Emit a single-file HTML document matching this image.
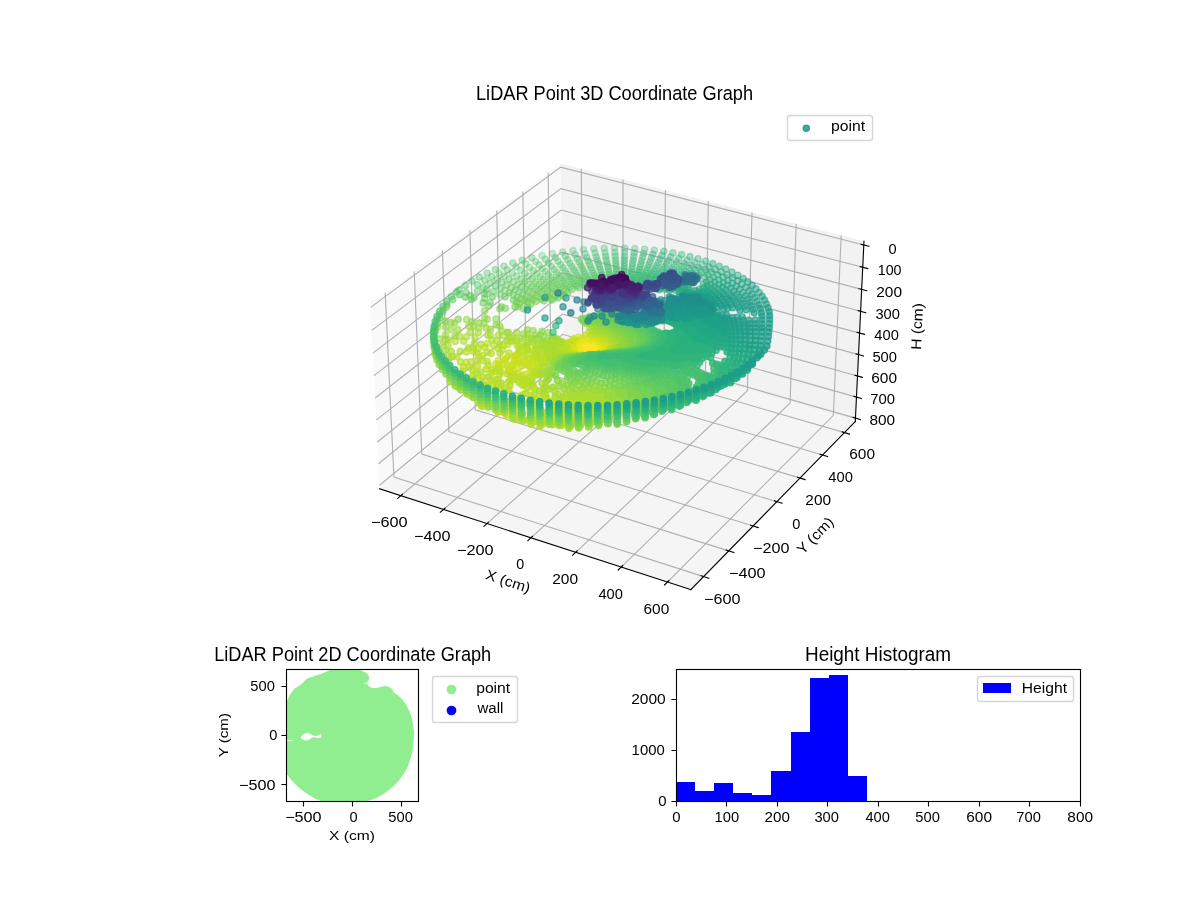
<!DOCTYPE html>
<html lang="en"><head><meta charset="utf-8"><title>LiDAR Point Coordinate Graphs</title>
<style>html,body{margin:0;padding:0;background:#fff}
svg{display:block}
text{font-family:"Liberation Sans", sans-serif;fill:#000;text-anchor:middle}
.g{fill:none;stroke:#b0b0b0;stroke-width:1.11}
.k{fill:none;stroke:#000;stroke-width:1.11;stroke-linecap:square}
.lg{fill:#fff;fill-opacity:.8;stroke:#ccc;stroke-opacity:.8;stroke-width:1.39}
#pc circle{stroke-width:1.39px}
.c0{fill:#440154;stroke:#440154}
.c1{fill:#46085c;stroke:#46085c}
.c2{fill:#471063;stroke:#471063}
.c3{fill:#48186a;stroke:#48186a}
.c4{fill:#481f70;stroke:#481f70}
.c5{fill:#482677;stroke:#482677}
.c6{fill:#472d7b;stroke:#472d7b}
.c7{fill:#463480;stroke:#463480}
.c8{fill:#443a83;stroke:#443a83}
.c9{fill:#424186;stroke:#424186}
.c10{fill:#3f4788;stroke:#3f4788}
.c11{fill:#3d4d8a;stroke:#3d4d8a}
.c12{fill:#3a538b;stroke:#3a538b}
.c13{fill:#38598c;stroke:#38598c}
.c14{fill:#355f8d;stroke:#355f8d}
.c15{fill:#32648e;stroke:#32648e}
.c16{fill:#306a8e;stroke:#306a8e}
.c17{fill:#2e6f8e;stroke:#2e6f8e}
.c18{fill:#2b748e;stroke:#2b748e}
.c19{fill:#29798e;stroke:#29798e}
.c20{fill:#277e8e;stroke:#277e8e}
.c21{fill:#25838e;stroke:#25838e}
.c22{fill:#23888e;stroke:#23888e}
.c23{fill:#218e8d;stroke:#218e8d}
.c24{fill:#20928c;stroke:#20928c}
.c25{fill:#1f988b;stroke:#1f988b}
.c26{fill:#1e9d89;stroke:#1e9d89}
.c27{fill:#1fa287;stroke:#1fa287}
.c28{fill:#22a785;stroke:#22a785}
.c29{fill:#25ac82;stroke:#25ac82}
.c30{fill:#2cb17e;stroke:#2cb17e}
.c31{fill:#32b67a;stroke:#32b67a}
.c32{fill:#3bbb75;stroke:#3bbb75}
.c33{fill:#44bf70;stroke:#44bf70}
.c34{fill:#50c46a;stroke:#50c46a}
.c35{fill:#5ac864;stroke:#5ac864}
.c36{fill:#67cc5c;stroke:#67cc5c}
.c37{fill:#73d056;stroke:#73d056}
.c38{fill:#7fd34e;stroke:#7fd34e}
.c39{fill:#8ed645;stroke:#8ed645}
.c40{fill:#9bd93c;stroke:#9bd93c}
.c41{fill:#aadc32;stroke:#aadc32}
.c42{fill:#b8de29;stroke:#b8de29}
.c43{fill:#c8e020;stroke:#c8e020}
.c44{fill:#d5e21a;stroke:#d5e21a}
.c45{fill:#e5e419;stroke:#e5e419}
.c46{fill:#f1e51d;stroke:#f1e51d}
.c47{fill:#fde725;stroke:#fde725}</style></head><body>
<svg width="1200" height="900" viewBox="0 0 1200 900">
<rect width="1200" height="900" fill="#fff"/>
<polygon points="370.4,303.6 560.6,163.5 562.7,337.7 379.7,488.8" fill="#f9f9f9"/>
<polygon points="560.6,163.5 864,241.2 855.3,421.6 562.7,337.7" fill="#f2f2f2"/>
<polygon points="379.7,488.8 690.8,589.6 855.3,421.6 562.7,337.7" fill="#f5f5f5"/>
<polyline class="g" points="400.8,495.7 582.7,343.4 581.3,168.8"/>
<polyline class="g" points="443.5,509.5 623,355 623,179.5"/>
<polyline class="g" points="486.9,523.6 663.9,366.7 665.4,190.3"/>
<polyline class="g" points="531,537.8 705.3,378.6 708.3,201.3"/>
<polyline class="g" points="575.7,552.3 747.4,390.7 752,212.5"/>
<polyline class="g" points="621.2,567.1 790.1,402.9 796.2,223.9"/>
<polyline class="g" points="667.4,582.1 833.4,415.3 841.2,235.4"/>
<polyline class="g" points="703.6,576.6 393.9,477.1 385.2,292.7"/>
<polyline class="g" points="728.7,550.9 421.8,454.1 414.2,271.3"/>
<polyline class="g" points="753.2,526 448.9,431.7 442.4,250.6"/>
<polyline class="g" points="776.9,501.7 475.3,409.9 469.9,230.3"/>
<polyline class="g" points="800.1,478.1 501.1,388.6 496.7,210.6"/>
<polyline class="g" points="822.6,455 526.2,367.9 522.8,191.4"/>
<polyline class="g" points="844.6,432.6 550.7,347.6 548.2,172.7"/>
<polyline class="g" points="370.6,307.4 560.7,167.1 863.8,245"/>
<polyline class="g" points="371.8,330.4 560.9,188.6 862.7,267.3"/>
<polyline class="g" points="372.9,353.1 561.2,210 861.7,289.4"/>
<polyline class="g" points="374,375.6 561.5,231.1 860.6,311.3"/>
<polyline class="g" points="375.2,398 561.7,252.1 859.6,333.1"/>
<polyline class="g" points="376.3,420.1 562,272.9 858.5,354.6"/>
<polyline class="g" points="377.4,442 562.2,293.5 857.5,376"/>
<polyline class="g" points="378.5,463.7 562.4,314 856.5,397.1"/>
<polyline class="g" points="379.6,485.2 562.7,334.3 855.5,418.1"/>
<polyline class="k" points="379.7,488.8 690.8,589.6"/>
<polyline class="k" points="690.8,589.6 855.3,421.6"/>
<polyline class="k" points="855.3,421.6 864,241.2"/>
<path class="k" d="M402.4 494.3L397.7 498.3M445.1 508.1L440.4 512.2M488.5 522.2L483.8 526.3M532.5 536.4L527.9 540.6M577.2 550.9L572.7 555.2M622.7 565.6L618.2 570M668.9 580.6L664.5 585M701 575.7L708.8 578.2M726.1 550.1L733.9 552.5M750.6 525.2L758.3 527.6M774.4 500.9L782 503.2M797.6 477.3L805.1 479.6M820.1 454.3L827.6 456.5M842.1 431.9L849.5 434.1M861.2 244.3L868.9 246.3M860.2 266.6L867.8 268.6M859.1 288.7L866.7 290.7M858.1 310.6L865.7 312.7M857.1 332.4L864.6 334.4M856 353.9L863.5 356M855 375.3L862.5 377.4M854 396.4L861.5 398.5M853 417.4L860.4 419.6"/>
<g id="pc">
<g fill-opacity="0.29" stroke-opacity="0.29">
<circle class="c32" cx="604.2" cy="248.3" r="3.1"/>
<circle class="c33" cx="593.8" cy="248.8" r="3.1"/>
<circle class="c32" cx="614.5" cy="248.1" r="3.1"/>
<circle class="c33" cx="583.4" cy="249.5" r="3.1"/>
<circle class="c32" cx="624.7" cy="248.2" r="3.1"/>
<circle class="c33" cx="573" cy="250.6" r="3.1"/>
<circle class="c32" cx="634.8" cy="248.6" r="3.1"/>
<circle class="c33" cx="562.7" cy="252" r="3.1"/>
<circle class="c32" cx="644.7" cy="249.2" r="3.1"/>
<circle class="c33" cx="552.4" cy="253.6" r="3.1"/>
<circle class="c33" cx="605" cy="252.5" r="3.1"/>
<circle class="c33" cx="595" cy="252.9" r="3.1"/>
<circle class="c32" cx="614.8" cy="252.3" r="3.1"/>
<circle class="c33" cx="585.1" cy="253.7" r="3.1"/>
<circle class="c31" cx="654.4" cy="250.2" r="3.1"/>
<circle class="c32" cx="624.6" cy="252.3" r="3.1"/>
<circle class="c34" cx="542" cy="255.5" r="3.1"/>
<circle class="c33" cx="575.1" cy="254.7" r="3.1"/>
</g>
<g fill-opacity="0.36" stroke-opacity="0.36">
<circle class="c32" cx="634.2" cy="252.7" r="3.1"/>
<circle class="c33" cx="565.2" cy="256" r="3.1"/>
<circle class="c34" cx="531.8" cy="257.7" r="3.1"/>
<circle class="c31" cx="663.8" cy="251.4" r="3.1"/>
<circle class="c34" cx="555.3" cy="257.6" r="3.1"/>
<circle class="c32" cx="643.7" cy="253.3" r="3.1"/>
<circle class="c33" cx="596.2" cy="256.8" r="3.1"/>
<circle class="c33" cx="605.7" cy="256.3" r="3.1"/>
<circle class="c33" cx="586.7" cy="257.5" r="3.1"/>
<circle class="c33" cx="615.2" cy="256.1" r="3.1"/>
<circle class="c34" cx="545.4" cy="259.4" r="3.1"/>
<circle class="c33" cx="577.1" cy="258.5" r="3.1"/>
<circle class="c31" cx="652.9" cy="254.2" r="3.1"/>
<circle class="c32" cx="624.5" cy="256.2" r="3.1"/>
<circle class="c31" cx="672.9" cy="252.9" r="3.1"/>
<circle class="c34" cx="567.6" cy="259.7" r="3.1"/>
<circle class="c34" cx="522.2" cy="260.3" r="3.1"/>
<circle class="c32" cx="633.7" cy="256.5" r="3.1"/>
<circle class="c34" cx="535.5" cy="261.5" r="3.1"/>
<circle class="c34" cx="558" cy="261.3" r="3.1"/>
<circle class="c31" cx="661.9" cy="255.4" r="3.1"/>
<circle class="c32" cx="642.7" cy="257.1" r="3.1"/>
<circle class="c33" cx="597.3" cy="260.4" r="3.1"/>
<circle class="c33" cx="588.2" cy="261.1" r="3.1"/>
<circle class="c33" cx="606.4" cy="259.9" r="3.1"/>
<circle class="c34" cx="548.5" cy="263.1" r="3.1"/>
<circle class="c30" cx="681.6" cy="254.6" r="3.1"/>
<circle class="c33" cx="615.5" cy="259.7" r="3.1"/>
<circle class="c34" cx="579" cy="262" r="3.1"/>
<circle class="c34" cx="525.7" cy="263.9" r="3.1"/>
<circle class="c34" cx="512.9" cy="263.1" r="3.1"/>
<circle class="c32" cx="624.4" cy="259.8" r="3.1"/>
<circle class="c32" cx="651.5" cy="257.9" r="3.1"/>
<circle class="c34" cx="569.8" cy="263.2" r="3.1"/>
<circle class="c31" cx="670.6" cy="256.7" r="3.1"/>
<circle class="c34" cx="539" cy="265.1" r="3.1"/>
<circle class="c32" cx="633.2" cy="260.1" r="3.1"/>
<circle class="c34" cx="560.6" cy="264.7" r="3.1"/>
<circle class="c35" cx="516.2" cy="266.7" r="3.1"/>
<circle class="c31" cx="660.1" cy="259" r="3.1"/>
<circle class="c32" cx="641.8" cy="260.6" r="3.1"/>
<circle class="c30" cx="690" cy="256.6" r="3.1"/>
<circle class="c33" cx="598.4" cy="263.7" r="3.1"/>
<circle class="c34" cx="551.4" cy="266.5" r="3.1"/>
<circle class="c34" cx="589.6" cy="264.4" r="3.1"/>
<circle class="c33" cx="607.1" cy="263.3" r="3.1"/>
<circle class="c34" cx="580.7" cy="265.3" r="3.1"/>
<circle class="c35" cx="529.7" cy="267.5" r="3.1"/>
<circle class="c33" cx="615.8" cy="263.1" r="3.1"/>
<circle class="c31" cx="678.9" cy="258.3" r="3.1"/>
<circle class="c34" cx="503.9" cy="266.2" r="3.1"/>
<circle class="c34" cx="571.8" cy="266.5" r="3.1"/>
<circle class="c32" cx="624.3" cy="263.1" r="3.1"/>
<circle class="c32" cx="650.2" cy="261.4" r="3.1"/>
<circle class="c35" cx="542.3" cy="268.5" r="3.1"/>
<circle class="c34" cx="563" cy="267.9" r="3.1"/>
<circle class="c31" cx="668.4" cy="260.3" r="3.1"/>
<circle class="c32" cx="632.7" cy="263.4" r="3.1"/>
<circle class="c35" cx="507.2" cy="269.7" r="3.1"/>
<circle class="c35" cx="520.7" cy="270.1" r="3.1"/>
<circle class="c35" cx="554.2" cy="269.6" r="3.1"/>
<circle class="c31" cx="658.5" cy="262.4" r="3.1"/>
<circle class="c30" cx="698" cy="258.7" r="3.1"/>
<circle class="c34" cx="590.9" cy="267.5" r="3.1"/>
<circle class="c33" cx="599.4" cy="266.8" r="3.1"/>
<circle class="c34" cx="582.3" cy="268.4" r="3.1"/>
<circle class="c32" cx="640.9" cy="263.9" r="3.1"/>
<circle class="c35" cx="533.4" cy="270.7" r="3.1"/>
<circle class="c30" cx="687" cy="260.2" r="3.1"/>
<circle class="c33" cx="607.7" cy="266.4" r="3.1"/>
<circle class="c34" cx="573.8" cy="269.6" r="3.1"/>
<circle class="c33" cx="616" cy="266.2" r="3.1"/>
<circle class="c31" cx="676.4" cy="261.8" r="3.1"/>
<circle class="c35" cx="545.4" cy="271.6" r="3.1"/>
<circle class="c34" cx="495.3" cy="269.6" r="3.1"/>
<circle class="c35" cx="565.2" cy="271" r="3.1"/>
<circle class="c32" cx="624.2" cy="266.2" r="3.1"/>
<circle class="c32" cx="649" cy="264.6" r="3.1"/>
<circle class="c31" cx="666.4" cy="263.6" r="3.1"/>
<circle class="c32" cx="632.2" cy="266.5" r="3.1"/>
<circle class="c35" cx="556.7" cy="272.6" r="3.1"/>
<circle class="c35" cx="512.1" cy="273" r="3.1"/>
<circle class="c35" cx="524.8" cy="273.3" r="3.1"/>
<circle class="c34" cx="592.1" cy="270.4" r="3.1"/>
<circle class="c35" cx="536.9" cy="273.8" r="3.1"/>
<circle class="c34" cx="583.9" cy="271.3" r="3.1"/>
<circle class="c35" cx="499.1" cy="273" r="3.1"/>
<circle class="c33" cx="600.3" cy="269.8" r="3.1"/>
<circle class="c31" cx="656.9" cy="265.5" r="3.1"/>
<circle class="c30" cx="694.6" cy="262.2" r="3.1"/>
<circle class="c29" cx="705.6" cy="261" r="3.1"/>
<circle class="c34" cx="575.6" cy="272.4" r="3.1"/>
<circle class="c33" cx="608.4" cy="269.3" r="3.1"/>
<circle class="c32" cx="640.1" cy="266.9" r="3.1"/>
<circle class="c30" cx="684.2" cy="263.5" r="3.1"/>
<circle class="c35" cx="548.4" cy="274.5" r="3.1"/>
<circle class="c33" cx="616.3" cy="269.1" r="3.1"/>
<circle class="c35" cx="567.4" cy="273.8" r="3.1"/>
<circle class="c31" cx="674.1" cy="265" r="3.1"/>
<circle class="c32" cx="624.1" cy="269.1" r="3.1"/>
<circle class="c32" cx="647.9" cy="267.6" r="3.1"/>
<circle class="c35" cx="559.2" cy="275.4" r="3.1"/>
<circle class="c31" cx="664.5" cy="266.6" r="3.1"/>
<circle class="c34" cx="487.1" cy="273.2" r="3.1"/>
<circle class="c35" cx="528.7" cy="276.3" r="3.1"/>
<circle class="c35" cx="516.7" cy="276.1" r="3.1"/>
<circle class="c32" cx="631.8" cy="269.3" r="3.1"/>
<circle class="c35" cx="540.2" cy="276.7" r="3.1"/>
<circle class="c34" cx="585.4" cy="274" r="3.1"/>
<circle class="c34" cx="593.4" cy="273.2" r="3.1"/>
<circle class="c35" cx="504.3" cy="276.1" r="3.1"/>
<circle class="c35" cx="577.4" cy="275.2" r="3.1"/>
<circle class="c33" cx="601.2" cy="272.5" r="3.1"/>
<circle class="c35" cx="551.1" cy="277.3" r="3.1"/>
<circle class="c30" cx="691.5" cy="265.4" r="3.1"/>
<circle class="c31" cx="655.4" cy="268.4" r="3.1"/>
<circle class="c33" cx="608.9" cy="272.1" r="3.1"/>
<circle class="c30" cx="701.9" cy="264.4" r="3.1"/>
</g>
<g fill-opacity="0.43" stroke-opacity="0.43">
<circle class="c35" cx="569.4" cy="276.5" r="3.1"/>
<circle class="c31" cx="681.5" cy="266.6" r="3.1"/>
<circle class="c32" cx="639.4" cy="269.7" r="3.1"/>
<circle class="c29" cx="712.7" cy="263.6" r="3.1"/>
<circle class="c33" cx="616.5" cy="271.8" r="3.1"/>
<circle class="c35" cx="491.7" cy="276.5" r="3.1"/>
<circle class="c31" cx="671.9" cy="268" r="3.1"/>
<circle class="c35" cx="561.5" cy="278.1" r="3.1"/>
<circle class="c32" cx="624" cy="271.8" r="3.1"/>
<circle class="c36" cx="532.3" cy="279.1" r="3.1"/>
<circle class="c35" cx="520.9" cy="279" r="3.1"/>
<circle class="c32" cx="646.7" cy="270.4" r="3.1"/>
<circle class="c36" cx="543.3" cy="279.4" r="3.1"/>
<circle class="c31" cx="662.7" cy="269.5" r="3.1"/>
<circle class="c34" cx="586.8" cy="276.6" r="3.1"/>
<circle class="c35" cx="509.1" cy="279.1" r="3.1"/>
<circle class="c34" cx="594.5" cy="275.7" r="3.1"/>
<circle class="c35" cx="579.1" cy="277.7" r="3.1"/>
<circle class="c32" cx="631.4" cy="272" r="3.1"/>
<circle class="c36" cx="553.8" cy="279.9" r="3.1"/>
<circle class="c33" cx="602" cy="275.1" r="3.1"/>
<circle class="c35" cx="571.4" cy="279" r="3.1"/>
<circle class="c30" cx="688.6" cy="268.4" r="3.1"/>
<circle class="c33" cx="609.5" cy="274.6" r="3.1"/>
<circle class="c34" cx="479.3" cy="277.1" r="3.1"/>
<circle class="c30" cx="698.5" cy="267.5" r="3.1"/>
<circle class="c31" cx="653.9" cy="271.2" r="3.1"/>
<circle class="c31" cx="679" cy="269.5" r="3.1"/>
<circle class="c32" cx="638.6" cy="272.4" r="3.1"/>
<circle class="c35" cx="497.1" cy="279.5" r="3.1"/>
<circle class="c35" cx="563.8" cy="280.6" r="3.1"/>
<circle class="c33" cx="616.8" cy="274.4" r="3.1"/>
<circle class="c29" cx="708.8" cy="266.8" r="3.1"/>
<circle class="c36" cx="535.7" cy="281.7" r="3.1"/>
<circle class="c31" cx="669.8" cy="270.8" r="3.1"/>
<circle class="c36" cx="524.8" cy="281.7" r="3.1"/>
<circle class="c36" cx="546.2" cy="281.9" r="3.1"/>
<circle class="c32" cx="623.9" cy="274.4" r="3.1"/>
<circle class="c29" cx="719.4" cy="266.3" r="3.1"/>
<circle class="c32" cx="645.7" cy="273" r="3.1"/>
<circle class="c36" cx="513.6" cy="281.9" r="3.1"/>
<circle class="c34" cx="588.2" cy="279" r="3.1"/>
<circle class="c36" cx="556.3" cy="282.4" r="3.1"/>
<circle class="c35" cx="580.8" cy="280.1" r="3.1"/>
<circle class="c31" cx="660.9" cy="272.2" r="3.1"/>
<circle class="c34" cx="595.6" cy="278.1" r="3.1"/>
<circle class="c35" cx="573.3" cy="281.4" r="3.1"/>
<circle class="c35" cx="484.7" cy="280.2" r="3.1"/>
<circle class="c32" cx="631" cy="274.5" r="3.1"/>
<circle class="c33" cx="602.9" cy="277.5" r="3.1"/>
<circle class="c30" cx="685.8" cy="271.2" r="3.1"/>
<circle class="c33" cx="610" cy="277" r="3.1"/>
<circle class="c30" cx="695.4" cy="270.4" r="3.1"/>
<circle class="c36" cx="565.9" cy="283" r="3.1"/>
<circle class="c35" cx="502.1" cy="282.3" r="3.1"/>
<circle class="c31" cx="676.6" cy="272.2" r="3.1"/>
<circle class="c31" cx="652.6" cy="273.7" r="3.1"/>
<circle class="c36" cx="538.9" cy="284.2" r="3.1"/>
<circle class="c32" cx="637.9" cy="274.9" r="3.1"/>
<circle class="c30" cx="705.2" cy="269.7" r="3.1"/>
<circle class="c36" cx="528.5" cy="284.2" r="3.1"/>
<circle class="c36" cx="549" cy="284.3" r="3.1"/>
<circle class="c33" cx="617" cy="276.8" r="3.1"/>
<circle class="c31" cx="667.7" cy="273.4" r="3.1"/>
<circle class="c36" cx="517.8" cy="284.5" r="3.1"/>
<circle class="c36" cx="558.7" cy="284.7" r="3.1"/>
<circle class="c32" cx="623.9" cy="276.7" r="3.1"/>
<circle class="c35" cx="582.4" cy="282.4" r="3.1"/>
<circle class="c29" cx="715.2" cy="269.3" r="3.1"/>
<circle class="c34" cx="589.5" cy="281.3" r="3.1"/>
<circle class="c32" cx="644.7" cy="275.4" r="3.1"/>
<circle class="c34" cx="596.6" cy="280.4" r="3.1"/>
<circle class="c35" cx="575.2" cy="283.7" r="3.1"/>
<circle class="c34" cx="472.1" cy="281.1" r="3.1"/>
<circle class="c35" cx="490.3" cy="283.1" r="3.1"/>
<circle class="c31" cx="659.3" cy="274.7" r="3.1"/>
<circle class="c33" cx="603.6" cy="279.7" r="3.1"/>
<circle class="c32" cx="630.6" cy="276.9" r="3.1"/>
<circle class="c36" cx="568" cy="285.2" r="3.1"/>
<circle class="c35" cx="506.8" cy="285" r="3.1"/>
<circle class="c36" cx="541.9" cy="286.5" r="3.1"/>
<circle class="c29" cx="725.8" cy="269.1" r="3.1"/>
<circle class="c30" cx="692.4" cy="273.1" r="3.1"/>
<circle class="c31" cx="683.2" cy="273.8" r="3.1"/>
<circle class="c33" cx="610.5" cy="279.3" r="3.1"/>
<circle class="c36" cx="531.9" cy="286.6" r="3.1"/>
<circle class="c36" cx="551.7" cy="286.6" r="3.1"/>
<circle class="c31" cx="674.3" cy="274.7" r="3.1"/>
<circle class="c30" cx="701.8" cy="272.5" r="3.1"/>
<circle class="c31" cx="651.3" cy="276.1" r="3.1"/>
<circle class="c33" cx="617.2" cy="279" r="3.1"/>
<circle class="c32" cx="637.2" cy="277.2" r="3.1"/>
<circle class="c36" cx="521.7" cy="286.9" r="3.1"/>
<circle class="c36" cx="561" cy="286.9" r="3.1"/>
<circle class="c31" cx="665.8" cy="275.8" r="3.1"/>
<circle class="c35" cx="583.9" cy="284.5" r="3.1"/>
<circle class="c29" cx="711.4" cy="272.2" r="3.1"/>
<circle class="c34" cx="590.8" cy="283.4" r="3.1"/>
<circle class="c32" cx="623.8" cy="278.9" r="3.1"/>
<circle class="c35" cx="576.9" cy="285.8" r="3.1"/>
<circle class="c35" cx="495.5" cy="285.8" r="3.1"/>
<circle class="c34" cx="597.7" cy="282.5" r="3.1"/>
<circle class="c31" cx="643.7" cy="277.7" r="3.1"/>
<circle class="c36" cx="544.8" cy="288.7" r="3.1"/>
<circle class="c34" cx="477.5" cy="284.7" r="3.1"/>
<circle class="c36" cx="511.2" cy="287.5" r="3.1"/>
<circle class="c33" cx="604.4" cy="281.9" r="3.1"/>
<circle class="c36" cx="570.1" cy="287.3" r="3.1"/>
<circle class="c31" cx="657.7" cy="277" r="3.1"/>
<circle class="c36" cx="535.2" cy="288.9" r="3.1"/>
<circle class="c36" cx="554.2" cy="288.8" r="3.1"/>
<circle class="c32" cx="630.3" cy="279" r="3.1"/>
<circle class="c30" cx="689.6" cy="275.6" r="3.1"/>
<circle class="c29" cx="721.4" cy="272" r="3.1"/>
<circle class="c33" cx="610.9" cy="281.4" r="3.1"/>
<circle class="c31" cx="680.7" cy="276.3" r="3.1"/>
<circle class="c30" cx="698.7" cy="275.1" r="3.1"/>
<circle class="c36" cx="525.3" cy="289.3" r="3.1"/>
<circle class="c36" cx="563.3" cy="288.9" r="3.1"/>
<circle class="c31" cx="672.1" cy="277.1" r="3.1"/>
<circle class="c32" cx="617.4" cy="281.1" r="3.1"/>
<circle class="c31" cx="650" cy="278.3" r="3.1"/>
<circle class="c32" cx="636.6" cy="279.3" r="3.1"/>
<circle class="c35" cx="500.4" cy="288.3" r="3.1"/>
<circle class="c35" cx="585.4" cy="286.5" r="3.1"/>
<circle class="c30" cx="707.9" cy="274.8" r="3.1"/>
<circle class="c34" cx="592.1" cy="285.4" r="3.1"/>
<circle class="c28" cx="732" cy="272.1" r="3.1"/>
<circle class="c35" cx="578.7" cy="287.8" r="3.1"/>
<circle class="c31" cx="663.9" cy="278.1" r="3.1"/>
<circle class="c32" cx="623.7" cy="281" r="3.1"/>
<circle class="c34" cx="465.4" cy="285.4" r="3.1"/>
<circle class="c36" cx="547.6" cy="290.8" r="3.1"/>
<circle class="c35" cx="483.4" cy="287.3" r="3.1"/>
<circle class="c36" cx="515.3" cy="289.8" r="3.1"/>
<circle class="c34" cx="598.6" cy="284.5" r="3.1"/>
<circle class="c36" cx="538.3" cy="291" r="3.1"/>
<circle class="c36" cx="572.1" cy="289.2" r="3.1"/>
<circle class="c36" cx="556.7" cy="290.8" r="3.1"/>
<circle class="c33" cx="605.1" cy="283.9" r="3.1"/>
<circle class="c31" cx="642.8" cy="279.8" r="3.1"/>
<circle class="c36" cx="528.8" cy="291.4" r="3.1"/>
<circle class="c31" cx="656.2" cy="279.2" r="3.1"/>
<circle class="c32" cx="629.9" cy="281.1" r="3.1"/>
<circle class="c29" cx="717.4" cy="274.7" r="3.1"/>
<circle class="c33" cx="611.4" cy="283.4" r="3.1"/>
<circle class="c30" cx="686.8" cy="278" r="3.1"/>
<circle class="c30" cx="695.6" cy="277.5" r="3.1"/>
<circle class="c36" cx="565.5" cy="290.9" r="3.1"/>
<circle class="c31" cx="678.2" cy="278.5" r="3.1"/>
<circle class="c35" cx="486.5" cy="289.4" r="3.1"/>
<circle class="c36" cx="504.9" cy="290.7" r="3.1"/>
<circle class="c32" cx="617.6" cy="283.1" r="3.1"/>
<circle class="c31" cx="669.9" cy="279.3" r="3.1"/>
<circle class="c32" cx="636" cy="281.3" r="3.1"/>
<circle class="c31" cx="648.8" cy="280.4" r="3.1"/>
<circle class="c30" cx="704.6" cy="277.3" r="3.1"/>
<circle class="c36" cx="519.1" cy="292.1" r="3.1"/>
<circle class="c36" cx="550.3" cy="292.8" r="3.1"/>
<circle class="c37" cx="541.3" cy="293.1" r="3.1"/>
<circle class="c29" cx="727.3" cy="274.9" r="3.1"/>
<circle class="c32" cx="623.7" cy="283" r="3.1"/>
<circle class="c34" cx="599.5" cy="286.4" r="3.1"/>
<circle class="c36" cx="559.1" cy="292.7" r="3.1"/>
<circle class="c31" cx="662.1" cy="280.2" r="3.1"/>
<circle class="c37" cx="532.1" cy="293.5" r="3.1"/>
<circle class="c33" cx="605.7" cy="285.7" r="3.1"/>
<circle class="c31" cx="641.9" cy="281.8" r="3.1"/>
<circle class="c29" cx="713.6" cy="277.3" r="3.1"/>
<circle class="c32" cx="629.6" cy="283" r="3.1"/>
<circle class="c35" cx="493.4" cy="291.6" r="3.1"/>
<circle class="c33" cx="611.8" cy="285.3" r="3.1"/>
<circle class="c36" cx="567.7" cy="292.7" r="3.1"/>
<circle class="c31" cx="654.7" cy="281.2" r="3.1"/>
<circle class="c36" cx="509.3" cy="292.9" r="3.1"/>
<circle class="c30" cx="684" cy="280.1" r="3.1"/>
<circle class="c30" cx="692.6" cy="279.8" r="3.1"/>
<circle class="c36" cx="522.8" cy="294.2" r="3.1"/>
<circle class="c28" cx="737.8" cy="275.2" r="3.1"/>
<circle class="c30" cx="675.7" cy="280.7" r="3.1"/>
<circle class="c37" cx="544.1" cy="295" r="3.1"/>
<circle class="c37" cx="552.9" cy="294.6" r="3.1"/>
<circle class="c32" cx="617.8" cy="284.9" r="3.1"/>
<circle class="c35" cx="477.5" cy="291.2" r="3.1"/>
<circle class="c31" cx="635.5" cy="283.2" r="3.1"/>
<circle class="c31" cx="647.7" cy="282.3" r="3.1"/>
<circle class="c31" cx="667.9" cy="281.3" r="3.1"/>
<circle class="c37" cx="535.2" cy="295.5" r="3.1"/>
<circle class="c36" cx="561.5" cy="294.4" r="3.1"/>
<circle class="c29" cx="722.9" cy="277.4" r="3.1"/>
<circle class="c32" cx="623.6" cy="284.8" r="3.1"/>
<circle class="c33" cx="606.4" cy="287.5" r="3.1"/>
<circle class="c34" cx="459.3" cy="289.8" r="3.1"/>
<circle class="c31" cx="660.4" cy="282.1" r="3.1"/>
<circle class="c29" cx="710.1" cy="279.6" r="3.1"/>
<circle class="c36" cx="513.3" cy="295" r="3.1"/>
<circle class="c31" cx="641.1" cy="283.6" r="3.1"/>
<circle class="c37" cx="526.3" cy="296.1" r="3.1"/>
<circle class="c36" cx="486.7" cy="293.9" r="3.1"/>
<circle class="c33" cx="612.2" cy="287" r="3.1"/>
<circle class="c37" cx="546.9" cy="296.8" r="3.1"/>
<circle class="c37" cx="555.5" cy="296.4" r="3.1"/>
<circle class="c35" cx="484.2" cy="293.5" r="3.1"/>
<circle class="c31" cx="653.3" cy="283.1" r="3.1"/>
<circle class="c36" cx="499.9" cy="294.6" r="3.1"/>
<circle class="c30" cx="689.7" cy="281.9" r="3.1"/>
<circle class="c30" cx="681.3" cy="282.2" r="3.1"/>
<circle class="c37" cx="538.3" cy="297.3" r="3.1"/>
<circle class="c35" cx="466.1" cy="292.6" r="3.1"/>
<circle class="c28" cx="732.7" cy="277.8" r="3.1"/>
<circle class="c30" cx="673.4" cy="282.6" r="3.1"/>
<circle class="c36" cx="563.8" cy="296.1" r="3.1"/>
<circle class="c31" cx="646.7" cy="284.2" r="3.1"/>
<circle class="c29" cx="718.8" cy="279.8" r="3.1"/>
<circle class="c30" cx="665.9" cy="283.2" r="3.1"/>
<circle class="c36" cx="517.2" cy="297" r="3.1"/>
</g>
<g fill-opacity="0.50" stroke-opacity="0.50">
<circle class="c37" cx="529.6" cy="298" r="3.1"/>
<circle class="c30" cx="706.6" cy="281.9" r="3.1"/>
<circle class="c37" cx="549.6" cy="298.5" r="3.1"/>
<circle class="c30" cx="658.8" cy="284" r="3.1"/>
<circle class="c34" cx="456.7" cy="291.9" r="3.1"/>
<circle class="c36" cx="505.1" cy="296.7" r="3.1"/>
<circle class="c36" cx="557.9" cy="298" r="3.1"/>
<circle class="c37" cx="541.2" cy="299.1" r="3.1"/>
<circle class="c36" cx="492.5" cy="296.8" r="3.1"/>
<circle class="c35" cx="459.4" cy="294.7" r="3.1"/>
<circle class="c28" cx="743.1" cy="278.5" r="3.1"/>
<circle class="c31" cx="652.1" cy="284.8" r="3.1"/>
<circle class="c35" cx="470.2" cy="295.6" r="3.1"/>
<circle class="c30" cx="686.7" cy="283.9" r="3.1"/>
<circle class="c37" cx="520.8" cy="298.9" r="3.1"/>
<circle class="c28" cx="727.9" cy="280.3" r="3.1"/>
<circle class="c30" cx="678.7" cy="284.1" r="3.1"/>
<circle class="c37" cx="532.8" cy="299.8" r="3.1"/>
<circle class="c29" cx="714.9" cy="282.1" r="3.1"/>
<circle class="c30" cx="671.1" cy="284.4" r="3.1"/>
<circle class="c31" cx="645.7" cy="285.9" r="3.1"/>
<circle class="c37" cx="552.2" cy="300.1" r="3.1"/>
<circle class="c30" cx="664" cy="285" r="3.1"/>
<circle class="c37" cx="544" cy="300.7" r="3.1"/>
<circle class="c30" cx="703.2" cy="283.9" r="3.1"/>
<circle class="c35" cx="465.3" cy="297.1" r="3.1"/>
<circle class="c36" cx="473.9" cy="297.6" r="3.1"/>
<circle class="c30" cx="657.3" cy="285.7" r="3.1"/>
<circle class="c36" cx="484.6" cy="298.6" r="3.1"/>
<circle class="c37" cx="524.3" cy="300.7" r="3.1"/>
<circle class="c37" cx="535.8" cy="301.5" r="3.1"/>
<circle class="c30" cx="650.9" cy="286.5" r="3.1"/>
<circle class="c28" cx="737.6" cy="280.9" r="3.1"/>
<circle class="c36" cx="513.6" cy="300.3" r="3.1"/>
<circle class="c29" cx="723.4" cy="282.5" r="3.1"/>
<circle class="c29" cx="711.1" cy="284.2" r="3.1"/>
<circle class="c30" cx="683.7" cy="285.6" r="3.1"/>
<circle class="c30" cx="676.1" cy="285.8" r="3.1"/>
<circle class="c36" cx="471.5" cy="299.5" r="3.1"/>
<circle class="c30" cx="669" cy="286.1" r="3.1"/>
<circle class="c37" cx="527.7" cy="302.4" r="3.1"/>
<circle class="c30" cx="662.2" cy="286.6" r="3.1"/>
<circle class="c36" cx="452.7" cy="299.6" r="3.1"/>
<circle class="c30" cx="655.8" cy="287.3" r="3.1"/>
<circle class="c37" cx="516.8" cy="302" r="3.1"/>
<circle class="c28" cx="747.8" cy="281.9" r="3.1"/>
<circle class="c28" cx="732.4" cy="283.2" r="3.1"/>
<circle class="c37" cx="519.3" cy="303.2" r="3.1"/>
<circle class="c29" cx="719.1" cy="284.6" r="3.1"/>
<circle class="c34" cx="451.4" cy="296.6" r="3.1"/>
<circle class="c36" cx="490.2" cy="302.5" r="3.1"/>
<circle class="c37" cx="530.9" cy="304" r="3.1"/>
<circle class="c29" cx="707.2" cy="286.1" r="3.1"/>
<circle class="c36" cx="483.1" cy="302.9" r="3.1"/>
<circle class="c30" cx="673.7" cy="287.4" r="3.1"/>
<circle class="c30" cx="667" cy="287.7" r="3.1"/>
<circle class="c30" cx="680.8" cy="287.3" r="3.1"/>
<circle class="c30" cx="660.6" cy="288.2" r="3.1"/>
<circle class="c30" cx="688.2" cy="287.3" r="3.1"/>
<circle class="c30" cx="654.5" cy="288.8" r="3.1"/>
<circle class="c28" cx="741.9" cy="284.1" r="3.1"/>
<circle class="c28" cx="727.4" cy="285.3" r="3.1"/>
<circle class="c29" cx="714.8" cy="286.5" r="3.1"/>
<circle class="c29" cx="703.3" cy="287.8" r="3.1"/>
<circle class="c30" cx="665.1" cy="289.2" r="3.1"/>
<circle class="c30" cx="659.1" cy="289.7" r="3.1"/>
<circle class="c30" cx="671.5" cy="288.9" r="3.1"/>
<circle class="c29" cx="678.1" cy="288.8" r="3.1"/>
<circle class="c37" cx="488.7" cy="305.9" r="3.1"/>
<circle class="c29" cx="685" cy="288.8" r="3.1"/>
<circle class="c37" cx="517.7" cy="307" r="3.1"/>
<circle class="c37" cx="527.9" cy="307.3" r="3.1"/>
<circle class="c37" cx="515" cy="306.8" r="3.1"/>
<circle class="c37" cx="501.4" cy="306.8" r="3.1"/>
<circle class="c28" cx="722.7" cy="287.2" r="3.1"/>
<circle class="c28" cx="736.3" cy="286.2" r="3.1"/>
<circle class="c27" cx="752.1" cy="285.4" r="3.1"/>
<circle class="c29" cx="710.6" cy="288.3" r="3.1"/>
<circle class="c36" cx="446.9" cy="304.7" r="3.1"/>
<circle class="c37" cx="446.5" cy="307.1" r="3.1"/>
<circle class="c29" cx="669.4" cy="290.3" r="3.1"/>
<circle class="c29" cx="699.3" cy="289.4" r="3.1"/>
<circle class="c29" cx="675.6" cy="290.2" r="3.1"/>
<circle class="c37" cx="523.8" cy="309" r="3.1"/>
<circle class="c37" cx="505.3" cy="308.3" r="3.1"/>
<circle class="c29" cx="682.1" cy="290.2" r="3.1"/>
<circle class="c34" cx="446.8" cy="301.4" r="3.1"/>
<circle class="c37" cx="499.9" cy="308.7" r="3.1"/>
<circle class="c28" cx="718" cy="288.9" r="3.1"/>
<circle class="c28" cx="730.9" cy="288.1" r="3.1"/>
<circle class="c29" cx="688.7" cy="290.4" r="3.1"/>
<circle class="c38" cx="484.6" cy="310.8" r="3.1"/>
<circle class="c27" cx="745.8" cy="287.4" r="3.1"/>
<circle class="c28" cx="706.4" cy="289.8" r="3.1"/>
<circle class="c29" cx="695.5" cy="290.7" r="3.1"/>
<circle class="c29" cx="679.4" cy="291.5" r="3.1"/>
<circle class="c37" cx="442.7" cy="312" r="3.1"/>
<circle class="c28" cx="725.7" cy="289.8" r="3.1"/>
<circle class="c28" cx="713.4" cy="290.5" r="3.1"/>
<circle class="c27" cx="739.7" cy="289.3" r="3.1"/>
<circle class="c29" cx="685.6" cy="291.7" r="3.1"/>
<circle class="c28" cx="702.2" cy="291.2" r="3.1"/>
<circle class="c27" cx="755.9" cy="288.9" r="3.1"/>
<circle class="c28" cx="691.9" cy="292" r="3.1"/>
<circle class="c36" cx="443" cy="309.6" r="3.1"/>
<circle class="c28" cx="720.7" cy="291.4" r="3.1"/>
<circle class="c28" cx="682.7" cy="292.9" r="3.1"/>
<circle class="c28" cx="709" cy="291.9" r="3.1"/>
<circle class="c27" cx="734" cy="291" r="3.1"/>
<circle class="c28" cx="698.2" cy="292.5" r="3.1"/>
<circle class="c27" cx="749.2" cy="290.8" r="3.1"/>
<circle class="c34" cx="442.9" cy="306.3" r="3.1"/>
<circle class="c28" cx="688.6" cy="293.2" r="3.1"/>
<circle class="c39" cx="484.7" cy="317.8" r="3.1"/>
<circle class="c28" cx="715.9" cy="292.8" r="3.1"/>
<circle class="c27" cx="728.4" cy="292.5" r="3.1"/>
<circle class="c28" cx="704.7" cy="293.2" r="3.1"/>
<circle class="c39" cx="466.7" cy="319.5" r="3.1"/>
<circle class="c27" cx="742.8" cy="292.5" r="3.1"/>
<circle class="c28" cx="694.6" cy="293.7" r="3.1"/>
<circle class="c38" cx="496" cy="319.1" r="3.1"/>
<circle class="c39" cx="487.3" cy="319.2" r="3.1"/>
<circle class="c28" cx="685.7" cy="294.3" r="3.1"/>
<circle class="c27" cx="759.2" cy="292.6" r="3.1"/>
</g>
<g fill-opacity="0.57" stroke-opacity="0.57">
<circle class="c39" cx="472.1" cy="321.6" r="3.1"/>
<circle class="c38" cx="458.2" cy="319.2" r="3.1"/>
<circle class="c27" cx="711.3" cy="294" r="3.1"/>
<circle class="c27" cx="723.1" cy="293.9" r="3.1"/>
<circle class="c27" cx="700.7" cy="294.3" r="3.1"/>
<circle class="c27" cx="691.3" cy="294.8" r="3.1"/>
<circle class="c27" cx="736.7" cy="294" r="3.1"/>
<circle class="c28" cx="683.1" cy="295.4" r="3.1"/>
<circle class="c37" cx="439.8" cy="317.9" r="3.1"/>
<circle class="c39" cx="479.1" cy="322.8" r="3.1"/>
<circle class="c37" cx="589.5" cy="316.6" r="3.1"/>
<circle class="c27" cx="752.2" cy="294.2" r="3.1"/>
<circle class="c38" cx="581.4" cy="318.9" r="3.1"/>
<circle class="c38" cx="445.1" cy="321" r="3.1"/>
<circle class="c39" cx="483.9" cy="323.4" r="3.1"/>
<circle class="c37" cx="586" cy="318.2" r="3.1"/>
<circle class="c36" cx="593.8" cy="316.3" r="3.1"/>
<circle class="c39" cx="454.4" cy="323.1" r="3.1"/>
<circle class="c38" cx="582.5" cy="320" r="3.1"/>
<circle class="c37" cx="590.5" cy="317.7" r="3.1"/>
<circle class="c35" cx="439.7" cy="314.6" r="3.1"/>
<circle class="c27" cx="706.9" cy="295.2" r="3.1"/>
<circle class="c39" cx="451" cy="322.5" r="3.1"/>
<circle class="c27" cx="697" cy="295.4" r="3.1"/>
<circle class="c27" cx="688.3" cy="295.8" r="3.1"/>
<circle class="c27" cx="718.1" cy="295.1" r="3.1"/>
<circle class="c37" cx="587.1" cy="319.4" r="3.1"/>
<circle class="c35" cx="601.1" cy="314.9" r="3.1"/>
<circle class="c36" cx="597.9" cy="316.1" r="3.1"/>
<circle class="c36" cx="594.7" cy="317.4" r="3.1"/>
<circle class="c38" cx="583.6" cy="321.2" r="3.1"/>
<circle class="c27" cx="730.8" cy="295.3" r="3.1"/>
<circle class="c37" cx="591.4" cy="318.8" r="3.1"/>
<circle class="c38" cx="588.1" cy="320.5" r="3.1"/>
<circle class="c36" cx="601.8" cy="316.1" r="3.1"/>
<circle class="c35" cx="604.9" cy="315" r="3.1"/>
<circle class="c36" cx="598.6" cy="317.2" r="3.1"/>
<circle class="c35" cx="608" cy="314.2" r="3.1"/>
<circle class="c38" cx="584.7" cy="322.3" r="3.1"/>
<circle class="c37" cx="595.5" cy="318.5" r="3.1"/>
<circle class="c27" cx="745.5" cy="295.7" r="3.1"/>
<circle class="c39" cx="496.2" cy="324.7" r="3.1"/>
<circle class="c34" cx="439.6" cy="311.3" r="3.1"/>
<circle class="c37" cx="592.3" cy="319.9" r="3.1"/>
<circle class="c38" cx="589.1" cy="321.6" r="3.1"/>
<circle class="c27" cx="685.7" cy="296.9" r="3.1"/>
<circle class="c39" cx="585.8" cy="323.4" r="3.1"/>
<circle class="c36" cx="602.4" cy="317.2" r="3.1"/>
<circle class="c35" cx="605.4" cy="316.2" r="3.1"/>
<circle class="c40" cx="468.6" cy="326.1" r="3.1"/>
<circle class="c36" cx="599.3" cy="318.3" r="3.1"/>
<circle class="c27" cx="693.7" cy="296.4" r="3.1"/>
<circle class="c35" cx="608.4" cy="315.3" r="3.1"/>
<circle class="c37" cx="596.3" cy="319.6" r="3.1"/>
<circle class="c40" cx="473.4" cy="326.6" r="3.1"/>
<circle class="c27" cx="702.9" cy="296.2" r="3.1"/>
<circle class="c35" cx="611.3" cy="314.5" r="3.1"/>
<circle class="c37" cx="593.2" cy="321" r="3.1"/>
<circle class="c27" cx="713.4" cy="296.2" r="3.1"/>
<circle class="c38" cx="590" cy="322.7" r="3.1"/>
<circle class="c36" cx="603" cy="318.3" r="3.1"/>
<circle class="c37" cx="600" cy="319.5" r="3.1"/>
<circle class="c36" cx="605.9" cy="317.3" r="3.1"/>
<circle class="c27" cx="762.1" cy="296.3" r="3.1"/>
<circle class="c37" cx="597" cy="320.7" r="3.1"/>
<circle class="c27" cx="725.3" cy="296.5" r="3.1"/>
<circle class="c35" cx="608.8" cy="316.4" r="3.1"/>
<circle class="c38" cx="594" cy="322.2" r="3.1"/>
<circle class="c38" cx="591" cy="323.8" r="3.1"/>
<circle class="c35" cx="611.7" cy="315.6" r="3.1"/>
<circle class="c35" cx="614.5" cy="314.9" r="3.1"/>
<circle class="c27" cx="683.3" cy="297.9" r="3.1"/>
<circle class="c37" cx="600.7" cy="320.6" r="3.1"/>
<circle class="c36" cx="603.5" cy="319.4" r="3.1"/>
<circle class="c37" cx="597.8" cy="321.9" r="3.1"/>
<circle class="c36" cx="606.4" cy="318.4" r="3.1"/>
<circle class="c38" cx="594.8" cy="323.3" r="3.1"/>
<circle class="c27" cx="739" cy="297" r="3.1"/>
<circle class="c40" cx="478.5" cy="328" r="3.1"/>
<circle class="c40" cx="486.1" cy="328.1" r="3.1"/>
<circle class="c36" cx="609.2" cy="317.5" r="3.1"/>
<circle class="c39" cx="499.9" cy="326.2" r="3.1"/>
<circle class="c34" cx="617.3" cy="314.4" r="3.1"/>
<circle class="c39" cx="591.9" cy="325" r="3.1"/>
<circle class="c27" cx="690.7" cy="297.4" r="3.1"/>
<circle class="c35" cx="612" cy="316.7" r="3.1"/>
<circle class="c27" cx="699.3" cy="297.2" r="3.1"/>
<circle class="c37" cx="601.3" cy="321.8" r="3.1"/>
<circle class="c38" cx="598.5" cy="323.1" r="3.1"/>
<circle class="c37" cx="604.1" cy="320.6" r="3.1"/>
<circle class="c35" cx="614.7" cy="316" r="3.1"/>
<circle class="c38" cx="595.6" cy="324.5" r="3.1"/>
<circle class="c36" cx="606.9" cy="319.5" r="3.1"/>
<circle class="c39" cx="592.8" cy="326.1" r="3.1"/>
<circle class="c40" cx="589.8" cy="328" r="3.1"/>
<circle class="c27" cx="709.1" cy="297.2" r="3.1"/>
<circle class="c36" cx="609.6" cy="318.6" r="3.1"/>
<circle class="c34" cx="617.5" cy="315.5" r="3.1"/>
<circle class="c39" cx="445.5" cy="326.9" r="3.1"/>
<circle class="c35" cx="612.3" cy="317.8" r="3.1"/>
<circle class="c27" cx="754.8" cy="297.8" r="3.1"/>
<circle class="c44" cx="582.7" cy="338" r="3.1"/>
<circle class="c34" cx="620.2" cy="315" r="3.1"/>
<circle class="c27" cx="720.2" cy="297.5" r="3.1"/>
<circle class="c43" cx="585.7" cy="335.3" r="3.1"/>
<circle class="c35" cx="615" cy="317.1" r="3.1"/>
<circle class="c45" cx="579.6" cy="340.2" r="3.1"/>
<circle class="c42" cx="588.8" cy="332.6" r="3.1"/>
<circle class="c40" cx="490.5" cy="329.2" r="3.1"/>
<circle class="c39" cx="597.2" cy="326.9" r="3.1"/>
<circle class="c38" cx="599.9" cy="325.5" r="3.1"/>
<circle class="c27" cx="688.1" cy="298.4" r="3.1"/>
<circle class="c35" cx="617.6" cy="316.5" r="3.1"/>
<circle class="c40" cx="594.5" cy="328.6" r="3.1"/>
<circle class="c38" cx="602.5" cy="324.1" r="3.1"/>
<circle class="c34" cx="622.8" cy="314.7" r="3.1"/>
<circle class="c41" cx="591.7" cy="330.4" r="3.1"/>
<circle class="c46" cx="582.7" cy="343" r="3.1"/>
<circle class="c37" cx="605.2" cy="322.9" r="3.1"/>
<circle class="c45" cx="585" cy="340.7" r="3.1"/>
<circle class="c37" cx="607.8" cy="321.8" r="3.1"/>
<circle class="c43" cx="578.2" cy="337.3" r="3.1"/>
<circle class="c44" cx="587.9" cy="337.9" r="3.1"/>
<circle class="c27" cx="733" cy="298.1" r="3.1"/>
<circle class="c34" cx="620.2" cy="316.1" r="3.1"/>
<circle class="c39" cx="437.6" cy="327" r="3.1"/>
<circle class="c27" cx="696" cy="298.1" r="3.1"/>
<circle class="c36" cx="610.4" cy="320.8" r="3.1"/>
<circle class="c37" cx="437.3" cy="323" r="3.1"/>
<circle class="c42" cx="590.8" cy="335.2" r="3.1"/>
<circle class="c41" cx="593.5" cy="333" r="3.1"/>
<circle class="c36" cx="612.9" cy="320" r="3.1"/>
<circle class="c34" cx="622.8" cy="315.7" r="3.1"/>
<circle class="c41" cx="596.1" cy="331.1" r="3.1"/>
<circle class="c46" cx="587.4" cy="343.2" r="3.1"/>
<circle class="c26" cx="705.1" cy="298.2" r="3.1"/>
<circle class="c46" cx="578.9" cy="344.8" r="3.1"/>
<circle class="c40" cx="598.7" cy="329.4" r="3.1"/>
<circle class="c39" cx="601.2" cy="327.9" r="3.1"/>
<circle class="c45" cx="590" cy="340.5" r="3.1"/>
<circle class="c40" cx="457.8" cy="329.7" r="3.1"/>
<circle class="c35" cx="615.4" cy="319.3" r="3.1"/>
<circle class="c38" cx="603.8" cy="326.5" r="3.1"/>
<circle class="c27" cx="685.7" cy="299.3" r="3.1"/>
<circle class="c43" cx="592.7" cy="337.9" r="3.1"/>
<circle class="c34" cx="625.3" cy="315.5" r="3.1"/>
<circle class="c38" cx="606.3" cy="325.2" r="3.1"/>
<circle class="c44" cx="574.2" cy="338.6" r="3.1"/>
<circle class="c35" cx="617.9" cy="318.7" r="3.1"/>
<circle class="c26" cx="715.5" cy="298.5" r="3.1"/>
<circle class="c42" cx="595.2" cy="335.7" r="3.1"/>
<circle class="c27" cx="747.8" cy="299" r="3.1"/>
<circle class="c37" cx="608.7" cy="324.1" r="3.1"/>
<circle class="c41" cx="597.7" cy="333.8" r="3.1"/>
<circle class="c45" cx="579.1" cy="342.2" r="3.1"/>
<circle class="c46" cx="589.9" cy="345.5" r="3.1"/>
<circle class="c47" cx="583.4" cy="346.8" r="3.1"/>
<circle class="c47" cx="587.6" cy="346.7" r="3.1"/>
<circle class="c45" cx="592.3" cy="343" r="3.1"/>
<circle class="c41" cx="600.2" cy="332" r="3.1"/>
<circle class="c35" cx="620.3" cy="318.2" r="3.1"/>
<circle class="c40" cx="451" cy="329.6" r="3.1"/>
<circle class="c27" cx="693" cy="299.1" r="3.1"/>
<circle class="c37" cx="611.1" cy="323.1" r="3.1"/>
<circle class="c44" cx="594.7" cy="340.5" r="3.1"/>
<circle class="c46" cx="576.1" cy="345.5" r="3.1"/>
<circle class="c35" cx="437.1" cy="319.6" r="3.1"/>
<circle class="c40" cx="602.6" cy="330.3" r="3.1"/>
<circle class="c36" cx="613.5" cy="322.2" r="3.1"/>
<circle class="c26" cx="727.4" cy="299.1" r="3.1"/>
<circle class="c43" cx="597.1" cy="338.3" r="3.1"/>
<circle class="c34" cx="622.7" cy="317.9" r="3.1"/>
<circle class="c39" cx="605" cy="328.9" r="3.1"/>
<circle class="c40" cx="501.4" cy="330.9" r="3.1"/>
<circle class="c27" cx="683.5" cy="300.3" r="3.1"/>
<circle class="c17" cx="686.4" cy="276" r="3.1"/>
<circle class="c26" cx="701.5" cy="299.1" r="3.1"/>
<circle class="c36" cx="615.9" cy="321.5" r="3.1"/>
<circle class="c47" cx="586.9" cy="346.6" r="3.1"/>
<circle class="c42" cx="599.4" cy="336.3" r="3.1"/>
<circle class="c47" cx="588.9" cy="347.5" r="3.1"/>
<circle class="c38" cx="607.3" cy="327.5" r="3.1"/>
<circle class="c41" cx="478.3" cy="332.5" r="3.1"/>
<circle class="c34" cx="625.1" cy="317.6" r="3.1"/>
<circle class="c17" cx="696.2" cy="276.8" r="3.1"/>
<circle class="c41" cx="601.7" cy="334.4" r="3.1"/>
<circle class="c36" cx="618.2" cy="320.9" r="3.1"/>
<circle class="c46" cx="594.7" cy="345.1" r="3.1"/>
<circle class="c38" cx="609.6" cy="326.3" r="3.1"/>
<circle class="c17" cx="692.3" cy="277" r="3.1"/>
<circle class="c47" cx="592.6" cy="347.2" r="3.1"/>
<circle class="c45" cx="575.3" cy="343" r="3.1"/>
<circle class="c45" cx="596.8" cy="342.8" r="3.1"/>
<circle class="c16" cx="692.7" cy="275.2" r="3.1"/>
<circle class="c40" cx="470.4" cy="332.3" r="3.1"/>
<circle class="c26" cx="711.2" cy="299.4" r="3.1"/>
<circle class="c46" cx="577.3" cy="346.1" r="3.1"/>
<circle class="c27" cx="690.3" cy="300" r="3.1"/>
<circle class="c41" cx="604" cy="332.7" r="3.1"/>
<circle class="c37" cx="611.9" cy="325.3" r="3.1"/>
<circle class="c35" cx="620.5" cy="320.4" r="3.1"/>
<circle class="c34" cx="627.4" cy="317.4" r="3.1"/>
<circle class="c44" cx="599" cy="340.7" r="3.1"/>
<circle class="c27" cx="764.5" cy="300.1" r="3.1"/>
<circle class="c27" cx="681.5" cy="301.2" r="3.1"/>
<circle class="c27" cx="741.2" cy="300.1" r="3.1"/>
<circle class="c17" cx="685.5" cy="278.1" r="3.1"/>
<circle class="c33" cx="437" cy="316.4" r="3.1"/>
<circle class="c16" cx="684.8" cy="274.9" r="3.1"/>
<circle class="c17" cx="692.4" cy="278.3" r="3.1"/>
<circle class="c40" cx="606.2" cy="331.1" r="3.1"/>
<circle class="c37" cx="614.1" cy="324.4" r="3.1"/>
<circle class="c43" cx="601.2" cy="338.6" r="3.1"/>
<circle class="c35" cx="622.7" cy="320" r="3.1"/>
<circle class="c26" cx="698.2" cy="300" r="3.1"/>
<circle class="c36" cx="616.3" cy="323.7" r="3.1"/>
<circle class="c39" cx="608.4" cy="329.8" r="3.1"/>
<circle class="c34" cx="629.7" cy="317.3" r="3.1"/>
<circle class="c16" cx="689.7" cy="276.1" r="3.1"/>
<circle class="c26" cx="722.2" cy="300" r="3.1"/>
<circle class="c42" cx="603.3" cy="336.7" r="3.1"/>
<circle class="c39" cx="527.4" cy="329.8" r="3.1"/>
<circle class="c47" cx="583" cy="348.6" r="3.1"/>
<circle class="c35" cx="624.9" cy="319.7" r="3.1"/>
<circle class="c40" cx="507.2" cy="332.2" r="3.1"/>
<circle class="c47" cx="588" cy="348.7" r="3.1"/>
<circle class="c43" cx="575.8" cy="340.4" r="3.1"/>
<circle class="c36" cx="618.5" cy="323.1" r="3.1"/>
<circle class="c27" cx="687.9" cy="300.9" r="3.1"/>
<circle class="c38" cx="610.5" cy="328.5" r="3.1"/>
<circle class="c46" cx="597.2" cy="346.7" r="3.1"/>
<circle class="c45" cx="599.1" cy="344.7" r="3.1"/>
<circle class="c45" cx="576.1" cy="343.9" r="3.1"/>
<circle class="c41" cx="605.4" cy="334.9" r="3.1"/>
<circle class="c47" cx="584.3" cy="349" r="3.1"/>
<circle class="c33" cx="631.9" cy="317.3" r="3.1"/>
<circle class="c38" cx="612.6" cy="327.5" r="3.1"/>
<circle class="c47" cx="580.3" cy="349" r="3.1"/>
<circle class="c36" cx="620.6" cy="322.5" r="3.1"/>
<circle class="c47" cx="595.5" cy="348.4" r="3.1"/>
<circle class="c26" cx="707.2" cy="300.3" r="3.1"/>
<circle class="c47" cx="588.3" cy="349" r="3.1"/>
<circle class="c44" cx="601.1" cy="342.6" r="3.1"/>
<circle class="c34" cx="627.1" cy="319.5" r="3.1"/>
<circle class="c33" cx="637.1" cy="315.5" r="3.1"/>
<circle class="c17" cx="697.4" cy="278.5" r="3.1"/>
<circle class="c40" cx="516.8" cy="332.4" r="3.1"/>
<circle class="c40" cx="508.5" cy="332.6" r="3.1"/>
<circle class="c40" cx="607.5" cy="333.3" r="3.1"/>
<circle class="c17" cx="694" cy="279.8" r="3.1"/>
<circle class="c37" cx="614.7" cy="326.6" r="3.1"/>
<circle class="c43" cx="603" cy="340.6" r="3.1"/>
<circle class="c35" cx="622.7" cy="322.1" r="3.1"/>
<circle class="c27" cx="757" cy="301.3" r="3.1"/>
<circle class="c43" cx="574.8" cy="340.9" r="3.1"/>
<circle class="c26" cx="695.3" cy="300.9" r="3.1"/>
<circle class="c17" cx="685.1" cy="279.6" r="3.1"/>
<circle class="c39" cx="533.2" cy="330.5" r="3.1"/>
<circle class="c47" cx="593.3" cy="349.4" r="3.1"/>
<circle class="c26" cx="735" cy="301" r="3.1"/>
<circle class="c18" cx="682.6" cy="280.8" r="3.1"/>
<circle class="c27" cx="685.7" cy="301.8" r="3.1"/>
<circle class="c37" cx="616.7" cy="325.9" r="3.1"/>
<circle class="c34" cx="629.2" cy="319.4" r="3.1"/>
<circle class="c39" cx="609.5" cy="331.9" r="3.1"/>
<circle class="c33" cx="634.1" cy="317.3" r="3.1"/>
<circle class="c17" cx="683.9" cy="280.2" r="3.1"/>
<circle class="c42" cx="605" cy="338.7" r="3.1"/>
<circle class="c35" cx="624.7" cy="321.8" r="3.1"/>
<circle class="c17" cx="685" cy="278.5" r="3.1"/>
<circle class="c37" cx="618.7" cy="325.2" r="3.1"/>
<circle class="c26" cx="717.5" cy="300.9" r="3.1"/>
<circle class="c39" cx="611.5" cy="330.7" r="3.1"/>
<circle class="c47" cx="585" cy="349.8" r="3.1"/>
<circle class="c47" cx="578.5" cy="349.6" r="3.1"/>
<circle class="c34" cx="631.3" cy="319.3" r="3.1"/>
<circle class="c41" cx="606.9" cy="336.9" r="3.1"/>
<circle class="c38" cx="613.4" cy="329.7" r="3.1"/>
<circle class="c36" cx="620.7" cy="324.7" r="3.1"/>
<circle class="c35" cx="626.7" cy="321.6" r="3.1"/>
<circle class="c26" cx="703.7" cy="301.1" r="3.1"/>
<circle class="c17" cx="696.1" cy="279.7" r="3.1"/>
<circle class="c41" cx="490.4" cy="335.2" r="3.1"/>
<circle class="c46" cx="599.9" cy="347.9" r="3.1"/>
<circle class="c33" cx="636.2" cy="317.5" r="3.1"/>
<circle class="c41" cx="487.8" cy="335.2" r="3.1"/>
<circle class="c27" cx="683.7" cy="302.7" r="3.1"/>
<circle class="c45" cx="601.5" cy="346" r="3.1"/>
<circle class="c26" cx="692.6" cy="301.7" r="3.1"/>
<circle class="c17" cx="689.9" cy="280.1" r="3.1"/>
<circle class="c18" cx="693.8" cy="282.6" r="3.1"/>
<circle class="c41" cx="498.5" cy="335.3" r="3.1"/>
<circle class="c38" cx="615.3" cy="328.8" r="3.1"/>
<circle class="c18" cx="682.9" cy="281.9" r="3.1"/>
<circle class="c41" cx="608.8" cy="335.3" r="3.1"/>
<circle class="c47" cx="598.3" cy="349.5" r="3.1"/>
<circle class="c44" cx="603.2" cy="344.1" r="3.1"/>
<circle class="c36" cx="622.6" cy="324.3" r="3.1"/>
<circle class="c39" cx="435.5" cy="331.4" r="3.1"/>
<circle class="c18" cx="681.7" cy="281.4" r="3.1"/>
<circle class="c35" cx="628.7" cy="321.5" r="3.1"/>
<circle class="c34" cx="633.3" cy="319.4" r="3.1"/>
<circle class="c37" cx="617.1" cy="328.1" r="3.1"/>
<circle class="c47" cx="586.8" cy="350.6" r="3.1"/>
<circle class="c43" cx="605" cy="342.2" r="3.1"/>
<circle class="c45" cx="575.9" cy="345.1" r="3.1"/>
<circle class="c40" cx="610.6" cy="334" r="3.1"/>
<circle class="c47" cx="589.9" cy="350.6" r="3.1"/>
<circle class="c26" cx="749.8" cy="302.3" r="3.1"/>
<circle class="c36" cx="624.5" cy="324" r="3.1"/>
<circle class="c41" cx="503.2" cy="335.7" r="3.1"/>
<circle class="c18" cx="690.5" cy="281.5" r="3.1"/>
<circle class="c26" cx="729.3" cy="301.9" r="3.1"/>
<circle class="c46" cx="579.7" cy="348.3" r="3.1"/>
<circle class="c43" cx="572.5" cy="340.4" r="3.1"/>
<circle class="c39" cx="541.9" cy="331.3" r="3.1"/>
<circle class="c18" cx="687.1" cy="281.6" r="3.1"/>
<circle class="c33" cx="638.2" cy="317.7" r="3.1"/>
<circle class="c37" cx="619" cy="327.4" r="3.1"/>
<circle class="c27" cx="681.8" cy="303.6" r="3.1"/>
<circle class="c18" cx="693.1" cy="282.2" r="3.1"/>
<circle class="c47" cx="596.8" cy="350.6" r="3.1"/>
<circle class="c47" cx="593.9" cy="350.8" r="3.1"/>
<circle class="c39" cx="612.4" cy="332.8" r="3.1"/>
<circle class="c43" cx="606.7" cy="340.4" r="3.1"/>
<circle class="c40" cx="445.5" cy="334.5" r="3.1"/>
<circle class="c26" cx="713.2" cy="301.7" r="3.1"/>
<circle class="c47" cx="590.1" cy="350.9" r="3.1"/>
<circle class="c43" cx="572.2" cy="342.2" r="3.1"/>
<circle class="c34" cx="630.6" cy="321.4" r="3.1"/>
<circle class="c26" cx="690.2" cy="302.6" r="3.1"/>
<circle class="c26" cx="700.4" cy="302" r="3.1"/>
<circle class="c17" cx="686.2" cy="281.4" r="3.1"/>
<circle class="c35" cx="626.4" cy="323.7" r="3.1"/>
<circle class="c34" cx="635.3" cy="319.5" r="3.1"/>
<circle class="c37" cx="620.8" cy="326.9" r="3.1"/>
<circle class="c39" cx="614.1" cy="331.8" r="3.1"/>
<circle class="c42" cx="608.4" cy="338.8" r="3.1"/>
<circle class="c40" cx="523.4" cy="334" r="3.1"/>
<circle class="c47" cx="584.1" cy="351.2" r="3.1"/>
<circle class="c38" cx="615.9" cy="331" r="3.1"/>
<circle class="c36" cx="622.6" cy="326.5" r="3.1"/>
<circle class="c18" cx="692.1" cy="282.7" r="3.1"/>
<circle class="c47" cx="590.1" cy="351.3" r="3.1"/>
<circle class="c47" cx="595.2" cy="351.3" r="3.1"/>
<circle class="c41" cx="474.9" cy="337.2" r="3.1"/>
<circle class="c34" cx="632.5" cy="321.4" r="3.1"/>
<circle class="c35" cx="628.2" cy="323.6" r="3.1"/>
<circle class="c41" cx="610.1" cy="337.3" r="3.1"/>
<circle class="c40" cx="527.4" cy="334.1" r="3.1"/>
<circle class="c47" cx="579.8" cy="350.7" r="3.1"/>
<circle class="c38" cx="617.6" cy="330.3" r="3.1"/>
<circle class="c37" cx="435.4" cy="328.1" r="3.1"/>
<circle class="c41" cx="466.5" cy="336.8" r="3.1"/>
<circle class="c26" cx="688" cy="303.5" r="3.1"/>
<circle class="c41" cx="459.7" cy="336.4" r="3.1"/>
<circle class="c33" cx="637.2" cy="319.7" r="3.1"/>
<circle class="c36" cx="624.3" cy="326.2" r="3.1"/>
<circle class="c40" cx="611.7" cy="336.1" r="3.1"/>
<circle class="c47" cx="585.8" cy="351.7" r="3.1"/>
<circle class="c40" cx="455.2" cy="335.9" r="3.1"/>
<circle class="c38" cx="619.3" cy="329.6" r="3.1"/>
<circle class="c26" cx="697.5" cy="302.8" r="3.1"/>
<circle class="c45" cx="604.1" cy="346.6" r="3.1"/>
<circle class="c45" cx="573.4" cy="346" r="3.1"/>
<circle class="c26" cx="709.3" cy="302.5" r="3.1"/>
<circle class="c35" cx="630" cy="323.5" r="3.1"/>
<circle class="c26" cx="724.1" cy="302.7" r="3.1"/>
<circle class="c45" cx="602.7" cy="348.2" r="3.1"/>
<circle class="c47" cx="581.4" cy="351.9" r="3.1"/>
<circle class="c26" cx="743" cy="303.2" r="3.1"/>
<circle class="c44" cx="605.5" cy="345" r="3.1"/>
<circle class="c40" cx="613.3" cy="334.9" r="3.1"/>
<circle class="c34" cx="634.4" cy="321.5" r="3.1"/>
<circle class="c46" cx="601.4" cy="349.7" r="3.1"/>
<circle class="c36" cx="626.1" cy="325.9" r="3.1"/>
<circle class="c37" cx="620.9" cy="329.1" r="3.1"/>
<circle class="c47" cx="587.5" cy="352" r="3.1"/>
<circle class="c43" cx="607" cy="343.4" r="3.1"/>
<circle class="c39" cx="547.9" cy="332.7" r="3.1"/>
<circle class="c39" cx="614.9" cy="334" r="3.1"/>
<circle class="c41" cx="509.3" cy="337.2" r="3.1"/>
<circle class="c27" cx="685.9" cy="304.3" r="3.1"/>
<circle class="c43" cx="608.5" cy="341.8" r="3.1"/>
<circle class="c33" cx="639" cy="319.9" r="3.1"/>
<circle class="c35" cx="631.8" cy="323.5" r="3.1"/>
<circle class="c43" cx="572.2" cy="343.5" r="3.1"/>
<circle class="c37" cx="622.5" cy="328.7" r="3.1"/>
<circle class="c39" cx="616.5" cy="333.2" r="3.1"/>
<circle class="c36" cx="627.8" cy="325.7" r="3.1"/>
<circle class="c46" cx="577.8" cy="349.3" r="3.1"/>
<circle class="c42" cx="609.9" cy="340.5" r="3.1"/>
<circle class="c41" cx="512.4" cy="337.3" r="3.1"/>
<circle class="c34" cx="636.2" cy="321.7" r="3.1"/>
<circle class="c26" cx="766.4" cy="304" r="3.1"/>
<circle class="c47" cx="595.2" cy="352.5" r="3.1"/>
<circle class="c26" cx="694.8" cy="303.6" r="3.1"/>
<circle class="c38" cx="618" cy="332.5" r="3.1"/>
<circle class="c23" cx="683.3" cy="295.7" r="3.1"/>
<circle class="c37" cx="624.2" cy="328.3" r="3.1"/>
<circle class="c41" cx="611.4" cy="339.2" r="3.1"/>
<circle class="c35" cx="435.3" cy="324.7" r="3.1"/>
<circle class="c26" cx="705.8" cy="303.3" r="3.1"/>
<circle class="c47" cx="599.9" cy="352.1" r="3.1"/>
<circle class="c47" cx="585.4" cy="352.7" r="3.1"/>
<circle class="c35" cx="629.4" cy="325.6" r="3.1"/>
<circle class="c27" cx="683.9" cy="305.2" r="3.1"/>
<circle class="c35" cx="633.5" cy="323.6" r="3.1"/>
<circle class="c38" cx="619.5" cy="331.9" r="3.1"/>
<circle class="c45" cx="575.3" cy="349.1" r="3.1"/>
<circle class="c41" cx="612.8" cy="338" r="3.1"/>
<circle class="c26" cx="719.4" cy="303.4" r="3.1"/>
<circle class="c47" cx="597.3" cy="352.7" r="3.1"/>
<circle class="c46" cx="601.8" cy="351.6" r="3.1"/>
<circle class="c36" cx="625.7" cy="328.1" r="3.1"/>
<circle class="c39" cx="535.7" cy="335.1" r="3.1"/>
<circle class="c46" cx="576.7" cy="351.5" r="3.1"/>
<circle class="c40" cx="614.2" cy="337" r="3.1"/>
<circle class="c38" cx="621" cy="331.3" r="3.1"/>
<circle class="c26" cx="736.8" cy="304" r="3.1"/>
<circle class="c34" cx="637.9" cy="321.9" r="3.1"/>
<circle class="c47" cx="580.1" cy="352.9" r="3.1"/>
<circle class="c24" cx="566" cy="298" r="3.1"/>
<circle class="c26" cx="692.4" cy="304.4" r="3.1"/>
<circle class="c35" cx="631" cy="325.6" r="3.1"/>
<circle class="c39" cx="540.2" cy="335" r="3.1"/>
<circle class="c47" cx="596.4" cy="353.1" r="3.1"/>
<circle class="c40" cx="615.7" cy="336.1" r="3.1"/>
<circle class="c27" cx="682.1" cy="306" r="3.1"/>
<circle class="c36" cx="627.3" cy="327.9" r="3.1"/>
<circle class="c28" cx="673.6" cy="307.9" r="3.1"/>
<circle class="c37" cx="622.5" cy="330.9" r="3.1"/>
<circle class="c34" cx="635.2" cy="323.7" r="3.1"/>
<circle class="c43" cx="569.5" cy="344.4" r="3.1"/>
<circle class="c41" cx="491.9" cy="339.7" r="3.1"/>
<circle class="c39" cx="617" cy="335.3" r="3.1"/>
<circle class="c26" cx="702.6" cy="304.1" r="3.1"/>
<circle class="c40" cx="528.7" cy="337.8" r="3.1"/>
<circle class="c37" cx="624" cy="330.6" r="3.1"/>
<circle class="c47" cx="584" cy="353.5" r="3.1"/>
<circle class="c26" cx="758.8" cy="304.9" r="3.1"/>
<circle class="c23" cx="693.2" cy="296.3" r="3.1"/>
<circle class="c39" cx="618.4" cy="334.7" r="3.1"/>
<circle class="c35" cx="632.6" cy="325.6" r="3.1"/>
<circle class="c36" cx="628.8" cy="327.8" r="3.1"/>
<circle class="c44" cx="572.9" cy="347.4" r="3.1"/>
<circle class="c41" cx="515.2" cy="338.3" r="3.1"/>
<circle class="c33" cx="642.5" cy="320.6" r="3.1"/>
<circle class="c47" cx="594.4" cy="353.6" r="3.1"/>
<circle class="c47" cx="589.5" cy="353.6" r="3.1"/>
<circle class="c28" cx="672.2" cy="308.7" r="3.1"/>
<circle class="c43" cx="567.8" cy="343.5" r="3.1"/>
<circle class="c34" cx="639.6" cy="322.2" r="3.1"/>
<circle class="c26" cx="690.1" cy="305.2" r="3.1"/>
<circle class="c32" cx="645.7" cy="319.2" r="3.1"/>
<circle class="c27" cx="680.3" cy="306.8" r="3.1"/>
<circle class="c33" cx="435.1" cy="321.5" r="3.1"/>
<circle class="c26" cx="715.2" cy="304.2" r="3.1"/>
<circle class="c39" cx="619.8" cy="334.1" r="3.1"/>
<circle class="c47" cx="598.2" cy="353.6" r="3.1"/>
<circle class="c34" cx="636.8" cy="323.9" r="3.1"/>
<circle class="c37" cx="625.4" cy="330.3" r="3.1"/>
<circle class="c42" cx="568.7" cy="342.4" r="3.1"/>
<circle class="c40" cx="521.4" cy="338.4" r="3.1"/>
<circle class="c32" cx="648.9" cy="317.9" r="3.1"/>
<circle class="c36" cx="630.3" cy="327.7" r="3.1"/>
<circle class="c38" cx="621.1" cy="333.6" r="3.1"/>
<circle class="c28" cx="670.8" cy="309.5" r="3.1"/>
<circle class="c35" cx="634.1" cy="325.7" r="3.1"/>
<circle class="c23" cx="545" cy="297.5" r="3.1"/>
<circle class="c26" cx="731.1" cy="304.7" r="3.1"/>
<circle class="c26" cx="699.7" cy="304.9" r="3.1"/>
<circle class="c41" cx="496.7" cy="340.5" r="3.1"/>
<circle class="c27" cx="678.6" cy="307.6" r="3.1"/>
<circle class="c37" cx="626.8" cy="330.1" r="3.1"/>
<circle class="c23" cx="696.4" cy="298" r="3.1"/>
<circle class="c27" cx="688" cy="306" r="3.1"/>
<circle class="c38" cx="622.5" cy="333.1" r="3.1"/>
<circle class="c47" cx="597" cy="354.2" r="3.1"/>
<circle class="c29" cx="662.8" cy="312.5" r="3.1"/>
<circle class="c22" cx="678.9" cy="296.7" r="3.1"/>
<circle class="c33" cx="641.2" cy="322.5" r="3.1"/>
<circle class="c23" cx="688.4" cy="298.5" r="3.1"/>
<circle class="c47" cx="587.9" cy="354.3" r="3.1"/>
<circle class="c41" cx="507.3" cy="340.8" r="3.1"/>
<circle class="c33" cx="644.2" cy="321.1" r="3.1"/>
<circle class="c45" cx="571.8" cy="350.1" r="3.1"/>
<circle class="c39" cx="543.4" cy="336.2" r="3.1"/>
<circle class="c43" cx="608.9" cy="345.7" r="3.1"/>
<circle class="c43" cx="610" cy="344.6" r="3.1"/>
<circle class="c34" cx="638.3" cy="324.2" r="3.1"/>
<circle class="c28" cx="669.5" cy="310.3" r="3.1"/>
<circle class="c36" cx="631.7" cy="327.7" r="3.1"/>
<circle class="c42" cx="611.1" cy="343.5" r="3.1"/>
<circle class="c46" cx="575.1" cy="352.2" r="3.1"/>
<circle class="c44" cx="607.8" cy="346.8" r="3.1"/>
<circle class="c23" cx="671.8" cy="298.6" r="3.1"/>
<circle class="c42" cx="612.3" cy="342.5" r="3.1"/>
<circle class="c37" cx="628.2" cy="329.9" r="3.1"/>
<circle class="c38" cx="623.8" cy="332.8" r="3.1"/>
<circle class="c32" cx="647.3" cy="319.8" r="3.1"/>
<circle class="c27" cx="677" cy="308.4" r="3.1"/>
<circle class="c44" cx="606.8" cy="348" r="3.1"/>
<circle class="c26" cx="711.3" cy="304.9" r="3.1"/>
<circle class="c23" cx="669.1" cy="296.9" r="3.1"/>
<circle class="c35" cx="635.6" cy="325.9" r="3.1"/>
<circle class="c41" cx="613.4" cy="341.5" r="3.1"/>
<circle class="c47" cx="593.8" cy="354.6" r="3.1"/>
<circle class="c41" cx="516.6" cy="340.8" r="3.1"/>
<circle class="c26" cx="751.5" cy="305.8" r="3.1"/>
<circle class="c40" cx="551.9" cy="337.2" r="3.1"/>
<circle class="c29" cx="661.7" cy="313.4" r="3.1"/>
<circle class="c40" cx="553.7" cy="337.6" r="3.1"/>
<circle class="c40" cx="531.7" cy="338.3" r="3.1"/>
<circle class="c27" cx="685.9" cy="306.8" r="3.1"/>
<circle class="c45" cx="602.3" cy="350.2" r="3.1"/>
<circle class="c41" cx="614.5" cy="340.6" r="3.1"/>
<circle class="c23" cx="678.5" cy="299" r="3.1"/>
<circle class="c26" cx="697" cy="305.6" r="3.1"/>
<circle class="c28" cx="668.2" cy="311.1" r="3.1"/>
<circle class="c45" cx="605.8" cy="349" r="3.1"/>
<circle class="c41" cx="510.2" cy="341.2" r="3.1"/>
<circle class="c41" cx="448.3" cy="339.7" r="3.1"/>
<circle class="c38" cx="625.1" cy="332.5" r="3.1"/>
<circle class="c41" cx="615.7" cy="339.8" r="3.1"/>
<circle class="c47" cx="581.3" cy="354.1" r="3.1"/>
<circle class="c36" cx="629.5" cy="329.9" r="3.1"/>
<circle class="c36" cx="633.1" cy="327.8" r="3.1"/>
<circle class="c22" cx="698" cy="297.2" r="3.1"/>
<circle class="c28" cx="675.5" cy="309.2" r="3.1"/>
<circle class="c40" cx="445.3" cy="339.3" r="3.1"/>
<circle class="c30" cx="660.7" cy="314.2" r="3.1"/>
<circle class="c31" cx="655" cy="316.7" r="3.1"/>
<circle class="c40" cx="616.8" cy="339" r="3.1"/>
<circle class="c47" cx="584.3" cy="354.9" r="3.1"/>
<circle class="c41" cx="512.2" cy="341.3" r="3.1"/>
<circle class="c23" cx="671.5" cy="298" r="3.1"/>
<circle class="c34" cx="639.8" cy="324.5" r="3.1"/>
<circle class="c42" cx="562.8" cy="342.7" r="3.1"/>
<circle class="c33" cx="642.7" cy="323" r="3.1"/>
<circle class="c40" cx="556.5" cy="338.6" r="3.1"/>
<circle class="c26" cx="725.9" cy="305.4" r="3.1"/>
<circle class="c29" cx="666.9" cy="311.9" r="3.1"/>
<circle class="c40" cx="440" cy="338.8" r="3.1"/>
<circle class="c37" cx="626.3" cy="332.3" r="3.1"/>
<circle class="c42" cx="565.6" cy="343.8" r="3.1"/>
<circle class="c40" cx="618" cy="338.4" r="3.1"/>
<circle class="c35" cx="637.1" cy="326.1" r="3.1"/>
<circle class="c45" cx="605.2" cy="350.1" r="3.1"/>
<circle class="c47" cx="597" cy="354.8" r="3.1"/>
<circle class="c27" cx="684" cy="307.6" r="3.1"/>
<circle class="c47" cx="591.1" cy="355.1" r="3.1"/>
<circle class="c33" cx="645.7" cy="321.6" r="3.1"/>
<circle class="c23" cx="683.6" cy="298.2" r="3.1"/>
<circle class="c23" cx="688.5" cy="297.8" r="3.1"/>
<circle class="c44" cx="571.2" cy="348.5" r="3.1"/>
<circle class="c41" cx="557.9" cy="340.1" r="3.1"/>
<circle class="c31" cx="654" cy="317.6" r="3.1"/>
<circle class="c30" cx="659.6" cy="315" r="3.1"/>
<circle class="c36" cx="630.9" cy="329.9" r="3.1"/>
<circle class="c43" cx="568.2" cy="345.1" r="3.1"/>
<circle class="c40" cx="619.1" cy="337.8" r="3.1"/>
<circle class="c26" cx="707.8" cy="305.6" r="3.1"/>
<circle class="c26" cx="694.5" cy="306.4" r="3.1"/>
<circle class="c28" cx="674" cy="310" r="3.1"/>
<circle class="c23" cx="672.8" cy="298" r="3.1"/>
<circle class="c40" cx="537.6" cy="338.5" r="3.1"/>
<circle class="c35" cx="634.5" cy="328" r="3.1"/>
<circle class="c41" cx="463.8" cy="341.2" r="3.1"/>
<circle class="c29" cx="665.7" cy="312.8" r="3.1"/>
<circle class="c32" cx="648.9" cy="320.4" r="3.1"/>
<circle class="c37" cx="627.6" cy="332.1" r="3.1"/>
<circle class="c40" cx="555.6" cy="339.6" r="3.1"/>
<circle class="c41" cx="561.5" cy="341.2" r="3.1"/>
<circle class="c23" cx="660.7" cy="299.8" r="3.1"/>
<circle class="c39" cx="620.2" cy="337.2" r="3.1"/>
<circle class="c43" cx="568" cy="346.5" r="3.1"/>
<circle class="c45" cx="602.2" cy="351.4" r="3.1"/>
<circle class="c23" cx="683.5" cy="297.9" r="3.1"/>
<circle class="c23" cx="670.4" cy="298.2" r="3.1"/>
<circle class="c31" cx="653.1" cy="318.4" r="3.1"/>
<circle class="c30" cx="658.6" cy="315.9" r="3.1"/>
<circle class="c23" cx="693.4" cy="298.1" r="3.1"/>
<circle class="c41" cx="521.4" cy="341.4" r="3.1"/>
<circle class="c27" cx="682.2" cy="308.4" r="3.1"/>
<circle class="c23" cx="680.5" cy="298.9" r="3.1"/>
<circle class="c47" cx="588.3" cy="355.5" r="3.1"/>
<circle class="c39" cx="621.3" cy="336.8" r="3.1"/>
<circle class="c28" cx="672.6" cy="310.8" r="3.1"/>
<circle class="c34" cx="641.2" cy="324.9" r="3.1"/>
<circle class="c36" cx="632.1" cy="329.9" r="3.1"/>
<circle class="c26" cx="744.7" cy="306.5" r="3.1"/>
<circle class="c29" cx="664.6" cy="313.6" r="3.1"/>
<circle class="c35" cx="638.4" cy="326.4" r="3.1"/>
<circle class="c23" cx="682.8" cy="299" r="3.1"/>
<circle class="c41" cx="560.9" cy="342.4" r="3.1"/>
<circle class="c40" cx="534.8" cy="339.1" r="3.1"/>
<circle class="c37" cx="628.8" cy="332" r="3.1"/>
<circle class="c33" cx="644.2" cy="323.4" r="3.1"/>
<circle class="c26" cx="692.1" cy="307.1" r="3.1"/>
<circle class="c32" cx="652.2" cy="319.3" r="3.1"/>
<circle class="c30" cx="657.6" cy="316.7" r="3.1"/>
<circle class="c45" cx="602.9" cy="351.8" r="3.1"/>
<circle class="c35" cx="635.8" cy="328.2" r="3.1"/>
<circle class="c39" cx="622.4" cy="336.4" r="3.1"/>
<circle class="c24" cx="678.7" cy="301" r="3.1"/>
<circle class="c47" cx="591.1" cy="355.7" r="3.1"/>
<circle class="c23" cx="669.6" cy="299.9" r="3.1"/>
<circle class="c26" cx="721.2" cy="306" r="3.1"/>
<circle class="c26" cx="704.7" cy="306.3" r="3.1"/>
<circle class="c27" cx="680.5" cy="309.1" r="3.1"/>
<circle class="c28" cx="671.2" cy="311.6" r="3.1"/>
<circle class="c33" cx="647.2" cy="322.2" r="3.1"/>
<circle class="c29" cx="663.4" cy="314.4" r="3.1"/>
<circle class="c23" cx="699.4" cy="299.2" r="3.1"/>
<circle class="c31" cx="656.6" cy="317.5" r="3.1"/>
<circle class="c39" cx="623.5" cy="336" r="3.1"/>
<circle class="c41" cx="455.2" cy="341.4" r="3.1"/>
<circle class="c39" cx="434.4" cy="336.5" r="3.1"/>
<circle class="c37" cx="630" cy="332" r="3.1"/>
<circle class="c36" cx="633.4" cy="330" r="3.1"/>
<circle class="c46" cx="575.9" cy="352.9" r="3.1"/>
<circle class="c47" cx="596.9" cy="355.4" r="3.1"/>
<circle class="c45" cx="571.1" cy="351.1" r="3.1"/>
<circle class="c30" cx="662.3" cy="315.2" r="3.1"/>
<circle class="c26" cx="689.9" cy="307.9" r="3.1"/>
<circle class="c46" cx="583.6" cy="354.5" r="3.1"/>
<circle class="c28" cx="669.9" cy="312.3" r="3.1"/>
<circle class="c34" cx="639.8" cy="326.8" r="3.1"/>
<circle class="c38" cx="624.6" cy="335.8" r="3.1"/>
<circle class="c27" cx="678.8" cy="309.9" r="3.1"/>
<circle class="c31" cx="655.6" cy="318.4" r="3.1"/>
<circle class="c32" cx="650.4" cy="321" r="3.1"/>
<circle class="c34" cx="642.6" cy="325.3" r="3.1"/>
<circle class="c35" cx="637.1" cy="328.4" r="3.1"/>
<circle class="c23" cx="674.1" cy="299.2" r="3.1"/>
<circle class="c37" cx="631.1" cy="332" r="3.1"/>
<circle class="c43" cx="565.1" cy="347.3" r="3.1"/>
<circle class="c26" cx="701.7" cy="307" r="3.1"/>
<circle class="c30" cx="661.2" cy="316" r="3.1"/>
<circle class="c33" cx="645.5" cy="324" r="3.1"/>
<circle class="c31" cx="654.6" cy="319.2" r="3.1"/>
<circle class="c29" cx="668.6" cy="313.1" r="3.1"/>
<circle class="c38" cx="625.6" cy="335.6" r="3.1"/>
<circle class="c36" cx="634.6" cy="330.2" r="3.1"/>
<circle class="c45" cx="602.4" cy="352.7" r="3.1"/>
<circle class="c47" cx="585.9" cy="355.7" r="3.1"/>
<circle class="c42" cx="563.3" cy="345.4" r="3.1"/>
<circle class="c23" cx="698.2" cy="300" r="3.1"/>
<circle class="c26" cx="738.5" cy="307.1" r="3.1"/>
<circle class="c27" cx="677.3" cy="310.6" r="3.1"/>
<circle class="c42" cx="487.2" cy="343.6" r="3.1"/>
<circle class="c26" cx="717" cy="306.7" r="3.1"/>
<circle class="c27" cx="687.9" cy="308.6" r="3.1"/>
<circle class="c30" cx="660.1" cy="316.8" r="3.1"/>
<circle class="c42" cx="561.1" cy="343.7" r="3.1"/>
<circle class="c24" cx="688.5" cy="302.2" r="3.1"/>
<circle class="c43" cx="566.1" cy="346.5" r="3.1"/>
<circle class="c40" cx="553.6" cy="340.6" r="3.1"/>
<circle class="c40" cx="547.2" cy="340" r="3.1"/>
<circle class="c42" cx="614.6" cy="344.1" r="3.1"/>
<circle class="c31" cx="653.7" cy="320.1" r="3.1"/>
<circle class="c47" cx="587.1" cy="356.2" r="3.1"/>
<circle class="c46" cx="595.6" cy="355.3" r="3.1"/>
<circle class="c41" cx="615.4" cy="343.4" r="3.1"/>
<circle class="c42" cx="613.8" cy="344.7" r="3.1"/>
<circle class="c40" cx="551.2" cy="340.3" r="3.1"/>
<circle class="c33" cx="648.6" cy="322.8" r="3.1"/>
<circle class="c41" cx="529" cy="341.9" r="3.1"/>
<circle class="c29" cx="667.4" cy="313.9" r="3.1"/>
<circle class="c38" cx="626.6" cy="335.4" r="3.1"/>
<circle class="c41" cx="616.3" cy="342.7" r="3.1"/>
<circle class="c24" cx="657.5" cy="301.8" r="3.1"/>
<circle class="c42" cx="612.9" cy="345.5" r="3.1"/>
<circle class="c37" cx="632.2" cy="332.1" r="3.1"/>
<circle class="c41" cx="617.2" cy="342.1" r="3.1"/>
<circle class="c24" cx="692.6" cy="302.1" r="3.1"/>
<circle class="c23" cx="672.8" cy="300.2" r="3.1"/>
<circle class="c23" cx="664.7" cy="300.7" r="3.1"/>
<circle class="c34" cx="641" cy="327.2" r="3.1"/>
<circle class="c35" cx="638.3" cy="328.7" r="3.1"/>
<circle class="c42" cx="612.2" cy="346.2" r="3.1"/>
<circle class="c44" cx="573.6" cy="349.8" r="3.1"/>
<circle class="c41" cx="559.3" cy="343.1" r="3.1"/>
<circle class="c41" cx="618" cy="341.6" r="3.1"/>
<circle class="c28" cx="675.7" cy="311.4" r="3.1"/>
<circle class="c30" cx="659.1" cy="317.6" r="3.1"/>
<circle class="c26" cx="768" cy="307.9" r="3.1"/>
<circle class="c26" cx="699" cy="307.7" r="3.1"/>
<circle class="c42" cx="507.7" cy="344.6" r="3.1"/>
<circle class="c41" cx="555.8" cy="342.5" r="3.1"/>
<circle class="c23" cx="699.5" cy="301.5" r="3.1"/>
<circle class="c34" cx="643.9" cy="325.8" r="3.1"/>
<circle class="c43" cx="611.4" cy="346.9" r="3.1"/>
<circle class="c36" cx="635.7" cy="330.4" r="3.1"/>
<circle class="c40" cx="618.9" cy="341.1" r="3.1"/>
<circle class="c27" cx="685.9" cy="309.3" r="3.1"/>
<circle class="c29" cx="666.1" cy="314.7" r="3.1"/>
<circle class="c42" cx="561.6" cy="344.9" r="3.1"/>
<circle class="c23" cx="678.8" cy="301.1" r="3.1"/>
</g>
<g fill-opacity="0.64" stroke-opacity="0.64">
<circle class="c38" cx="627.6" cy="335.3" r="3.1"/>
<circle class="c24" cx="689.1" cy="302.3" r="3.1"/>
<circle class="c41" cx="532.6" cy="341.9" r="3.1"/>
<circle class="c40" cx="619.8" cy="340.6" r="3.1"/>
<circle class="c41" cx="474.3" cy="343.6" r="3.1"/>
<circle class="c24" cx="668.4" cy="302.7" r="3.1"/>
<circle class="c45" cx="601.8" cy="353.3" r="3.1"/>
<circle class="c31" cx="658.1" cy="318.4" r="3.1"/>
<circle class="c43" cx="610.7" cy="347.6" r="3.1"/>
<circle class="c42" cx="499.5" cy="344.6" r="3.1"/>
<circle class="c37" cx="434.2" cy="333.2" r="3.1"/>
<circle class="c44" cx="607.3" cy="349" r="3.1"/>
<circle class="c32" cx="651.8" cy="321.7" r="3.1"/>
<circle class="c28" cx="674.3" cy="312.1" r="3.1"/>
<circle class="c40" cx="620.6" cy="340.2" r="3.1"/>
<circle class="c36" cx="633.3" cy="332.2" r="3.1"/>
<circle class="c33" cx="646.9" cy="324.5" r="3.1"/>
<circle class="c26" cx="713.3" cy="307.4" r="3.1"/>
<circle class="c29" cx="665" cy="315.4" r="3.1"/>
<circle class="c40" cx="542.2" cy="341.7" r="3.1"/>
<circle class="c43" cx="610" cy="348.4" r="3.1"/>
<circle class="c31" cx="657.1" cy="319.2" r="3.1"/>
<circle class="c38" cx="628.6" cy="335.2" r="3.1"/>
<circle class="c27" cx="684.1" cy="310.1" r="3.1"/>
<circle class="c40" cx="621.5" cy="339.8" r="3.1"/>
<circle class="c47" cx="591.9" cy="356.4" r="3.1"/>
<circle class="c41" cx="481" cy="344.2" r="3.1"/>
<circle class="c41" cx="558" cy="342.2" r="3.1"/>
<circle class="c26" cx="696.5" cy="308.4" r="3.1"/>
<circle class="c35" cx="639.5" cy="329.1" r="3.1"/>
<circle class="c26" cx="732.8" cy="307.7" r="3.1"/>
<circle class="c28" cx="672.9" cy="312.9" r="3.1"/>
<circle class="c36" cx="636.8" cy="330.7" r="3.1"/>
<circle class="c30" cx="663.8" cy="316.2" r="3.1"/>
<circle class="c24" cx="658.7" cy="303.1" r="3.1"/>
<circle class="c34" cx="642.2" cy="327.6" r="3.1"/>
<circle class="c39" cx="622.4" cy="339.5" r="3.1"/>
<circle class="c31" cx="656" cy="320.1" r="3.1"/>
<circle class="c23" cx="678.3" cy="301.8" r="3.1"/>
<circle class="c33" cx="649.9" cy="323.5" r="3.1"/>
<circle class="c12" cx="672.4" cy="274" r="3.1"/>
<circle class="c23" cx="691.9" cy="301.2" r="3.1"/>
<circle class="c43" cx="609.7" cy="349.1" r="3.1"/>
<circle class="c24" cx="698" cy="303" r="3.1"/>
<circle class="c36" cx="634.4" cy="332.4" r="3.1"/>
<circle class="c37" cx="629.6" cy="335.2" r="3.1"/>
<circle class="c39" cx="623.2" cy="339.2" r="3.1"/>
<circle class="c27" cx="682.3" cy="310.8" r="3.1"/>
<circle class="c30" cx="662.7" cy="317" r="3.1"/>
<circle class="c34" cx="645.1" cy="326.3" r="3.1"/>
<circle class="c28" cx="671.5" cy="313.6" r="3.1"/>
<circle class="c31" cx="655.1" cy="320.9" r="3.1"/>
<circle class="c26" cx="760.3" cy="308.6" r="3.1"/>
<circle class="c42" cx="503.5" cy="345.3" r="3.1"/>
<circle class="c41" cx="551.3" cy="342.8" r="3.1"/>
<circle class="c26" cx="709.8" cy="308" r="3.1"/>
<circle class="c26" cx="694.1" cy="309.1" r="3.1"/>
<circle class="c42" cx="517.3" cy="345.3" r="3.1"/>
<circle class="c24" cx="692.4" cy="303" r="3.1"/>
<circle class="c39" cx="624" cy="338.9" r="3.1"/>
<circle class="c45" cx="601.3" cy="353.8" r="3.1"/>
<circle class="c46" cx="595.7" cy="355.7" r="3.1"/>
<circle class="c30" cx="661.6" cy="317.8" r="3.1"/>
<circle class="c46" cx="590.2" cy="355.9" r="3.1"/>
<circle class="c40" cx="546.5" cy="342.3" r="3.1"/>
<circle class="c42" cx="493.7" cy="345.3" r="3.1"/>
<circle class="c29" cx="670.2" cy="314.4" r="3.1"/>
<circle class="c27" cx="680.6" cy="311.5" r="3.1"/>
<circle class="c36" cx="637.9" cy="331" r="3.1"/>
<circle class="c37" cx="630.5" cy="335.3" r="3.1"/>
<circle class="c23" cx="659.8" cy="302" r="3.1"/>
<circle class="c35" cx="640.6" cy="329.5" r="3.1"/>
<circle class="c46" cx="583.5" cy="356" r="3.1"/>
<circle class="c45" cx="578.4" cy="353.9" r="3.1"/>
<circle class="c33" cx="648.1" cy="325.2" r="3.1"/>
<circle class="c46" cx="588.8" cy="356.4" r="3.1"/>
<circle class="c39" cx="624.9" cy="338.7" r="3.1"/>
<circle class="c41" cx="555.3" cy="343.5" r="3.1"/>
<circle class="c30" cx="660.5" cy="318.6" r="3.1"/>
<circle class="c36" cx="635.4" cy="332.7" r="3.1"/>
<circle class="c11" cx="673.1" cy="273" r="3.1"/>
<circle class="c32" cx="653.1" cy="322.5" r="3.1"/>
<circle class="c46" cx="582" cy="355.3" r="3.1"/>
<circle class="c41" cx="551.4" cy="342.8" r="3.1"/>
<circle class="c43" cx="566.4" cy="347.8" r="3.1"/>
<circle class="c34" cx="643.4" cy="328.1" r="3.1"/>
<circle class="c45" cx="575" cy="352.4" r="3.1"/>
<circle class="c29" cx="668.9" cy="315.1" r="3.1"/>
<circle class="c26" cx="691.8" cy="309.8" r="3.1"/>
<circle class="c11" cx="669.8" cy="273.8" r="3.1"/>
<circle class="c26" cx="727.7" cy="308.2" r="3.1"/>
<circle class="c11" cx="673.7" cy="274.5" r="3.1"/>
<circle class="c24" cx="660.7" cy="304.1" r="3.1"/>
<circle class="c23" cx="669.1" cy="302.8" r="3.1"/>
<circle class="c35" cx="434.1" cy="329.9" r="3.1"/>
<circle class="c39" cx="625.7" cy="338.6" r="3.1"/>
<circle class="c31" cx="659.5" cy="319.4" r="3.1"/>
<circle class="c27" cx="678.9" cy="312.2" r="3.1"/>
<circle class="c26" cx="706.6" cy="308.7" r="3.1"/>
<circle class="c24" cx="705.1" cy="303.9" r="3.1"/>
<circle class="c37" cx="631.4" cy="335.4" r="3.1"/>
<circle class="c43" cx="566.1" cy="348.9" r="3.1"/>
<circle class="c11" cx="671.2" cy="272.9" r="3.1"/>
<circle class="c24" cx="701" cy="303" r="3.1"/>
<circle class="c24" cx="695.9" cy="304.5" r="3.1"/>
<circle class="c29" cx="667.6" cy="315.8" r="3.1"/>
<circle class="c44" cx="571.2" cy="350.8" r="3.1"/>
<circle class="c40" cx="543.4" cy="342.7" r="3.1"/>
<circle class="c34" cx="646.3" cy="326.9" r="3.1"/>
<circle class="c23" cx="702.5" cy="302.3" r="3.1"/>
<circle class="c31" cx="658.4" cy="320.2" r="3.1"/>
<circle class="c24" cx="688.7" cy="303.5" r="3.1"/>
<circle class="c41" cx="556.5" cy="344.4" r="3.1"/>
<circle class="c42" cx="560.5" cy="346.5" r="3.1"/>
<circle class="c23" cx="700.6" cy="302.4" r="3.1"/>
<circle class="c45" cx="600.7" cy="354.1" r="3.1"/>
<circle class="c24" cx="682.7" cy="304.7" r="3.1"/>
<circle class="c42" cx="557.8" cy="345.7" r="3.1"/>
<circle class="c23" cx="678.5" cy="302.6" r="3.1"/>
<circle class="c39" cx="626.5" cy="338.5" r="3.1"/>
<circle class="c32" cx="651.2" cy="324.2" r="3.1"/>
<circle class="c36" cx="638.9" cy="331.4" r="3.1"/>
<circle class="c28" cx="677.4" cy="312.9" r="3.1"/>
<circle class="c27" cx="689.7" cy="310.5" r="3.1"/>
<circle class="c36" cx="636.3" cy="333" r="3.1"/>
<circle class="c11" cx="673.6" cy="274.5" r="3.1"/>
<circle class="c29" cx="666.4" cy="316.6" r="3.1"/>
<circle class="c35" cx="641.6" cy="330" r="3.1"/>
<circle class="c26" cx="753" cy="309.3" r="3.1"/>
<circle class="c31" cx="657.4" cy="321" r="3.1"/>
<circle class="c12" cx="672.8" cy="275.1" r="3.1"/>
<circle class="c37" cx="632.3" cy="335.5" r="3.1"/>
<circle class="c38" cx="627.2" cy="338.4" r="3.1"/>
<circle class="c41" cx="526.1" cy="345.7" r="3.1"/>
<circle class="c26" cx="703.7" cy="309.4" r="3.1"/>
<circle class="c28" cx="675.8" cy="313.6" r="3.1"/>
<circle class="c29" cx="665.2" cy="317.3" r="3.1"/>
<circle class="c11" cx="670" cy="274.6" r="3.1"/>
<circle class="c44" cx="609.5" cy="351" r="3.1"/>
<circle class="c34" cx="644.5" cy="328.7" r="3.1"/>
<circle class="c33" cx="649.3" cy="325.9" r="3.1"/>
<circle class="c27" cx="687.7" cy="311.2" r="3.1"/>
<circle class="c26" cx="723" cy="308.8" r="3.1"/>
<circle class="c44" cx="610.9" cy="351" r="3.1"/>
<circle class="c42" cx="567.2" cy="347.7" r="3.1"/>
<circle class="c41" cx="561.8" cy="345.5" r="3.1"/>
<circle class="c30" cx="664.1" cy="318.1" r="3.1"/>
<circle class="c46" cx="587.9" cy="356.1" r="3.1"/>
<circle class="c38" cx="628" cy="338.4" r="3.1"/>
<circle class="c24" cx="673.4" cy="305.5" r="3.1"/>
<circle class="c45" cx="599.7" cy="354.1" r="3.1"/>
<circle class="c23" cx="694.1" cy="303.1" r="3.1"/>
<circle class="c41" cx="618" cy="344.4" r="3.1"/>
<circle class="c41" cx="618.6" cy="344.1" r="3.1"/>
<circle class="c42" cx="519.3" cy="346.3" r="3.1"/>
<circle class="c24" cx="710.2" cy="304.8" r="3.1"/>
<circle class="c41" cx="617.4" cy="344.8" r="3.1"/>
<circle class="c28" cx="674.4" cy="314.3" r="3.1"/>
<circle class="c41" cx="619.2" cy="343.7" r="3.1"/>
<circle class="c36" cx="637.2" cy="333.3" r="3.1"/>
<circle class="c41" cx="616.9" cy="345.3" r="3.1"/>
<circle class="c37" cx="633.1" cy="335.7" r="3.1"/>
<circle class="c35" cx="639.9" cy="331.8" r="3.1"/>
<circle class="c40" cx="619.8" cy="343.4" r="3.1"/>
<circle class="c41" cx="616.3" cy="345.7" r="3.1"/>
<circle class="c24" cx="687.7" cy="305.2" r="3.1"/>
<circle class="c40" cx="620.5" cy="343.1" r="3.1"/>
<circle class="c30" cx="662.9" cy="318.9" r="3.1"/>
<circle class="c44" cx="607.5" cy="351.5" r="3.1"/>
<circle class="c46" cx="584.3" cy="356" r="3.1"/>
<circle class="c24" cx="670.3" cy="305.2" r="3.1"/>
<circle class="c27" cx="685.8" cy="311.9" r="3.1"/>
<circle class="c41" cx="615.8" cy="346.1" r="3.1"/>
<circle class="c46" cx="596.7" cy="356.2" r="3.1"/>
<circle class="c26" cx="700.9" cy="310" r="3.1"/>
<circle class="c34" cx="647.4" cy="327.6" r="3.1"/>
<circle class="c40" cx="621.1" cy="342.8" r="3.1"/>
<circle class="c35" cx="642.6" cy="330.5" r="3.1"/>
<circle class="c45" cx="578.2" cy="354.1" r="3.1"/>
<circle class="c38" cx="628.7" cy="338.4" r="3.1"/>
<circle class="c28" cx="673" cy="315" r="3.1"/>
<circle class="c24" cx="657.7" cy="305.3" r="3.1"/>
<circle class="c42" cx="615.2" cy="346.6" r="3.1"/>
<circle class="c40" cx="621.7" cy="342.5" r="3.1"/>
<circle class="c30" cx="661.8" cy="319.6" r="3.1"/>
<circle class="c44" cx="609.7" cy="351.6" r="3.1"/>
<circle class="c44" cx="605.8" cy="351.6" r="3.1"/>
<circle class="c33" cx="434" cy="326.6" r="3.1"/>
<circle class="c40" cx="622.3" cy="342.3" r="3.1"/>
<circle class="c42" cx="614.7" cy="347" r="3.1"/>
<circle class="c26" cx="746.2" cy="309.8" r="3.1"/>
<circle class="c12" cx="663.9" cy="275.9" r="3.1"/>
<circle class="c30" cx="660.7" cy="320.4" r="3.1"/>
<circle class="c28" cx="671.6" cy="315.7" r="3.1"/>
<circle class="c37" cx="633.9" cy="335.9" r="3.1"/>
<circle class="c27" cx="684" cy="312.5" r="3.1"/>
<circle class="c24" cx="676" cy="305.7" r="3.1"/>
<circle class="c12" cx="675.2" cy="276.6" r="3.1"/>
<circle class="c40" cx="622.9" cy="342.1" r="3.1"/>
<circle class="c24" cx="708.6" cy="305.9" r="3.1"/>
<circle class="c23" cx="695.8" cy="303.7" r="3.1"/>
<circle class="c38" cx="629.4" cy="338.4" r="3.1"/>
<circle class="c42" cx="614.2" cy="347.5" r="3.1"/>
<circle class="c34" cx="645.5" cy="329.3" r="3.1"/>
<circle class="c36" cx="638.1" cy="333.7" r="3.1"/>
<circle class="c41" cx="527.1" cy="346.1" r="3.1"/>
<circle class="c26" cx="698.4" cy="310.6" r="3.1"/>
<circle class="c12" cx="669.1" cy="276.9" r="3.1"/>
<circle class="c40" cx="623.5" cy="341.9" r="3.1"/>
<circle class="c45" cx="583.2" cy="355.7" r="3.1"/>
<circle class="c35" cx="640.8" cy="332.3" r="3.1"/>
<circle class="c29" cx="670.3" cy="316.4" r="3.1"/>
<circle class="c43" cx="564.7" cy="349.8" r="3.1"/>
<circle class="c33" cx="650.4" cy="326.7" r="3.1"/>
<circle class="c42" cx="613.8" cy="347.9" r="3.1"/>
<circle class="c41" cx="535.4" cy="345.5" r="3.1"/>
<circle class="c27" cx="682.2" cy="313.2" r="3.1"/>
<circle class="c24" cx="697.5" cy="305.4" r="3.1"/>
<circle class="c39" cx="624.1" cy="341.8" r="3.1"/>
<circle class="c23" cx="695" cy="303.9" r="3.1"/>
<circle class="c42" cx="484.9" cy="347.4" r="3.1"/>
<circle class="c38" cx="630.1" cy="338.5" r="3.1"/>
<circle class="c29" cx="669" cy="317.1" r="3.1"/>
<circle class="c24" cx="656.4" cy="304.9" r="3.1"/>
<circle class="c46" cx="594.1" cy="356.7" r="3.1"/>
<circle class="c37" cx="634.6" cy="336.1" r="3.1"/>
<circle class="c41" cx="544.2" cy="345.1" r="3.1"/>
<circle class="c35" cx="643.5" cy="331" r="3.1"/>
<circle class="c44" cx="570.8" cy="351.7" r="3.1"/>
<circle class="c39" cx="624.7" cy="341.6" r="3.1"/>
<circle class="c41" cx="537.9" cy="345.4" r="3.1"/>
<circle class="c42" cx="612.5" cy="348.5" r="3.1"/>
<circle class="c26" cx="695.9" cy="311.3" r="3.1"/>
<circle class="c44" cx="571.6" cy="353.3" r="3.1"/>
<circle class="c27" cx="680.5" cy="313.8" r="3.1"/>
<circle class="c34" cx="648.4" cy="328.3" r="3.1"/>
<circle class="c29" cx="667.7" cy="317.8" r="3.1"/>
<circle class="c45" cx="594.6" cy="356" r="3.1"/>
<circle class="c42" cx="565.1" cy="348.6" r="3.1"/>
<circle class="c45" cx="600.1" cy="354.6" r="3.1"/>
<circle class="c36" cx="638.9" cy="334.1" r="3.1"/>
<circle class="c39" cx="625.2" cy="341.5" r="3.1"/>
<circle class="c25" cx="664" cy="307.1" r="3.1"/>
<circle class="c19" cx="558" cy="293" r="3.1"/>
<circle class="c44" cx="606.3" cy="352.2" r="3.1"/>
<circle class="c38" cx="630.8" cy="338.6" r="3.1"/>
<circle class="c43" cx="563.8" cy="349.5" r="3.1"/>
<circle class="c29" cx="666.5" cy="318.5" r="3.1"/>
<circle class="c41" cx="541.8" cy="345.5" r="3.1"/>
<circle class="c41" cx="447.9" cy="345.5" r="3.1"/>
<circle class="c42" cx="611.6" cy="349" r="3.1"/>
<circle class="c26" cx="740" cy="310.3" r="3.1"/>
<circle class="c24" cx="658.3" cy="306.5" r="3.1"/>
<circle class="c42" cx="560.7" cy="348.1" r="3.1"/>
<circle class="c28" cx="678.9" cy="314.5" r="3.1"/>
<circle class="c24" cx="669.4" cy="305.3" r="3.1"/>
<circle class="c42" cx="498" cy="348.5" r="3.1"/>
<circle class="c12" cx="666" cy="277.6" r="3.1"/>
<circle class="c27" cx="693.7" cy="311.9" r="3.1"/>
<circle class="c35" cx="641.6" cy="332.8" r="3.1"/>
<circle class="c42" cx="612.2" cy="349" r="3.1"/>
<circle class="c39" cx="625.8" cy="341.5" r="3.1"/>
<circle class="c42" cx="614.2" cy="348.6" r="3.1"/>
<circle class="c34" cx="646.4" cy="330" r="3.1"/>
<circle class="c30" cx="665.3" cy="319.3" r="3.1"/>
<circle class="c42" cx="557.7" cy="347.6" r="3.1"/>
<circle class="c42" cx="518.7" cy="348.6" r="3.1"/>
<circle class="c37" cx="635.3" cy="336.4" r="3.1"/>
<circle class="c12" cx="673" cy="276.8" r="3.1"/>
<circle class="c45" cx="586.3" cy="356.2" r="3.1"/>
<circle class="c30" cx="664.2" cy="320" r="3.1"/>
<circle class="c24" cx="706.1" cy="306.4" r="3.1"/>
<circle class="c26" cx="711.7" cy="310.6" r="3.1"/>
<circle class="c28" cx="677.3" cy="315.2" r="3.1"/>
<circle class="c39" cx="626.3" cy="341.4" r="3.1"/>
<circle class="c12" cx="667.3" cy="278" r="3.1"/>
<circle class="c38" cx="631.4" cy="338.8" r="3.1"/>
<circle class="c24" cx="711" cy="305.4" r="3.1"/>
<circle class="c41" cx="442.7" cy="345.4" r="3.1"/>
<circle class="c30" cx="663" cy="320.7" r="3.1"/>
<circle class="c27" cx="691.5" cy="312.5" r="3.1"/>
<circle class="c24" cx="676.4" cy="305.6" r="3.1"/>
<circle class="c41" cx="545.2" cy="345.8" r="3.1"/>
<circle class="c35" cx="644.4" cy="331.7" r="3.1"/>
<circle class="c33" cx="651.3" cy="327.5" r="3.1"/>
<circle class="c41" cx="556.5" cy="346.4" r="3.1"/>
<circle class="c12" cx="674.7" cy="277.6" r="3.1"/>
<circle class="c36" cx="639.6" cy="334.5" r="3.1"/>
<circle class="c25" cx="669.8" cy="307.7" r="3.1"/>
<circle class="c41" cx="553.8" cy="346.2" r="3.1"/>
<circle class="c28" cx="675.8" cy="315.8" r="3.1"/>
<circle class="c39" cx="626.9" cy="341.4" r="3.1"/>
<circle class="c41" cx="561.2" cy="347.3" r="3.1"/>
<circle class="c45" cx="591.8" cy="356.3" r="3.1"/>
<circle class="c41" cx="559.3" cy="346.9" r="3.1"/>
<circle class="c11" cx="669.6" cy="276.3" r="3.1"/>
<circle class="c41" cx="547.7" cy="346" r="3.1"/>
<circle class="c37" cx="636" cy="336.8" r="3.1"/>
<circle class="c42" cx="611.1" cy="349.7" r="3.1"/>
<circle class="c38" cx="632" cy="339" r="3.1"/>
<circle class="c12" cx="668" cy="278.7" r="3.1"/>
<circle class="c34" cx="649.3" cy="329.1" r="3.1"/>
<circle class="c28" cx="674.4" cy="316.5" r="3.1"/>
<circle class="c27" cx="689.4" cy="313.2" r="3.1"/>
<circle class="c26" cx="708.5" cy="311.2" r="3.1"/>
<circle class="c44" cx="576.2" cy="354.5" r="3.1"/>
<circle class="c39" cx="627.4" cy="341.4" r="3.1"/>
<circle class="c11" cx="663.3" cy="276.8" r="3.1"/>
<circle class="c35" cx="642.4" cy="333.3" r="3.1"/>
<circle class="c44" cx="573.9" cy="353.3" r="3.1"/>
<circle class="c42" cx="473.4" cy="347.8" r="3.1"/>
<circle class="c42" cx="613" cy="349.7" r="3.1"/>
<circle class="c45" cx="585.6" cy="356.4" r="3.1"/>
<circle class="c24" cx="659.8" cy="305.8" r="3.1"/>
<circle class="c44" cx="602.3" cy="354.9" r="3.1"/>
<circle class="c28" cx="672.9" cy="317.1" r="3.1"/>
<circle class="c45" cx="582.5" cy="355.8" r="3.1"/>
<circle class="c34" cx="647.3" cy="330.7" r="3.1"/>
<circle class="c12" cx="678" cy="278.8" r="3.1"/>
<circle class="c44" cx="610.4" cy="352.9" r="3.1"/>
<circle class="c39" cx="627.9" cy="341.5" r="3.1"/>
<circle class="c27" cx="687.4" cy="313.8" r="3.1"/>
<circle class="c24" cx="692.9" cy="306.3" r="3.1"/>
<circle class="c12" cx="660.5" cy="278.9" r="3.1"/>
<circle class="c12" cx="671" cy="278.1" r="3.1"/>
<circle class="c38" cx="632.5" cy="339.2" r="3.1"/>
<circle class="c29" cx="671.6" cy="317.8" r="3.1"/>
<circle class="c36" cx="640.3" cy="335" r="3.1"/>
<circle class="c26" cx="705.6" cy="311.8" r="3.1"/>
<circle class="c12" cx="660.6" cy="278.9" r="3.1"/>
<circle class="c37" cx="636.6" cy="337.1" r="3.1"/>
<circle class="c45" cx="595.4" cy="356.2" r="3.1"/>
<circle class="c12" cx="663.1" cy="277.9" r="3.1"/>
<circle class="c24" cx="707.8" cy="307.2" r="3.1"/>
<circle class="c35" cx="645.2" cy="332.3" r="3.1"/>
<circle class="c42" cx="611" cy="350.2" r="3.1"/>
<circle class="c12" cx="675.4" cy="277.8" r="3.1"/>
<circle class="c29" cx="670.3" cy="318.5" r="3.1"/>
<circle class="c12" cx="672.7" cy="277.9" r="3.1"/>
<circle class="c39" cx="628.3" cy="341.6" r="3.1"/>
<circle class="c27" cx="685.6" cy="314.4" r="3.1"/>
<circle class="c43" cx="606.6" cy="352.9" r="3.1"/>
<circle class="c41" cx="468.2" cy="347.9" r="3.1"/>
<circle class="c40" cx="620.4" cy="345.5" r="3.1"/>
<circle class="c40" cx="620.8" cy="345.4" r="3.1"/>
<circle class="c40" cx="620.1" cy="345.7" r="3.1"/>
<circle class="c40" cx="621.1" cy="345.2" r="3.1"/>
<circle class="c41" cx="619.7" cy="345.9" r="3.1"/>
<circle class="c24" cx="659" cy="306.9" r="3.1"/>
<circle class="c40" cx="621.5" cy="345.1" r="3.1"/>
<circle class="c41" cx="619.4" cy="346.1" r="3.1"/>
<circle class="c42" cx="502.5" cy="349.7" r="3.1"/>
<circle class="c29" cx="669" cy="319.1" r="3.1"/>
<circle class="c41" cx="619.1" cy="346.3" r="3.1"/>
<circle class="c40" cx="621.9" cy="344.9" r="3.1"/>
<circle class="c41" cx="618.8" cy="346.6" r="3.1"/>
<circle class="c24" cx="663.4" cy="307.2" r="3.1"/>
<circle class="c40" cx="622.2" cy="344.8" r="3.1"/>
<circle class="c38" cx="633.1" cy="339.5" r="3.1"/>
<circle class="c26" cx="769.1" cy="311.8" r="3.1"/>
<circle class="c35" cx="643.1" cy="333.9" r="3.1"/>
<circle class="c26" cx="702.8" cy="312.4" r="3.1"/>
<circle class="c42" cx="610.6" cy="350.4" r="3.1"/>
<circle class="c25" cx="654.7" cy="308.6" r="3.1"/>
<circle class="c27" cx="683.7" cy="315" r="3.1"/>
<circle class="c29" cx="667.7" cy="319.8" r="3.1"/>
<circle class="c41" cx="618.4" cy="346.8" r="3.1"/>
<circle class="c39" cx="628.8" cy="341.6" r="3.1"/>
<circle class="c40" cx="622.6" cy="344.7" r="3.1"/>
<circle class="c24" cx="667.9" cy="308" r="3.1"/>
<circle class="c43" cx="603.5" cy="352.8" r="3.1"/>
<circle class="c41" cx="618.1" cy="347" r="3.1"/>
<circle class="c40" cx="622.9" cy="344.6" r="3.1"/>
<circle class="c42" cx="478.1" cy="348.8" r="3.1"/>
<circle class="c43" cx="567.3" cy="352.6" r="3.1"/>
<circle class="c30" cx="666.5" cy="320.5" r="3.1"/>
<circle class="c34" cx="650.2" cy="329.9" r="3.1"/>
<circle class="c37" cx="637.2" cy="337.6" r="3.1"/>
<circle class="c40" cx="623.3" cy="344.5" r="3.1"/>
<circle class="c41" cx="617.9" cy="347.2" r="3.1"/>
<circle class="c28" cx="682" cy="315.6" r="3.1"/>
<circle class="c36" cx="641" cy="335.6" r="3.1"/>
<circle class="c40" cx="623.6" cy="344.4" r="3.1"/>
<circle class="c12" cx="669.1" cy="278.1" r="3.1"/>
<circle class="c39" cx="629.2" cy="341.8" r="3.1"/>
<circle class="c42" cx="526.8" cy="349.4" r="3.1"/>
<circle class="c41" cx="617.6" cy="347.4" r="3.1"/>
<circle class="c34" cx="648" cy="331.4" r="3.1"/>
<circle class="c26" cx="700.2" cy="313" r="3.1"/>
<circle class="c12" cx="672.9" cy="278" r="3.1"/>
<circle class="c39" cx="433.9" cy="341.6" r="3.1"/>
<circle class="c43" cx="567.6" cy="351.4" r="3.1"/>
<circle class="c24" cx="704.4" cy="308.3" r="3.1"/>
<circle class="c38" cx="633.5" cy="339.7" r="3.1"/>
<circle class="c41" cx="527.7" cy="348.7" r="3.1"/>
<circle class="c13" cx="674.6" cy="280.3" r="3.1"/>
<circle class="c42" cx="521.4" cy="349.8" r="3.1"/>
<circle class="c40" cx="624" cy="344.3" r="3.1"/>
<circle class="c42" cx="611.2" cy="350.6" r="3.1"/>
<circle class="c44" cx="602.9" cy="355" r="3.1"/>
<circle class="c41" cx="617.3" cy="347.6" r="3.1"/>
<circle class="c12" cx="677.5" cy="278.2" r="3.1"/>
<circle class="c28" cx="680.3" cy="316.2" r="3.1"/>
<circle class="c24" cx="675.6" cy="308.4" r="3.1"/>
<circle class="c42" cx="564.7" cy="350.8" r="3.1"/>
<circle class="c12" cx="665.2" cy="278.3" r="3.1"/>
<circle class="c41" cx="543.6" cy="347.9" r="3.1"/>
<circle class="c35" cx="645.9" cy="333" r="3.1"/>
<circle class="c40" cx="624.3" cy="344.3" r="3.1"/>
<circle class="c44" cx="580" cy="355.4" r="3.1"/>
<circle class="c45" cx="590.8" cy="356.4" r="3.1"/>
<circle class="c25" cx="678.7" cy="309.2" r="3.1"/>
<circle class="c44" cx="594.4" cy="355.9" r="3.1"/>
<circle class="c39" cx="629.6" cy="341.9" r="3.1"/>
<circle class="c45" cx="590.2" cy="356.5" r="3.1"/>
<circle class="c28" cx="678.7" cy="316.8" r="3.1"/>
<circle class="c40" cx="624.6" cy="344.3" r="3.1"/>
<circle class="c27" cx="697.7" cy="313.6" r="3.1"/>
<circle class="c12" cx="679" cy="280" r="3.1"/>
<circle class="c25" cx="672.6" cy="309.7" r="3.1"/>
<circle class="c26" cx="761.4" cy="312.4" r="3.1"/>
<circle class="c37" cx="637.7" cy="338" r="3.1"/>
<circle class="c35" cx="643.8" cy="334.6" r="3.1"/>
<circle class="c39" cx="625" cy="344.2" r="3.1"/>
<circle class="c38" cx="634" cy="340" r="3.1"/>
<circle class="c28" cx="677.2" cy="317.4" r="3.1"/>
<circle class="c24" cx="694.5" cy="308.5" r="3.1"/>
<circle class="c41" cx="613.1" cy="348.4" r="3.1"/>
<circle class="c41" cx="550.4" cy="348.2" r="3.1"/>
<circle class="c39" cx="630" cy="342" r="3.1"/>
<circle class="c36" cx="641.6" cy="336.1" r="3.1"/>
<circle class="c43" cx="606.6" cy="353.1" r="3.1"/>
<circle class="c39" cx="625.3" cy="344.2" r="3.1"/>
<circle class="c27" cx="695.4" cy="314.1" r="3.1"/>
<circle class="c41" cx="615.5" cy="348.4" r="3.1"/>
<circle class="c41" cx="616.6" cy="348.4" r="3.1"/>
<circle class="c28" cx="675.7" cy="318.1" r="3.1"/>
<circle class="c41" cx="617.1" cy="348.4" r="3.1"/>
<circle class="c44" cx="603.9" cy="354.8" r="3.1"/>
<circle class="c41" cx="535.8" cy="348.9" r="3.1"/>
<circle class="c12" cx="675.7" cy="280" r="3.1"/>
<circle class="c12" cx="665.1" cy="279.4" r="3.1"/>
<circle class="c42" cx="612.3" cy="351" r="3.1"/>
<circle class="c41" cx="618.1" cy="348.3" r="3.1"/>
<circle class="c41" cx="557.2" cy="349.2" r="3.1"/>
<circle class="c42" cx="527.9" cy="349.6" r="3.1"/>
<circle class="c39" cx="625.6" cy="344.2" r="3.1"/>
<circle class="c34" cx="650.9" cy="330.7" r="3.1"/>
<circle class="c24" cx="687.9" cy="308.3" r="3.1"/>
<circle class="c29" cx="674.2" cy="318.7" r="3.1"/>
<circle class="c45" cx="586.4" cy="356.6" r="3.1"/>
<circle class="c41" cx="557.5" cy="348.9" r="3.1"/>
<circle class="c42" cx="559.6" cy="350.2" r="3.1"/>
<circle class="c25" cx="681.3" cy="310.6" r="3.1"/>
<circle class="c27" cx="693.1" cy="314.7" r="3.1"/>
<circle class="c38" cx="630.3" cy="342.2" r="3.1"/>
<circle class="c34" cx="648.8" cy="332.2" r="3.1"/>
<circle class="c38" cx="634.4" cy="340.4" r="3.1"/>
<circle class="c39" cx="625.8" cy="344.3" r="3.1"/>
<circle class="c12" cx="667.7" cy="280.2" r="3.1"/>
<circle class="c24" cx="673.4" cy="308" r="3.1"/>
<circle class="c37" cx="638.2" cy="338.5" r="3.1"/>
<circle class="c24" cx="712.3" cy="308.5" r="3.1"/>
<circle class="c29" cx="672.8" cy="319.3" r="3.1"/>
<circle class="c41" cx="549.8" cy="348.5" r="3.1"/>
<circle class="c41" cx="618.2" cy="348.6" r="3.1"/>
<circle class="c35" cx="646.6" cy="333.7" r="3.1"/>
<circle class="c25" cx="704.4" cy="310.1" r="3.1"/>
<circle class="c12" cx="662.2" cy="280.7" r="3.1"/>
<circle class="c29" cx="671.5" cy="319.9" r="3.1"/>
<circle class="c39" cx="626.1" cy="344.3" r="3.1"/>
<circle class="c26" cx="754.1" cy="312.8" r="3.1"/>
<circle class="c44" cx="576.4" cy="355.2" r="3.1"/>
<circle class="c26" cx="716.9" cy="312.8" r="3.1"/>
<circle class="c42" cx="611.2" cy="351.2" r="3.1"/>
<circle class="c12" cx="665.3" cy="280.7" r="3.1"/>
<circle class="c27" cx="691" cy="315.3" r="3.1"/>
<circle class="c35" cx="644.3" cy="335.2" r="3.1"/>
<circle class="c29" cx="670.1" cy="320.6" r="3.1"/>
<circle class="c42" cx="564.5" cy="351" r="3.1"/>
<circle class="c41" cx="540.8" cy="349" r="3.1"/>
<circle class="c38" cx="630.7" cy="342.4" r="3.1"/>
<circle class="c29" cx="668.9" cy="321.2" r="3.1"/>
<circle class="c39" cx="626.4" cy="344.4" r="3.1"/>
<circle class="c36" cx="642.1" cy="336.7" r="3.1"/>
<circle class="c42" cx="559.9" cy="350.1" r="3.1"/>
<circle class="c25" cx="696.2" cy="310.4" r="3.1"/>
<circle class="c27" cx="689" cy="315.8" r="3.1"/>
<circle class="c24" cx="670" cy="308.8" r="3.1"/>
<circle class="c38" cx="634.8" cy="340.7" r="3.1"/>
<circle class="c37" cx="433.8" cy="338.3" r="3.1"/>
<circle class="c41" cx="552.5" cy="349.1" r="3.1"/>
<circle class="c43" cx="608.7" cy="353.3" r="3.1"/>
<circle class="c41" cx="617.7" cy="349.1" r="3.1"/>
<circle class="c39" cx="626.6" cy="344.4" r="3.1"/>
<circle class="c26" cx="713.5" cy="313.3" r="3.1"/>
<circle class="c37" cx="638.7" cy="338.9" r="3.1"/>
<circle class="c43" cx="573.8" cy="354.5" r="3.1"/>
<circle class="c38" cx="631" cy="342.6" r="3.1"/>
<circle class="c41" cx="616.4" cy="349.2" r="3.1"/>
<circle class="c27" cx="687.1" cy="316.4" r="3.1"/>
<circle class="c24" cx="674.1" cy="308.9" r="3.1"/>
<circle class="c42" cx="567.7" cy="352.1" r="3.1"/>
<circle class="c42" cx="611.3" cy="351.4" r="3.1"/>
<circle class="c12" cx="662.4" cy="280.2" r="3.1"/>
<circle class="c39" cx="626.8" cy="344.5" r="3.1"/>
<circle class="c12" cx="673.5" cy="281.2" r="3.1"/>
<circle class="c41" cx="616.5" cy="349.3" r="3.1"/>
<circle class="c24" cx="687.9" cy="309.5" r="3.1"/>
<circle class="c27" cx="685.2" cy="317" r="3.1"/>
<circle class="c33" cx="653.8" cy="330.2" r="3.1"/>
<circle class="c43" cx="570.9" cy="353.5" r="3.1"/>
<circle class="c34" cx="651.6" cy="331.6" r="3.1"/>
<circle class="c26" cx="710.3" cy="313.8" r="3.1"/>
<circle class="c38" cx="635.1" cy="341.1" r="3.1"/>
<circle class="c44" cx="592.6" cy="356.5" r="3.1"/>
<circle class="c34" cx="649.4" cy="333.1" r="3.1"/>
<circle class="c39" cx="627" cy="344.6" r="3.1"/>
<circle class="c40" cx="619" cy="347.3" r="3.1"/>
<circle class="c25" cx="698.9" cy="311.1" r="3.1"/>
<circle class="c38" cx="631.2" cy="342.9" r="3.1"/>
<circle class="c35" cx="647.1" cy="334.5" r="3.1"/>
<circle class="c44" cx="586.8" cy="356.5" r="3.1"/>
<circle class="c35" cx="644.9" cy="335.9" r="3.1"/>
<circle class="c28" cx="683.4" cy="317.5" r="3.1"/>
<circle class="c44" cx="601.8" cy="355" r="3.1"/>
<circle class="c36" cx="642.6" cy="337.4" r="3.1"/>
<circle class="c44" cx="592.7" cy="356.3" r="3.1"/>
<circle class="c12" cx="664.2" cy="281.7" r="3.1"/>
<circle class="c39" cx="627.2" cy="344.7" r="3.1"/>
<circle class="c43" cx="606.6" cy="353.3" r="3.1"/>
<circle class="c12" cx="662.2" cy="280.7" r="3.1"/>
<circle class="c42" cx="611.6" cy="351.6" r="3.1"/>
<circle class="c28" cx="681.7" cy="318.1" r="3.1"/>
<circle class="c37" cx="639" cy="339.5" r="3.1"/>
<circle class="c26" cx="707.3" cy="314.4" r="3.1"/>
<circle class="c41" cx="615.4" cy="349.6" r="3.1"/>
<circle class="c44" cx="582.9" cy="356.4" r="3.1"/>
<circle class="c41" cx="618.4" cy="349.6" r="3.1"/>
<circle class="c12" cx="678" cy="281" r="3.1"/>
<circle class="c40" cx="621.7" cy="347.1" r="3.1"/>
<circle class="c24" cx="669.3" cy="310.1" r="3.1"/>
<circle class="c40" cx="621.8" cy="347" r="3.1"/>
<circle class="c40" cx="621.6" cy="347.1" r="3.1"/>
<circle class="c38" cx="631.5" cy="343.1" r="3.1"/>
<circle class="c40" cx="621.9" cy="347" r="3.1"/>
<circle class="c40" cx="621.5" cy="347.2" r="3.1"/>
<circle class="c40" cx="622.1" cy="347" r="3.1"/>
<circle class="c40" cx="621.4" cy="347.2" r="3.1"/>
<circle class="c12" cx="675" cy="280.7" r="3.1"/>
<circle class="c28" cx="680.1" cy="318.6" r="3.1"/>
<circle class="c40" cx="622.2" cy="346.9" r="3.1"/>
<circle class="c40" cx="621.3" cy="347.3" r="3.1"/>
<circle class="c39" cx="627.4" cy="344.8" r="3.1"/>
<circle class="c40" cx="622.3" cy="346.9" r="3.1"/>
<circle class="c40" cx="621.2" cy="347.3" r="3.1"/>
<circle class="c40" cx="622.4" cy="346.9" r="3.1"/>
<circle class="c40" cx="621.1" cy="347.4" r="3.1"/>
<circle class="c38" cx="635.4" cy="341.5" r="3.1"/>
<circle class="c40" cx="620.2" cy="347.6" r="3.1"/>
<circle class="c40" cx="622.5" cy="346.8" r="3.1"/>
<circle class="c40" cx="621" cy="347.4" r="3.1"/>
<circle class="c25" cx="676.8" cy="311.1" r="3.1"/>
<circle class="c40" cx="622.6" cy="346.8" r="3.1"/>
<circle class="c25" cx="681.3" cy="311.8" r="3.1"/>
<circle class="c40" cx="621" cy="347.5" r="3.1"/>
<circle class="c40" cx="622.7" cy="346.8" r="3.1"/>
<circle class="c28" cx="678.5" cy="319.2" r="3.1"/>
<circle class="c40" cx="620.9" cy="347.6" r="3.1"/>
<circle class="c42" cx="565.7" cy="352.2" r="3.1"/>
<circle class="c26" cx="704.5" cy="314.9" r="3.1"/>
<circle class="c40" cx="622.8" cy="346.8" r="3.1"/>
<circle class="c23" cx="563" cy="306.7" r="3.1"/>
<circle class="c40" cx="620.8" cy="347.6" r="3.1"/>
<circle class="c40" cx="619.9" cy="347.7" r="3.1"/>
<circle class="c40" cx="622.9" cy="346.8" r="3.1"/>
<circle class="c40" cx="620.7" cy="347.7" r="3.1"/>
<circle class="c40" cx="620.2" cy="347.7" r="3.1"/>
<circle class="c39" cx="627.6" cy="344.9" r="3.1"/>
<circle class="c42" cx="487.8" cy="352.1" r="3.1"/>
<circle class="c31" cx="555.8" cy="325.8" r="3.1"/>
<circle class="c25" cx="683.3" cy="312.1" r="3.1"/>
<circle class="c41" cx="617.9" cy="349.8" r="3.1"/>
<circle class="c40" cx="619.8" cy="347.8" r="3.1"/>
<circle class="c40" cx="623" cy="346.8" r="3.1"/>
<circle class="c28" cx="676.9" cy="319.8" r="3.1"/>
<circle class="c25" cx="663.6" cy="311.2" r="3.1"/>
<circle class="c40" cx="623.1" cy="346.7" r="3.1"/>
<circle class="c24" cx="680.8" cy="309.9" r="3.1"/>
<circle class="c38" cx="631.7" cy="343.4" r="3.1"/>
<circle class="c42" cx="610.5" cy="351.7" r="3.1"/>
<circle class="c25" cx="682.2" cy="310.7" r="3.1"/>
<circle class="c42" cx="562.6" cy="351.8" r="3.1"/>
<circle class="c40" cx="623.2" cy="346.7" r="3.1"/>
<circle class="c29" cx="675.4" cy="320.3" r="3.1"/>
<circle class="c44" cx="580.7" cy="356.1" r="3.1"/>
<circle class="c40" cx="618.9" cy="347.9" r="3.1"/>
<circle class="c40" cx="623.3" cy="346.8" r="3.1"/>
<circle class="c42" cx="560.8" cy="351" r="3.1"/>
<circle class="c25" cx="660.9" cy="312" r="3.1"/>
<circle class="c27" cx="701.9" cy="315.4" r="3.1"/>
<circle class="c39" cx="627.7" cy="345" r="3.1"/>
<circle class="c29" cx="674" cy="320.9" r="3.1"/>
<circle class="c25" cx="663.2" cy="311.3" r="3.1"/>
<circle class="c40" cx="623.3" cy="346.8" r="3.1"/>
<circle class="c36" cx="643" cy="338" r="3.1"/>
<circle class="c42" cx="509.1" cy="353.1" r="3.1"/>
<circle class="c42" cx="533.4" cy="352.1" r="3.1"/>
<circle class="c37" cx="639.4" cy="340" r="3.1"/>
<circle class="c42" cx="520" cy="352.7" r="3.1"/>
<circle class="c42" cx="538" cy="351" r="3.1"/>
<circle class="c36" cx="645.3" cy="336.7" r="3.1"/>
<circle class="c25" cx="696.4" cy="311.7" r="3.1"/>
<circle class="c41" cx="617.4" cy="349.9" r="3.1"/>
<circle class="c35" cx="433.7" cy="335" r="3.1"/>
<circle class="c40" cx="623.4" cy="346.8" r="3.1"/>
<circle class="c35" cx="647.6" cy="335.3" r="3.1"/>
<circle class="c29" cx="672.6" cy="321.5" r="3.1"/>
<circle class="c38" cx="635.7" cy="341.9" r="3.1"/>
<circle class="c42" cx="473.6" cy="351.4" r="3.1"/>
<circle class="c34" cx="649.9" cy="333.9" r="3.1"/>
<circle class="c40" cx="623.5" cy="346.8" r="3.1"/>
<circle class="c29" cx="671.2" cy="322.1" r="3.1"/>
<circle class="c43" cx="600.9" cy="355" r="3.1"/>
<circle class="c34" cx="652.2" cy="332.6" r="3.1"/>
<circle class="c40" cx="623.6" cy="346.8" r="3.1"/>
<circle class="c25" cx="701.8" cy="310.9" r="3.1"/>
<circle class="c33" cx="654.5" cy="331.2" r="3.1"/>
<circle class="c24" cx="527.5" cy="310" r="3.1"/>
<circle class="c27" cx="699.4" cy="316" r="3.1"/>
<circle class="c39" cx="627.8" cy="345.2" r="3.1"/>
<circle class="c38" cx="631.8" cy="343.6" r="3.1"/>
<circle class="c13" cx="666.7" cy="283" r="3.1"/>
<circle class="c40" cx="623.6" cy="346.8" r="3.1"/>
<circle class="c40" cx="624" cy="348" r="3.1"/>
<circle class="c40" cx="621.1" cy="348.2" r="3.1"/>
<circle class="c41" cx="614.4" cy="350" r="3.1"/>
<circle class="c40" cx="623" cy="347.9" r="3.1"/>
<circle class="c40" cx="623.7" cy="346.8" r="3.1"/>
<circle class="c43" cx="605.2" cy="353.6" r="3.1"/>
<circle class="c43" cx="578.9" cy="355.6" r="3.1"/>
<circle class="c42" cx="536.2" cy="351.6" r="3.1"/>
<circle class="c25" cx="702.7" cy="312.4" r="3.1"/>
<circle class="c41" cx="552.2" cy="350.6" r="3.1"/>
<circle class="c44" cx="593.4" cy="356" r="3.1"/>
<circle class="c41" cx="556" cy="351.1" r="3.1"/>
<circle class="c13" cx="667.6" cy="283.6" r="3.1"/>
<circle class="c40" cx="623.8" cy="346.9" r="3.1"/>
<circle class="c42" cx="614.3" cy="351.5" r="3.1"/>
<circle class="c40" cx="621.1" cy="348.2" r="3.1"/>
<circle class="c40" cx="620.6" cy="348.2" r="3.1"/>
<circle class="c27" cx="697" cy="316.5" r="3.1"/>
<circle class="c41" cx="616.7" cy="350" r="3.1"/>
<circle class="c39" cx="627.9" cy="345.3" r="3.1"/>
<circle class="c42" cx="534.2" cy="352.1" r="3.1"/>
<circle class="c42" cx="500" cy="353.3" r="3.1"/>
<circle class="c40" cx="623.8" cy="346.9" r="3.1"/>
<circle class="c40" cx="623.8" cy="346.9" r="3.1"/>
<circle class="c40" cx="622.4" cy="348.3" r="3.1"/>
<circle class="c42" cx="558.2" cy="351.9" r="3.1"/>
<circle class="c40" cx="620.4" cy="348.3" r="3.1"/>
<circle class="c25" cx="661.9" cy="312.1" r="3.1"/>
<circle class="c40" cx="622.4" cy="348.4" r="3.1"/>
<circle class="c41" cx="617.3" cy="349.9" r="3.1"/>
<circle class="c42" cx="609.1" cy="352" r="3.1"/>
<circle class="c40" cx="622.3" cy="348.4" r="3.1"/>
<circle class="c25" cx="664.4" cy="312.6" r="3.1"/>
<circle class="c38" cx="635.9" cy="342.3" r="3.1"/>
<circle class="c40" cx="621.8" cy="348.3" r="3.1"/>
<circle class="c40" cx="623.9" cy="347" r="3.1"/>
<circle class="c44" cx="593.3" cy="356.4" r="3.1"/>
<circle class="c40" cx="622.1" cy="348.2" r="3.1"/>
<circle class="c38" cx="632" cy="343.9" r="3.1"/>
<circle class="c27" cx="694.7" cy="317" r="3.1"/>
<circle class="c37" cx="639.6" cy="340.5" r="3.1"/>
<circle class="c44" cx="589.2" cy="356.4" r="3.1"/>
<circle class="c40" cx="619.7" cy="348.4" r="3.1"/>
<circle class="c39" cx="628" cy="345.5" r="3.1"/>
<circle class="c40" cx="623.9" cy="347" r="3.1"/>
<circle class="c41" cx="618" cy="350" r="3.1"/>
<circle class="c40" cx="623.9" cy="347" r="3.1"/>
<circle class="c43" cx="573.7" cy="354.9" r="3.1"/>
<circle class="c36" cx="643.3" cy="338.7" r="3.1"/>
<circle class="c40" cx="619.7" cy="348.4" r="3.1"/>
<circle class="c27" cx="692.5" cy="317.5" r="3.1"/>
<circle class="c25" cx="684.5" cy="312.7" r="3.1"/>
<circle class="c40" cx="624" cy="347.1" r="3.1"/>
<circle class="c25" cx="680.7" cy="313.6" r="3.1"/>
<circle class="c41" cx="546.8" cy="351" r="3.1"/>
<circle class="c36" cx="645.7" cy="337.4" r="3.1"/>
<circle class="c40" cx="624" cy="347.1" r="3.1"/>
<circle class="c41" cx="445.7" cy="350.5" r="3.1"/>
<circle class="c39" cx="628.1" cy="345.6" r="3.1"/>
<circle class="c40" cx="621.6" cy="348.3" r="3.1"/>
<circle class="c41" cx="554.4" cy="351.1" r="3.1"/>
<circle class="c13" cx="662.9" cy="283.6" r="3.1"/>
<circle class="c42" cx="607.4" cy="353.6" r="3.1"/>
<circle class="c27" cx="690.5" cy="318" r="3.1"/>
<circle class="c41" cx="554.8" cy="351.3" r="3.1"/>
<circle class="c40" cx="624" cy="347.2" r="3.1"/>
<circle class="c38" cx="632.1" cy="344.2" r="3.1"/>
<circle class="c35" cx="648.1" cy="336.1" r="3.1"/>
<circle class="c12" cx="674" cy="282.5" r="3.1"/>
<circle class="c40" cx="624" cy="347.2" r="3.1"/>
<circle class="c42" cx="613.4" cy="351.7" r="3.1"/>
<circle class="c13" cx="665.4" cy="284.5" r="3.1"/>
<circle class="c42" cx="491.2" cy="353.4" r="3.1"/>
<circle class="c38" cx="636" cy="342.7" r="3.1"/>
<circle class="c41" cx="460.3" cy="351.4" r="3.1"/>
<circle class="c25" cx="699.8" cy="313.1" r="3.1"/>
<circle class="c40" cx="624" cy="347.3" r="3.1"/>
<circle class="c27" cx="688.5" cy="318.5" r="3.1"/>
<circle class="c34" cx="650.4" cy="334.8" r="3.1"/>
<circle class="c39" cx="628.1" cy="345.8" r="3.1"/>
<circle class="c26" cx="726.4" cy="314.8" r="3.1"/>
<circle class="c40" cx="620.9" cy="348.5" r="3.1"/>
<circle class="c40" cx="619.9" cy="348.6" r="3.1"/>
<circle class="c40" cx="624" cy="347.3" r="3.1"/>
<circle class="c42" cx="466.5" cy="351.9" r="3.1"/>
<circle class="c25" cx="677.3" cy="313.9" r="3.1"/>
<circle class="c43" cx="571.5" cy="354.3" r="3.1"/>
<circle class="c34" cx="652.7" cy="333.5" r="3.1"/>
<circle class="c28" cx="686.6" cy="319" r="3.1"/>
<circle class="c40" cx="623.9" cy="347.4" r="3.1"/>
<circle class="c37" cx="639.8" cy="341.1" r="3.1"/>
<circle class="c25" cx="691.5" cy="312.4" r="3.1"/>
<circle class="c40" cx="623.9" cy="347.4" r="3.1"/>
<circle class="c42" cx="517.5" cy="354" r="3.1"/>
<circle class="c38" cx="632.2" cy="344.5" r="3.1"/>
<circle class="c13" cx="667.5" cy="285" r="3.1"/>
<circle class="c43" cx="586.7" cy="356.5" r="3.1"/>
<circle class="c33" cx="655" cy="332.3" r="3.1"/>
<circle class="c39" cx="628.1" cy="345.9" r="3.1"/>
<circle class="c28" cx="684.7" cy="319.5" r="3.1"/>
<circle class="c43" cx="601.1" cy="355.1" r="3.1"/>
<circle class="c42" cx="608.5" cy="353.3" r="3.1"/>
<circle class="c40" cx="620.9" cy="348.6" r="3.1"/>
<circle class="c40" cx="623.9" cy="347.5" r="3.1"/>
<circle class="c40" cx="618" cy="348.9" r="3.1"/>
<circle class="c33" cx="433.5" cy="331.7" r="3.1"/>
<circle class="c40" cx="621" cy="348.6" r="3.1"/>
<circle class="c40" cx="621.1" cy="348.5" r="3.1"/>
<circle class="c40" cx="623.9" cy="347.5" r="3.1"/>
<circle class="c28" cx="683" cy="320" r="3.1"/>
<circle class="c26" cx="722.4" cy="315.2" r="3.1"/>
<circle class="c41" cx="615.3" cy="350.4" r="3.1"/>
<circle class="c40" cx="623.8" cy="347.6" r="3.1"/>
<circle class="c36" cx="643.6" cy="339.4" r="3.1"/>
<circle class="c24" cx="711.2" cy="311.7" r="3.1"/>
<circle class="c28" cx="681.3" cy="320.5" r="3.1"/>
<circle class="c40" cx="623.8" cy="347.6" r="3.1"/>
<circle class="c43" cx="583.4" cy="356.1" r="3.1"/>
<circle class="c13" cx="662.9" cy="285.8" r="3.1"/>
<circle class="c39" cx="628.1" cy="346.1" r="3.1"/>
<circle class="c38" cx="636.1" cy="343.2" r="3.1"/>
<circle class="c40" cx="623.7" cy="347.7" r="3.1"/>
<circle class="c40" cx="619.5" cy="348.9" r="3.1"/>
<circle class="c25" cx="688.6" cy="313" r="3.1"/>
<circle class="c28" cx="679.6" cy="321" r="3.1"/>
<circle class="c42" cx="570.3" cy="353.6" r="3.1"/>
<circle class="c41" cx="617.1" cy="350.2" r="3.1"/>
<circle class="c43" cx="596" cy="355.9" r="3.1"/>
<circle class="c25" cx="693.9" cy="312.5" r="3.1"/>
<circle class="c40" cx="623.6" cy="347.7" r="3.1"/>
<circle class="c29" cx="678" cy="321.6" r="3.1"/>
<circle class="c36" cx="646" cy="338.2" r="3.1"/>
<circle class="c41" cx="615.7" cy="350.4" r="3.1"/>
<circle class="c38" cx="632.2" cy="344.8" r="3.1"/>
<circle class="c40" cx="623.6" cy="347.8" r="3.1"/>
<circle class="c40" cx="621.2" cy="348.6" r="3.1"/>
<circle class="c29" cx="676.5" cy="322.1" r="3.1"/>
<circle class="c26" cx="718.6" cy="315.7" r="3.1"/>
<circle class="c40" cx="623.5" cy="347.8" r="3.1"/>
<circle class="c42" cx="477.1" cy="353" r="3.1"/>
<circle class="c40" cx="621.2" cy="348.6" r="3.1"/>
<circle class="c25" cx="701.7" cy="313.7" r="3.1"/>
<circle class="c13" cx="677.2" cy="284.2" r="3.1"/>
<circle class="c29" cx="675" cy="322.6" r="3.1"/>
<circle class="c39" cx="628.1" cy="346.3" r="3.1"/>
<circle class="c40" cx="623.4" cy="347.9" r="3.1"/>
<circle class="c29" cx="673.6" cy="323.2" r="3.1"/>
<circle class="c40" cx="621.3" cy="348.6" r="3.1"/>
<circle class="c25" cx="661.2" cy="312.6" r="3.1"/>
<circle class="c41" cx="451.3" cy="351.6" r="3.1"/>
<circle class="c40" cx="623.4" cy="347.9" r="3.1"/>
<circle class="c25" cx="708.4" cy="313.4" r="3.1"/>
<circle class="c40" cx="621.4" cy="348.6" r="3.1"/>
<circle class="c13" cx="673.8" cy="283.9" r="3.1"/>
<circle class="c37" cx="640" cy="341.7" r="3.1"/>
<circle class="c40" cx="623.3" cy="348" r="3.1"/>
<circle class="c35" cx="648.4" cy="337" r="3.1"/>
<circle class="c40" cx="621.5" cy="348.6" r="3.1"/>
<circle class="c40" cx="623.2" cy="348" r="3.1"/>
<circle class="c43" cx="590.5" cy="356.1" r="3.1"/>
<circle class="c40" cx="621.6" cy="348.6" r="3.1"/>
<circle class="c40" cx="623.1" cy="348.1" r="3.1"/>
<circle class="c40" cx="621.8" cy="348.5" r="3.1"/>
<circle class="c13" cx="677.5" cy="283.8" r="3.1"/>
<circle class="c40" cx="623" cy="348.1" r="3.1"/>
<circle class="c40" cx="621.9" cy="348.5" r="3.1"/>
<circle class="c41" cx="616.9" cy="350.3" r="3.1"/>
<circle class="c40" cx="622.9" cy="348.2" r="3.1"/>
<circle class="c26" cx="715.2" cy="316.2" r="3.1"/>
<circle class="c40" cx="622" cy="348.5" r="3.1"/>
<circle class="c42" cx="564.2" cy="353" r="3.1"/>
<circle class="c40" cx="622.8" cy="348.2" r="3.1"/>
<circle class="c39" cx="628.1" cy="346.4" r="3.1"/>
<circle class="c40" cx="622.1" cy="348.5" r="3.1"/>
<circle class="c43" cx="593.5" cy="356.3" r="3.1"/>
<circle class="c40" cx="622.7" cy="348.2" r="3.1"/>
<circle class="c40" cx="622.2" cy="348.4" r="3.1"/>
<circle class="c40" cx="622.6" cy="348.3" r="3.1"/>
<circle class="c40" cx="622.3" cy="348.4" r="3.1"/>
<circle class="c40" cx="622.5" cy="348.3" r="3.1"/>
<circle class="c40" cx="622.4" cy="348.4" r="3.1"/>
<circle class="c41" cx="610.1" cy="352.2" r="3.1"/>
<circle class="c38" cx="632.2" cy="345.1" r="3.1"/>
<circle class="c38" cx="636.2" cy="343.6" r="3.1"/>
<circle class="c34" cx="650.8" cy="335.8" r="3.1"/>
<circle class="c25" cx="704.6" cy="312.3" r="3.1"/>
<circle class="c40" cx="620.5" cy="349" r="3.1"/>
<circle class="c43" cx="601" cy="354.9" r="3.1"/>
<circle class="c42" cx="566" cy="353.6" r="3.1"/>
<circle class="c26" cx="712" cy="316.6" r="3.1"/>
<circle class="c39" cx="628" cy="346.6" r="3.1"/>
<circle class="c36" cx="643.8" cy="340.1" r="3.1"/>
<circle class="c42" cx="608.3" cy="353.5" r="3.1"/>
<circle class="c25" cx="697.1" cy="313.9" r="3.1"/>
<circle class="c34" cx="653.1" cy="334.5" r="3.1"/>
<circle class="c43" cx="579.8" cy="355.9" r="3.1"/>
<circle class="c26" cx="709" cy="317.1" r="3.1"/>
<circle class="c40" cx="617.3" cy="350.3" r="3.1"/>
<circle class="c38" cx="632.2" cy="345.4" r="3.1"/>
<circle class="c39" cx="627.9" cy="346.8" r="3.1"/>
<circle class="c42" cx="557" cy="352.8" r="3.1"/>
<circle class="c33" cx="655.5" cy="333.3" r="3.1"/>
<circle class="c26" cx="769.5" cy="315.7" r="3.1"/>
<circle class="c25" cx="671.2" cy="313.1" r="3.1"/>
<circle class="c37" cx="640.1" cy="342.3" r="3.1"/>
<circle class="c14" cx="673.5" cy="286.6" r="3.1"/>
<circle class="c36" cx="646.2" cy="339" r="3.1"/>
<circle class="c14" cx="671.6" cy="287" r="3.1"/>
<circle class="c27" cx="706.1" cy="317.6" r="3.1"/>
<circle class="c38" cx="636.2" cy="344" r="3.1"/>
<circle class="c25" cx="705" cy="314.3" r="3.1"/>
<circle class="c39" cx="627.8" cy="346.9" r="3.1"/>
<circle class="c25" cx="684.4" cy="313.4" r="3.1"/>
<circle class="c41" cx="553.3" cy="352.6" r="3.1"/>
<circle class="c33" cx="657.8" cy="332.1" r="3.1"/>
<circle class="c27" cx="703.5" cy="318" r="3.1"/>
<circle class="c25" cx="694.5" cy="313.2" r="3.1"/>
<circle class="c41" cx="555.5" cy="352.8" r="3.1"/>
<circle class="c40" cx="619.5" cy="349.7" r="3.1"/>
<circle class="c42" cx="562.4" cy="353.3" r="3.1"/>
<circle class="c43" cx="515.7" cy="355.7" r="3.1"/>
<circle class="c42" cx="544.9" cy="353.2" r="3.1"/>
<circle class="c35" cx="648.6" cy="337.8" r="3.1"/>
<circle class="c38" cx="632.1" cy="345.7" r="3.1"/>
<circle class="c40" cx="617.9" cy="350.3" r="3.1"/>
<circle class="c26" cx="688.3" cy="315.5" r="3.1"/>
<circle class="c27" cx="700.9" cy="318.5" r="3.1"/>
<circle class="c39" cx="627.7" cy="347.1" r="3.1"/>
<circle class="c41" cx="556.2" cy="352.8" r="3.1"/>
<circle class="c42" cx="526.7" cy="355.1" r="3.1"/>
<circle class="c43" cx="574.8" cy="355.5" r="3.1"/>
<circle class="c25" cx="707.4" cy="314.5" r="3.1"/>
<circle class="c26" cx="761.9" cy="316.1" r="3.1"/>
<circle class="c41" cx="609" cy="352.6" r="3.1"/>
<circle class="c25" cx="688" cy="313.8" r="3.1"/>
<circle class="c27" cx="698.5" cy="318.9" r="3.1"/>
<circle class="c42" cx="574.2" cy="354.7" r="3.1"/>
<circle class="c36" cx="643.9" cy="340.8" r="3.1"/>
<circle class="c40" cx="616.8" cy="350.6" r="3.1"/>
<circle class="c42" cx="602.1" cy="354.8" r="3.1"/>
<circle class="c26" cx="699.5" cy="315.4" r="3.1"/>
<circle class="c41" cx="546.6" cy="353.1" r="3.1"/>
<circle class="c39" cx="627.6" cy="347.3" r="3.1"/>
<circle class="c38" cx="636.2" cy="344.5" r="3.1"/>
<circle class="c27" cx="696.1" cy="319.4" r="3.1"/>
<circle class="c35" cx="651" cy="336.7" r="3.1"/>
<circle class="c43" cx="586.1" cy="356.6" r="3.1"/>
<circle class="c37" cx="640.1" cy="342.9" r="3.1"/>
<circle class="c41" cx="612.6" cy="352.1" r="3.1"/>
<circle class="c38" cx="632" cy="346" r="3.1"/>
<circle class="c20" cx="584" cy="302" r="3.1"/>
<circle class="c27" cx="693.9" cy="319.8" r="3.1"/>
<circle class="c41" cx="610.5" cy="352.4" r="3.1"/>
<circle class="c43" cx="594.9" cy="356.1" r="3.1"/>
<circle class="c25" cx="665.5" cy="315.3" r="3.1"/>
<circle class="c42" cx="606.4" cy="353.7" r="3.1"/>
<circle class="c26" cx="681.6" cy="316.5" r="3.1"/>
<circle class="c39" cx="627.4" cy="347.4" r="3.1"/>
<circle class="c28" cx="691.8" cy="320.3" r="3.1"/>
<circle class="c25" cx="675.1" cy="314.5" r="3.1"/>
<circle class="c41" cx="614.9" cy="351.5" r="3.1"/>
<circle class="c41" cx="613.7" cy="351.9" r="3.1"/>
<circle class="c28" cx="689.8" cy="320.7" r="3.1"/>
<circle class="c25" cx="682.6" cy="315" r="3.1"/>
<circle class="c36" cx="646.4" cy="339.8" r="3.1"/>
<circle class="c34" cx="653.4" cy="335.6" r="3.1"/>
<circle class="c40" cx="618.7" cy="350" r="3.1"/>
<circle class="c42" cx="600.2" cy="355.2" r="3.1"/>
<circle class="c28" cx="687.8" cy="321.2" r="3.1"/>
<circle class="c25" cx="673.5" cy="315" r="3.1"/>
<circle class="c41" cx="547.9" cy="353.3" r="3.1"/>
<circle class="c39" cx="627.3" cy="347.6" r="3.1"/>
<circle class="c28" cx="685.9" cy="321.6" r="3.1"/>
<circle class="c43" cx="583.3" cy="356.3" r="3.1"/>
<circle class="c28" cx="684.1" cy="322.1" r="3.1"/>
<circle class="c38" cx="631.9" cy="346.3" r="3.1"/>
<circle class="c43" cx="514.6" cy="356.4" r="3.1"/>
<circle class="c43" cx="593.3" cy="356.3" r="3.1"/>
<circle class="c28" cx="682.4" cy="322.5" r="3.1"/>
<circle class="c29" cx="680.7" cy="323" r="3.1"/>
<circle class="c29" cx="676" cy="324.4" r="3.1"/>
<circle class="c38" cx="636.1" cy="344.9" r="3.1"/>
<circle class="c29" cx="679.1" cy="323.5" r="3.1"/>
<circle class="c29" cx="677.5" cy="323.9" r="3.1"/>
<circle class="c26" cx="683.2" cy="316.3" r="3.1"/>
<circle class="c39" cx="627.1" cy="347.8" r="3.1"/>
<circle class="c40" cx="616.3" cy="351.1" r="3.1"/>
<circle class="c33" cx="655.8" cy="334.4" r="3.1"/>
<circle class="c35" cx="648.8" cy="338.7" r="3.1"/>
<circle class="c41" cx="608.4" cy="353.5" r="3.1"/>
<circle class="c37" cx="640.1" cy="343.5" r="3.1"/>
<circle class="c36" cx="643.9" cy="341.5" r="3.1"/>
<circle class="c40" cx="616.9" cy="350.9" r="3.1"/>
<circle class="c39" cx="626.9" cy="347.9" r="3.1"/>
<circle class="c41" cx="612.9" cy="351.6" r="3.1"/>
<circle class="c43" cx="507.7" cy="356.6" r="3.1"/>
<circle class="c25" cx="698.4" cy="314.4" r="3.1"/>
<circle class="c38" cx="631.7" cy="346.5" r="3.1"/>
<circle class="c42" cx="604.1" cy="354.6" r="3.1"/>
<circle class="c42" cx="542.5" cy="354.4" r="3.1"/>
<circle class="c42" cx="537.8" cy="354.8" r="3.1"/>
<circle class="c33" cx="658.2" cy="333.3" r="3.1"/>
<circle class="c39" cx="626.6" cy="348.1" r="3.1"/>
<circle class="c42" cx="524.3" cy="356.3" r="3.1"/>
<circle class="c42" cx="569.4" cy="354.7" r="3.1"/>
<circle class="c26" cx="672.6" cy="316.4" r="3.1"/>
<circle class="c40" cx="618.9" cy="350.4" r="3.1"/>
<circle class="c43" cx="590" cy="356.5" r="3.1"/>
<circle class="c38" cx="636" cy="345.3" r="3.1"/>
<circle class="c35" cx="651.2" cy="337.7" r="3.1"/>
<circle class="c39" cx="626.4" cy="348.2" r="3.1"/>
<circle class="c26" cx="742.4" cy="317" r="3.1"/>
<circle class="c25" cx="672.4" cy="315.5" r="3.1"/>
<circle class="c25" cx="692.2" cy="315.3" r="3.1"/>
<circle class="c42" cx="567" cy="354.1" r="3.1"/>
<circle class="c26" cx="680.4" cy="316.7" r="3.1"/>
<circle class="c42" cx="482.8" cy="355.6" r="3.1"/>
<circle class="c40" cx="617.1" cy="351" r="3.1"/>
<circle class="c40" cx="619.2" cy="350.4" r="3.1"/>
<circle class="c40" cx="618.2" cy="350.7" r="3.1"/>
<circle class="c36" cx="646.4" cy="340.6" r="3.1"/>
<circle class="c38" cx="631.5" cy="346.8" r="3.1"/>
<circle class="c42" cx="588.7" cy="356.1" r="3.1"/>
<circle class="c26" cx="686.9" cy="316.9" r="3.1"/>
<circle class="c39" cx="626.2" cy="348.4" r="3.1"/>
<circle class="c42" cx="579.2" cy="356.2" r="3.1"/>
<circle class="c40" cx="619.5" cy="350.3" r="3.1"/>
<circle class="c38" cx="434.2" cy="346.7" r="3.1"/>
<circle class="c42" cx="564.9" cy="354.6" r="3.1"/>
<circle class="c41" cx="608.8" cy="353.4" r="3.1"/>
<circle class="c39" cx="625.9" cy="348.5" r="3.1"/>
<circle class="c19" cx="577" cy="300" r="3.1"/>
<circle class="c37" cx="640" cy="344" r="3.1"/>
<circle class="c26" cx="737.1" cy="317.3" r="3.1"/>
<circle class="c42" cx="595.3" cy="355.8" r="3.1"/>
<circle class="c40" cx="619.8" cy="350.3" r="3.1"/>
<circle class="c34" cx="653.6" cy="336.6" r="3.1"/>
<circle class="c13" cx="669.2" cy="287.6" r="3.1"/>
<circle class="c39" cx="625.6" cy="348.7" r="3.1"/>
<circle class="c41" cx="613.4" cy="352.1" r="3.1"/>
<circle class="c41" cx="561.4" cy="354.2" r="3.1"/>
<circle class="c36" cx="643.9" cy="342.3" r="3.1"/>
<circle class="c38" cx="631.3" cy="347.1" r="3.1"/>
<circle class="c40" cx="620.2" cy="350.2" r="3.1"/>
<circle class="c38" cx="635.8" cy="345.7" r="3.1"/>
<circle class="c25" cx="692.1" cy="316.2" r="3.1"/>
<circle class="c39" cx="625.3" cy="348.8" r="3.1"/>
<circle class="c32" cx="553" cy="332.5" r="3.1"/>
<circle class="c26" cx="732.3" cy="317.6" r="3.1"/>
<circle class="c35" cx="648.9" cy="339.6" r="3.1"/>
<circle class="c40" cx="620.5" cy="350.2" r="3.1"/>
<circle class="c39" cx="625" cy="348.9" r="3.1"/>
<circle class="c41" cx="612" cy="352.6" r="3.1"/>
<circle class="c40" cx="620.9" cy="350.1" r="3.1"/>
<circle class="c39" cx="624.7" cy="349" r="3.1"/>
<circle class="c26" cx="686.8" cy="317.6" r="3.1"/>
<circle class="c33" cx="656.1" cy="335.6" r="3.1"/>
<circle class="c41" cx="604.3" cy="354.6" r="3.1"/>
<circle class="c26" cx="672.8" cy="317.4" r="3.1"/>
<circle class="c26" cx="695.6" cy="317.8" r="3.1"/>
<circle class="c26" cx="727.9" cy="318" r="3.1"/>
<circle class="c40" cx="621.2" cy="350" r="3.1"/>
<circle class="c39" cx="624.4" cy="349.1" r="3.1"/>
<circle class="c38" cx="631" cy="347.3" r="3.1"/>
<circle class="c39" cx="621.6" cy="349.9" r="3.1"/>
<circle class="c25" cx="682.1" cy="316.4" r="3.1"/>
<circle class="c39" cx="624" cy="349.3" r="3.1"/>
<circle class="c39" cx="621.9" cy="349.9" r="3.1"/>
<circle class="c39" cx="623.7" cy="349.4" r="3.1"/>
<circle class="c39" cx="622.3" cy="349.8" r="3.1"/>
<circle class="c39" cx="623.4" cy="349.5" r="3.1"/>
<circle class="c39" cx="622.7" cy="349.7" r="3.1"/>
<circle class="c39" cx="623" cy="349.6" r="3.1"/>
<circle class="c26" cx="723.9" cy="318.3" r="3.1"/>
<circle class="c41" cx="609.2" cy="353.4" r="3.1"/>
<circle class="c37" cx="639.8" cy="344.6" r="3.1"/>
<circle class="c36" cx="646.4" cy="341.4" r="3.1"/>
<circle class="c38" cx="635.6" cy="346.2" r="3.1"/>
<circle class="c25" cx="692.2" cy="315.8" r="3.1"/>
<circle class="c35" cx="651.3" cy="338.6" r="3.1"/>
<circle class="c42" cx="578.9" cy="356" r="3.1"/>
<circle class="c26" cx="720.2" cy="318.7" r="3.1"/>
<circle class="c26" cx="672.8" cy="317.2" r="3.1"/>
<circle class="c40" cx="612.2" cy="352.4" r="3.1"/>
<circle class="c33" cx="658.5" cy="334.5" r="3.1"/>
<circle class="c26" cx="673" cy="317.5" r="3.1"/>
<circle class="c38" cx="630.8" cy="347.6" r="3.1"/>
<circle class="c41" cx="556.5" cy="354.4" r="3.1"/>
<circle class="c26" cx="716.7" cy="319.1" r="3.1"/>
<circle class="c41" cx="557.8" cy="354.5" r="3.1"/>
<circle class="c36" cx="643.8" cy="343" r="3.1"/>
<circle class="c27" cx="713.5" cy="319.5" r="3.1"/>
<circle class="c40" cx="615.5" cy="351.7" r="3.1"/>
<circle class="c42" cx="591.5" cy="356.2" r="3.1"/>
<circle class="c27" cx="710.5" cy="319.9" r="3.1"/>
<circle class="c29" cx="676.8" cy="326.3" r="3.1"/>
<circle class="c25" cx="670.3" cy="316.4" r="3.1"/>
<circle class="c41" cx="553" cy="354.7" r="3.1"/>
<circle class="c27" cx="707.6" cy="320.3" r="3.1"/>
<circle class="c42" cx="583.1" cy="356.5" r="3.1"/>
<circle class="c29" cx="678.3" cy="325.9" r="3.1"/>
<circle class="c27" cx="704.9" cy="320.7" r="3.1"/>
<circle class="c29" cx="679.9" cy="325.4" r="3.1"/>
<circle class="c32" cx="661" cy="333.5" r="3.1"/>
<circle class="c38" cx="630.4" cy="347.8" r="3.1"/>
<circle class="c27" cx="702.3" cy="321.1" r="3.1"/>
<circle class="c42" cx="597.4" cy="355.8" r="3.1"/>
<circle class="c29" cx="681.6" cy="325" r="3.1"/>
<circle class="c42" cx="547.8" cy="355.3" r="3.1"/>
<circle class="c38" cx="635.3" cy="346.5" r="3.1"/>
<circle class="c34" cx="653.7" cy="337.7" r="3.1"/>
<circle class="c27" cx="699.8" cy="321.5" r="3.1"/>
<circle class="c29" cx="683.3" cy="324.6" r="3.1"/>
<circle class="c27" cx="697.4" cy="321.9" r="3.1"/>
<circle class="c35" cx="648.8" cy="340.5" r="3.1"/>
<circle class="c28" cx="685.1" cy="324.2" r="3.1"/>
<circle class="c28" cx="695.2" cy="322.3" r="3.1"/>
<circle class="c28" cx="687" cy="323.8" r="3.1"/>
<circle class="c28" cx="693" cy="322.7" r="3.1"/>
<circle class="c40" cx="613.9" cy="352.3" r="3.1"/>
<circle class="c28" cx="688.9" cy="323.4" r="3.1"/>
<circle class="c28" cx="690.9" cy="323.1" r="3.1"/>
<circle class="c37" cx="639.6" cy="345.2" r="3.1"/>
<circle class="c41" cx="559.5" cy="354.9" r="3.1"/>
<circle class="c42" cx="597.5" cy="355.7" r="3.1"/>
<circle class="c36" cx="434" cy="343.4" r="3.1"/>
<circle class="c42" cx="537.9" cy="356.2" r="3.1"/>
<circle class="c26" cx="684.2" cy="318" r="3.1"/>
<circle class="c41" cx="604.1" cy="354.5" r="3.1"/>
<circle class="c25" cx="670.8" cy="316.5" r="3.1"/>
<circle class="c38" cx="630.1" cy="348.1" r="3.1"/>
<circle class="c42" cx="479.3" cy="356.7" r="3.1"/>
<circle class="c36" cx="646.3" cy="342.2" r="3.1"/>
<circle class="c42" cx="589.1" cy="356.2" r="3.1"/>
<circle class="c26" cx="676.7" cy="318.5" r="3.1"/>
<circle class="c34" cx="656.2" cy="336.7" r="3.1"/>
<circle class="c42" cx="571.3" cy="356" r="3.1"/>
<circle class="c43" cx="528.5" cy="358.2" r="3.1"/>
<circle class="c38" cx="635" cy="346.9" r="3.1"/>
<circle class="c36" cx="643.6" cy="343.7" r="3.1"/>
<circle class="c41" cx="599.2" cy="355.3" r="3.1"/>
<circle class="c38" cx="629.7" cy="348.3" r="3.1"/>
<circle class="c35" cx="651.3" cy="339.6" r="3.1"/>
<circle class="c42" cx="580.7" cy="356.4" r="3.1"/>
<circle class="c40" cx="616.1" cy="351.9" r="3.1"/>
<circle class="c37" cx="639.3" cy="345.7" r="3.1"/>
<circle class="c42" cx="533.5" cy="357.6" r="3.1"/>
<circle class="c26" cx="690.6" cy="318.6" r="3.1"/>
<circle class="c42" cx="533.8" cy="358" r="3.1"/>
<circle class="c41" cx="605.8" cy="354.2" r="3.1"/>
<circle class="c38" cx="629.3" cy="348.5" r="3.1"/>
<circle class="c41" cx="567.5" cy="355.3" r="3.1"/>
<circle class="c33" cx="658.6" cy="335.8" r="3.1"/>
<circle class="c42" cx="536.5" cy="357.2" r="3.1"/>
<circle class="c40" cx="616.6" cy="351.7" r="3.1"/>
<circle class="c38" cx="634.6" cy="347.2" r="3.1"/>
<circle class="c35" cx="648.7" cy="341.4" r="3.1"/>
<circle class="c27" cx="559" cy="320.8" r="3.1"/>
<circle class="c38" cx="628.9" cy="348.8" r="3.1"/>
<circle class="c34" cx="653.7" cy="338.7" r="3.1"/>
<circle class="c40" cx="617.2" cy="351.7" r="3.1"/>
<circle class="c36" cx="646.1" cy="342.9" r="3.1"/>
<circle class="c41" cx="562.9" cy="355.4" r="3.1"/>
<circle class="c36" cx="643.3" cy="344.3" r="3.1"/>
<circle class="c41" cx="577.6" cy="356.1" r="3.1"/>
<circle class="c38" cx="628.4" cy="349" r="3.1"/>
<circle class="c41" cx="568" cy="356" r="3.1"/>
<circle class="c32" cx="661.1" cy="334.8" r="3.1"/>
<circle class="c41" cx="592.9" cy="356.2" r="3.1"/>
<circle class="c37" cx="639" cy="346.2" r="3.1"/>
<circle class="c38" cx="634.2" cy="347.6" r="3.1"/>
<circle class="c40" cx="610.5" cy="353.3" r="3.1"/>
<circle class="c40" cx="617.7" cy="351.6" r="3.1"/>
<circle class="c41" cx="585.4" cy="356.3" r="3.1"/>
<circle class="c38" cx="628" cy="349.2" r="3.1"/>
<circle class="c41" cx="600.9" cy="355.1" r="3.1"/>
<circle class="c35" cx="433.9" cy="340.1" r="3.1"/>
<circle class="c41" cx="563.1" cy="355.5" r="3.1"/>
<circle class="c35" cx="651.2" cy="340.5" r="3.1"/>
<circle class="c40" cx="610.3" cy="352.7" r="3.1"/>
<circle class="c34" cx="656.2" cy="337.8" r="3.1"/>
<circle class="c39" cx="618.3" cy="351.5" r="3.1"/>
<circle class="c30" cx="677.4" cy="328.2" r="3.1"/>
<circle class="c38" cx="627.5" cy="349.4" r="3.1"/>
<circle class="c32" cx="663.7" cy="334" r="3.1"/>
<circle class="c40" cx="613.7" cy="353" r="3.1"/>
<circle class="c41" cx="596.9" cy="355.8" r="3.1"/>
<circle class="c39" cx="615.1" cy="351.7" r="3.1"/>
<circle class="c29" cx="679" cy="327.8" r="3.1"/>
<circle class="c39" cx="618.9" cy="351.4" r="3.1"/>
<circle class="c41" cx="590.5" cy="355.9" r="3.1"/>
<circle class="c38" cx="633.7" cy="347.9" r="3.1"/>
<circle class="c38" cx="627" cy="349.5" r="3.1"/>
<circle class="c43" cx="514.4" cy="359.9" r="3.1"/>
<circle class="c29" cx="680.6" cy="327.5" r="3.1"/>
<circle class="c35" cx="648.5" cy="342.2" r="3.1"/>
<circle class="c32" cx="665" cy="333.5" r="3.1"/>
<circle class="c42" cx="456.8" cy="356.9" r="3.1"/>
<circle class="c41" cx="451.9" cy="356.6" r="3.1"/>
<circle class="c43" cx="505.8" cy="359.9" r="3.1"/>
<circle class="c37" cx="638.6" cy="346.6" r="3.1"/>
<circle class="c29" cx="682.3" cy="327.1" r="3.1"/>
<circle class="c39" cx="619.4" cy="351.3" r="3.1"/>
<circle class="c41" cx="603.1" cy="354.5" r="3.1"/>
<circle class="c41" cx="574.6" cy="356" r="3.1"/>
<circle class="c37" cx="643" cy="344.9" r="3.1"/>
<circle class="c39" cx="626.4" cy="349.7" r="3.1"/>
<circle class="c36" cx="645.8" cy="343.7" r="3.1"/>
<circle class="c41" cx="559" cy="355.8" r="3.1"/>
<circle class="c43" cx="519.9" cy="359.9" r="3.1"/>
<circle class="c29" cx="684.1" cy="326.7" r="3.1"/>
<circle class="c40" cx="610.9" cy="353.4" r="3.1"/>
<circle class="c31" cx="666.3" cy="333.1" r="3.1"/>
<circle class="c43" cx="504.5" cy="359.9" r="3.1"/>
<circle class="c39" cx="620" cy="351.2" r="3.1"/>
<circle class="c33" cx="658.7" cy="337" r="3.1"/>
<circle class="c41" cx="605" cy="354.5" r="3.1"/>
<circle class="c39" cx="625.9" cy="349.9" r="3.1"/>
<circle class="c41" cx="560.5" cy="355.8" r="3.1"/>
<circle class="c29" cx="685.9" cy="326.4" r="3.1"/>
<circle class="c41" cx="599.3" cy="355" r="3.1"/>
<circle class="c43" cx="525.4" cy="359.8" r="3.1"/>
<circle class="c34" cx="653.6" cy="339.7" r="3.1"/>
<circle class="c28" cx="687.8" cy="326.1" r="3.1"/>
<circle class="c39" cx="620.6" cy="351.1" r="3.1"/>
<circle class="c38" cx="633.2" cy="348.2" r="3.1"/>
<circle class="c39" cx="625.3" cy="350" r="3.1"/>
<circle class="c41" cx="550.1" cy="356.6" r="3.1"/>
<circle class="c28" cx="689.8" cy="325.8" r="3.1"/>
<circle class="c39" cx="621.2" cy="351" r="3.1"/>
<circle class="c39" cx="624.8" cy="350.2" r="3.1"/>
<circle class="c40" cx="607.3" cy="354" r="3.1"/>
<circle class="c28" cx="691.8" cy="325.5" r="3.1"/>
<circle class="c39" cx="624.2" cy="350.4" r="3.1"/>
<circle class="c39" cx="621.8" cy="350.9" r="3.1"/>
<circle class="c43" cx="518.5" cy="360.3" r="3.1"/>
<circle class="c39" cx="623.6" cy="350.5" r="3.1"/>
<circle class="c39" cx="622.4" cy="350.7" r="3.1"/>
<circle class="c28" cx="694" cy="325.1" r="3.1"/>
<circle class="c39" cx="623" cy="350.6" r="3.1"/>
<circle class="c26" cx="769.6" cy="319.6" r="3.1"/>
<circle class="c41" cx="569.7" cy="355.5" r="3.1"/>
<circle class="c28" cx="696.2" cy="324.8" r="3.1"/>
<circle class="c37" cx="638.1" cy="347" r="3.1"/>
<circle class="c28" cx="698.5" cy="324.5" r="3.1"/>
<circle class="c40" cx="611.9" cy="353.3" r="3.1"/>
<circle class="c40" cx="612.9" cy="352.8" r="3.1"/>
<circle class="c26" cx="762.1" cy="319.9" r="3.1"/>
<circle class="c35" cx="650.9" cy="341.5" r="3.1"/>
<circle class="c28" cx="701" cy="324.2" r="3.1"/>
<circle class="c33" cx="661.2" cy="336.2" r="3.1"/>
<circle class="c38" cx="632.7" cy="348.5" r="3.1"/>
<circle class="c27" cx="703.5" cy="323.9" r="3.1"/>
<circle class="c41" cx="439.2" cy="356.4" r="3.1"/>
<circle class="c26" cx="755.3" cy="320.1" r="3.1"/>
<circle class="c27" cx="706.1" cy="323.6" r="3.1"/>
<circle class="c36" cx="642.6" cy="345.5" r="3.1"/>
<circle class="c27" cx="708.8" cy="323.2" r="3.1"/>
<circle class="c34" cx="656.1" cy="339" r="3.1"/>
<circle class="c35" cx="648.2" cy="343" r="3.1"/>
<circle class="c26" cx="749" cy="320.2" r="3.1"/>
<circle class="c27" cx="711.7" cy="322.9" r="3.1"/>
<circle class="c21" cx="583" cy="309" r="3.1"/>
<circle class="c33" cx="433.8" cy="336.8" r="3.1"/>
<circle class="c36" cx="645.4" cy="344.4" r="3.1"/>
<circle class="c27" cx="714.8" cy="322.5" r="3.1"/>
<circle class="c41" cx="568.6" cy="356.1" r="3.1"/>
<circle class="c26" cx="743.3" cy="320.4" r="3.1"/>
<circle class="c41" cx="592.1" cy="356.2" r="3.1"/>
<circle class="c27" cx="718" cy="322.2" r="3.1"/>
<circle class="c41" cx="554.9" cy="356.6" r="3.1"/>
<circle class="c26" cx="721.5" cy="321.9" r="3.1"/>
<circle class="c26" cx="738.1" cy="320.7" r="3.1"/>
<circle class="c41" cx="581" cy="356.8" r="3.1"/>
<circle class="c26" cx="725.1" cy="321.5" r="3.1"/>
<circle class="c26" cx="733.4" cy="320.9" r="3.1"/>
<circle class="c26" cx="729.1" cy="321.2" r="3.1"/>
<circle class="c38" cx="632.1" cy="348.8" r="3.1"/>
<circle class="c25" cx="545" cy="318" r="3.1"/>
<circle class="c32" cx="663.7" cy="335.4" r="3.1"/>
<circle class="c37" cx="637.6" cy="347.4" r="3.1"/>
<circle class="c41" cx="591.9" cy="355.8" r="3.1"/>
<circle class="c42" cx="544.4" cy="358.3" r="3.1"/>
<circle class="c34" cx="653.4" cy="340.7" r="3.1"/>
<circle class="c43" cx="498.2" cy="360.7" r="3.1"/>
<circle class="c32" cx="665" cy="335" r="3.1"/>
<circle class="c30" cx="676.2" cy="330.5" r="3.1"/>
<circle class="c38" cx="631.5" cy="349" r="3.1"/>
<circle class="c33" cx="658.5" cy="338.2" r="3.1"/>
<circle class="c41" cx="553.1" cy="357.2" r="3.1"/>
<circle class="c41" cx="566.6" cy="356" r="3.1"/>
<circle class="c41" cx="577.5" cy="356.5" r="3.1"/>
<circle class="c39" cx="614.4" cy="352.7" r="3.1"/>
<circle class="c36" cx="642.1" cy="346.1" r="3.1"/>
<circle class="c42" cx="546.1" cy="359" r="3.1"/>
<circle class="c30" cx="677.8" cy="330.1" r="3.1"/>
<circle class="c40" cx="605" cy="353.9" r="3.1"/>
<circle class="c41" cx="449" cy="357.5" r="3.1"/>
<circle class="c39" cx="610.4" cy="353" r="3.1"/>
<circle class="c35" cx="650.6" cy="342.4" r="3.1"/>
<circle class="c32" cx="666.4" cy="334.6" r="3.1"/>
<circle class="c41" cx="550.3" cy="358.1" r="3.1"/>
<circle class="c37" cx="637" cy="347.8" r="3.1"/>
<circle class="c30" cx="679.4" cy="329.8" r="3.1"/>
<circle class="c36" cx="644.9" cy="345.1" r="3.1"/>
<circle class="c38" cx="630.9" cy="349.3" r="3.1"/>
<circle class="c35" cx="647.8" cy="343.8" r="3.1"/>
<circle class="c40" cx="601.8" cy="355" r="3.1"/>
<circle class="c42" cx="541.1" cy="359.9" r="3.1"/>
<circle class="c39" cx="615.1" cy="352.6" r="3.1"/>
<circle class="c31" cx="667.7" cy="334.3" r="3.1"/>
<circle class="c41" cx="585.6" cy="356.9" r="3.1"/>
<circle class="c29" cx="681.1" cy="329.5" r="3.1"/>
<circle class="c40" cx="582.8" cy="355.4" r="3.1"/>
<circle class="c34" cx="655.8" cy="340" r="3.1"/>
<circle class="c33" cx="661.1" cy="337.5" r="3.1"/>
<circle class="c29" cx="682.8" cy="329.2" r="3.1"/>
<circle class="c41" cx="582.9" cy="356.2" r="3.1"/>
<circle class="c38" cx="630.3" cy="349.5" r="3.1"/>
<circle class="c10" cx="648.2" cy="283.2" r="3.1"/>
<circle class="c31" cx="669.1" cy="333.9" r="3.1"/>
<circle class="c41" cx="576.5" cy="356.3" r="3.1"/>
<circle class="c40" cx="597.5" cy="355.6" r="3.1"/>
<circle class="c39" cx="615.9" cy="352.5" r="3.1"/>
<circle class="c29" cx="684.6" cy="328.9" r="3.1"/>
<circle class="c41" cx="565.6" cy="356.5" r="3.1"/>
<circle class="c36" cx="641.5" cy="346.6" r="3.1"/>
<circle class="c37" cx="636.3" cy="348.2" r="3.1"/>
<circle class="c38" cx="629.6" cy="349.8" r="3.1"/>
<circle class="c29" cx="686.5" cy="328.7" r="3.1"/>
<circle class="c31" cx="670.5" cy="333.6" r="3.1"/>
<circle class="c40" cx="435.3" cy="355.1" r="3.1"/>
<circle class="c34" cx="653" cy="341.7" r="3.1"/>
<circle class="c40" cx="607.2" cy="354.3" r="3.1"/>
<circle class="c39" cx="616.7" cy="352.4" r="3.1"/>
<circle class="c29" cx="688.5" cy="328.4" r="3.1"/>
<circle class="c41" cx="567.4" cy="357" r="3.1"/>
<circle class="c36" cx="644.4" cy="345.7" r="3.1"/>
<circle class="c31" cx="671.9" cy="333.2" r="3.1"/>
<circle class="c38" cx="628.9" cy="350" r="3.1"/>
<circle class="c10" cx="657.4" cy="283.6" r="3.1"/>
<circle class="c32" cx="663.6" cy="336.8" r="3.1"/>
<circle class="c40" cx="593.1" cy="356.3" r="3.1"/>
<circle class="c29" cx="690.5" cy="328.1" r="3.1"/>
<circle class="c35" cx="650.2" cy="343.2" r="3.1"/>
<circle class="c35" cx="647.3" cy="344.6" r="3.1"/>
<circle class="c33" cx="658.3" cy="339.4" r="3.1"/>
<circle class="c39" cx="617.5" cy="352.2" r="3.1"/>
<circle class="c42" cx="477.6" cy="360.4" r="3.1"/>
<circle class="c10" cx="648.5" cy="285.1" r="3.1"/>
<circle class="c42" cx="482.8" cy="360.7" r="3.1"/>
<circle class="c28" cx="692.6" cy="327.9" r="3.1"/>
<circle class="c37" cx="635.7" cy="348.6" r="3.1"/>
<circle class="c38" cx="628.1" cy="350.2" r="3.1"/>
<circle class="c31" cx="673.4" cy="332.9" r="3.1"/>
<circle class="c42" cx="536.3" cy="361.2" r="3.1"/>
<circle class="c32" cx="664.9" cy="336.4" r="3.1"/>
<circle class="c28" cx="694.8" cy="327.7" r="3.1"/>
<circle class="c11" cx="648.6" cy="286.6" r="3.1"/>
<circle class="c39" cx="618.4" cy="352.1" r="3.1"/>
<circle class="c36" cx="640.9" cy="347.1" r="3.1"/>
<circle class="c41" cx="559.1" cy="357.4" r="3.1"/>
<circle class="c38" cx="627.4" cy="350.4" r="3.1"/>
<circle class="c43" cx="532" cy="361.8" r="3.1"/>
<circle class="c11" cx="647.8" cy="286.8" r="3.1"/>
<circle class="c30" cx="674.9" cy="332.6" r="3.1"/>
<circle class="c28" cx="697.1" cy="327.4" r="3.1"/>
<circle class="c43" cx="524.9" cy="362.5" r="3.1"/>
<circle class="c38" cx="619.2" cy="352" r="3.1"/>
<circle class="c38" cx="626.6" cy="350.6" r="3.1"/>
<circle class="c32" cx="666.3" cy="336.1" r="3.1"/>
<circle class="c28" cx="699.4" cy="327.2" r="3.1"/>
<circle class="c39" cx="611.9" cy="353.1" r="3.1"/>
<circle class="c34" cx="655.4" cy="341.1" r="3.1"/>
<circle class="c30" cx="676.4" cy="332.3" r="3.1"/>
<circle class="c38" cx="620" cy="351.9" r="3.1"/>
<circle class="c43" cx="519.9" cy="362.8" r="3.1"/>
<circle class="c37" cx="634.9" cy="348.9" r="3.1"/>
<circle class="c38" cx="625.8" cy="350.8" r="3.1"/>
<circle class="c28" cx="701.9" cy="327" r="3.1"/>
<circle class="c42" cx="487.2" cy="361.5" r="3.1"/>
<circle class="c40" cx="571.4" cy="356.7" r="3.1"/>
<circle class="c36" cx="643.7" cy="346.3" r="3.1"/>
<circle class="c40" cx="590.9" cy="356.2" r="3.1"/>
<circle class="c38" cx="620.9" cy="351.7" r="3.1"/>
<circle class="c33" cx="660.8" cy="338.8" r="3.1"/>
<circle class="c40" cx="586.2" cy="356.7" r="3.1"/>
<circle class="c38" cx="625" cy="351" r="3.1"/>
<circle class="c40" cx="599.2" cy="355.5" r="3.1"/>
<circle class="c10" cx="646.5" cy="283.9" r="3.1"/>
<circle class="c38" cx="621.7" cy="351.6" r="3.1"/>
<circle class="c32" cx="667.6" cy="335.8" r="3.1"/>
<circle class="c38" cx="624.2" cy="351.1" r="3.1"/>
<circle class="c30" cx="678" cy="332.1" r="3.1"/>
<circle class="c28" cx="704.4" cy="326.7" r="3.1"/>
<circle class="c11" cx="646.9" cy="285.9" r="3.1"/>
<circle class="c38" cx="622.5" cy="351.4" r="3.1"/>
<circle class="c38" cx="623.4" cy="351.3" r="3.1"/>
<circle class="c41" cx="549.7" cy="359.1" r="3.1"/>
<circle class="c34" cx="652.5" cy="342.7" r="3.1"/>
<circle class="c42" cx="544.3" cy="360.5" r="3.1"/>
<circle class="c40" cx="595.5" cy="355.9" r="3.1"/>
<circle class="c41" cx="560.6" cy="357.7" r="3.1"/>
<circle class="c35" cx="646.7" cy="345.3" r="3.1"/>
<circle class="c10" cx="654.3" cy="283.7" r="3.1"/>
<circle class="c28" cx="707.1" cy="326.4" r="3.1"/>
<circle class="c36" cx="640.1" cy="347.6" r="3.1"/>
<circle class="c35" cx="649.6" cy="344.1" r="3.1"/>
<circle class="c30" cx="679.7" cy="331.8" r="3.1"/>
<circle class="c40" cx="591.6" cy="355.6" r="3.1"/>
<circle class="c40" cx="568.5" cy="356.8" r="3.1"/>
<circle class="c31" cx="669" cy="335.5" r="3.1"/>
<circle class="c37" cx="634.2" cy="349.2" r="3.1"/>
<circle class="c39" cx="601.1" cy="354.8" r="3.1"/>
<circle class="c39" cx="609.7" cy="354.1" r="3.1"/>
<circle class="c11" cx="655.5" cy="288.3" r="3.1"/>
<circle class="c38" cx="435.1" cy="351.7" r="3.1"/>
<circle class="c10" cx="656.6" cy="283.9" r="3.1"/>
<circle class="c27" cx="709.9" cy="326.2" r="3.1"/>
<circle class="c11" cx="652.4" cy="286.2" r="3.1"/>
<circle class="c12" cx="648.2" cy="288.7" r="3.1"/>
<circle class="c43" cx="513.8" cy="363.3" r="3.1"/>
<circle class="c11" cx="645.5" cy="286.6" r="3.1"/>
<circle class="c30" cx="681.4" cy="331.6" r="3.1"/>
<circle class="c43" cx="529.1" cy="362.9" r="3.1"/>
<circle class="c41" cx="556.1" cy="358.5" r="3.1"/>
<circle class="c27" cx="712.8" cy="325.9" r="3.1"/>
<circle class="c33" cx="657.9" cy="340.5" r="3.1"/>
<circle class="c10" cx="647.1" cy="284.6" r="3.1"/>
<circle class="c31" cx="670.4" cy="335.2" r="3.1"/>
<circle class="c32" cx="663.4" cy="338.1" r="3.1"/>
<circle class="c40" cx="584.8" cy="355.7" r="3.1"/>
<circle class="c29" cx="683.2" cy="331.3" r="3.1"/>
<circle class="c40" cx="584.9" cy="356.5" r="3.1"/>
<circle class="c27" cx="715.8" cy="325.6" r="3.1"/>
<circle class="c39" cx="612.2" cy="353.3" r="3.1"/>
<circle class="c36" cx="643" cy="346.9" r="3.1"/>
<circle class="c37" cx="633.3" cy="349.5" r="3.1"/>
<circle class="c40" cx="576.8" cy="356.5" r="3.1"/>
<circle class="c43" cx="516.9" cy="363.7" r="3.1"/>
<circle class="c40" cx="567.1" cy="357" r="3.1"/>
<circle class="c11" cx="645.2" cy="286.8" r="3.1"/>
<circle class="c36" cx="639.4" cy="348.1" r="3.1"/>
<circle class="c31" cx="671.9" cy="335" r="3.1"/>
<circle class="c27" cx="719.1" cy="325.4" r="3.1"/>
<circle class="c29" cx="685" cy="331.1" r="3.1"/>
<circle class="c34" cx="654.9" cy="342.2" r="3.1"/>
<circle class="c39" cx="607.1" cy="353.8" r="3.1"/>
<circle class="c32" cx="664.7" cy="337.9" r="3.1"/>
<circle class="c39" cx="605.4" cy="354.6" r="3.1"/>
<circle class="c42" cx="538.1" cy="361.9" r="3.1"/>
<circle class="c27" cx="722.5" cy="325.1" r="3.1"/>
<circle class="c35" cx="646" cy="346" r="3.1"/>
<circle class="c29" cx="686.9" cy="330.9" r="3.1"/>
<circle class="c10" cx="653.3" cy="285.7" r="3.1"/>
<circle class="c39" cx="596.3" cy="355.6" r="3.1"/>
<circle class="c38" cx="613.2" cy="353.2" r="3.1"/>
<circle class="c37" cx="632.5" cy="349.8" r="3.1"/>
<circle class="c31" cx="673.4" cy="334.7" r="3.1"/>
<circle class="c34" cx="651.9" cy="343.6" r="3.1"/>
<circle class="c35" cx="649" cy="344.9" r="3.1"/>
<circle class="c27" cx="726.1" cy="324.8" r="3.1"/>
<circle class="c40" cx="565.5" cy="357.4" r="3.1"/>
<circle class="c20" cx="598" cy="309" r="3.1"/>
<circle class="c32" cx="666" cy="337.6" r="3.1"/>
<circle class="c40" cx="562.1" cy="357.4" r="3.1"/>
<circle class="c33" cx="660.4" cy="340" r="3.1"/>
<circle class="c29" cx="688.9" cy="330.7" r="3.1"/>
<circle class="c40" cx="591.5" cy="356.1" r="3.1"/>
<circle class="c11" cx="650.5" cy="289.2" r="3.1"/>
<circle class="c26" cx="730" cy="324.6" r="3.1"/>
<circle class="c11" cx="656.3" cy="288.4" r="3.1"/>
<circle class="c30" cx="674.9" cy="334.4" r="3.1"/>
<circle class="c24" cx="590" cy="318" r="3.1"/>
<circle class="c43" cx="533.2" cy="363.5" r="3.1"/>
<circle class="c36" cx="642.2" cy="347.4" r="3.1"/>
<circle class="c36" cx="638.5" cy="348.5" r="3.1"/>
<circle class="c37" cx="631.6" cy="350.1" r="3.1"/>
<circle class="c29" cx="690.9" cy="330.6" r="3.1"/>
<circle class="c40" cx="573.1" cy="356.5" r="3.1"/>
<circle class="c38" cx="614.2" cy="353.1" r="3.1"/>
<circle class="c26" cx="734.3" cy="324.4" r="3.1"/>
<circle class="c42" cx="470.8" cy="361.9" r="3.1"/>
<circle class="c32" cx="667.4" cy="337.3" r="3.1"/>
<circle class="c39" cx="592.9" cy="355.4" r="3.1"/>
<circle class="c30" cx="676.4" cy="334.2" r="3.1"/>
<circle class="c36" cx="435" cy="348.4" r="3.1"/>
<circle class="c26" cx="738.8" cy="324.2" r="3.1"/>
<circle class="c29" cx="693.1" cy="330.4" r="3.1"/>
<circle class="c39" cx="601.3" cy="356" r="3.1"/>
<circle class="c40" cx="570.5" cy="356.4" r="3.1"/>
<circle class="c33" cx="657.4" cy="341.7" r="3.1"/>
<circle class="c37" cx="630.7" cy="350.3" r="3.1"/>
<circle class="c38" cx="615.2" cy="352.9" r="3.1"/>
<circle class="c26" cx="743.9" cy="324" r="3.1"/>
<circle class="c35" cx="645.2" cy="346.6" r="3.1"/>
<circle class="c31" cx="668.8" cy="337.1" r="3.1"/>
<circle class="c29" cx="695.3" cy="330.2" r="3.1"/>
<circle class="c30" cx="678.1" cy="334" r="3.1"/>
<circle class="c39" cx="601.4" cy="355.3" r="3.1"/>
<circle class="c26" cx="749.4" cy="323.9" r="3.1"/>
<circle class="c32" cx="663" cy="339.5" r="3.1"/>
<circle class="c36" cx="637.7" cy="348.9" r="3.1"/>
<circle class="c34" cx="654.3" cy="343.2" r="3.1"/>
<circle class="c37" cx="629.8" cy="350.6" r="3.1"/>
<circle class="c43" cx="527.1" cy="364.7" r="3.1"/>
<circle class="c35" cx="648.2" cy="345.6" r="3.1"/>
<circle class="c28" cx="697.6" cy="330.1" r="3.1"/>
<circle class="c38" cx="616.3" cy="352.8" r="3.1"/>
<circle class="c26" cx="755.5" cy="323.8" r="3.1"/>
<circle class="c36" cx="641.4" cy="347.9" r="3.1"/>
<circle class="c41" cx="552.5" cy="360" r="3.1"/>
<circle class="c40" cx="572.1" cy="356.9" r="3.1"/>
<circle class="c34" cx="651.2" cy="344.5" r="3.1"/>
<circle class="c30" cx="679.7" cy="333.8" r="3.1"/>
<circle class="c31" cx="670.2" cy="336.9" r="3.1"/>
<circle class="c26" cx="762.2" cy="323.7" r="3.1"/>
<circle class="c42" cx="460.6" cy="361.9" r="3.1"/>
<circle class="c37" cx="628.8" cy="350.8" r="3.1"/>
<circle class="c28" cx="700" cy="329.9" r="3.1"/>
<circle class="c40" cx="558.6" cy="358.9" r="3.1"/>
<circle class="c32" cx="664.3" cy="339.3" r="3.1"/>
<circle class="c38" cx="617.3" cy="352.7" r="3.1"/>
<circle class="c42" cx="466.2" cy="362.2" r="3.1"/>
<circle class="c39" cx="594.9" cy="355.8" r="3.1"/>
<circle class="c43" cx="495.8" cy="363.9" r="3.1"/>
<circle class="c26" cx="769.4" cy="323.6" r="3.1"/>
<circle class="c30" cx="681.4" cy="333.6" r="3.1"/>
<circle class="c31" cx="671.6" cy="336.6" r="3.1"/>
<circle class="c37" cx="627.8" cy="351" r="3.1"/>
</g>
<g fill-opacity="0.71" stroke-opacity="0.71">
<circle class="c28" cx="702.5" cy="329.8" r="3.1"/>
<circle class="c40" cx="559.4" cy="358.8" r="3.1"/>
<circle class="c36" cx="636.7" cy="349.3" r="3.1"/>
<circle class="c33" cx="659.8" cy="341.2" r="3.1"/>
<circle class="c39" cx="597.3" cy="355.8" r="3.1"/>
<circle class="c43" cx="502.4" cy="364.6" r="3.1"/>
<circle class="c38" cx="618.4" cy="352.5" r="3.1"/>
<circle class="c39" cx="594.3" cy="355" r="3.1"/>
<circle class="c43" cx="507.4" cy="365.1" r="3.1"/>
<circle class="c35" cx="644.3" cy="347.2" r="3.1"/>
<circle class="c41" cx="555.7" cy="359.7" r="3.1"/>
<circle class="c37" cx="626.8" cy="351.2" r="3.1"/>
<circle class="c43" cx="527.6" cy="365" r="3.1"/>
<circle class="c30" cx="683.2" cy="333.5" r="3.1"/>
<circle class="c39" cx="578.8" cy="356.6" r="3.1"/>
<circle class="c41" cx="549.7" cy="361.3" r="3.1"/>
<circle class="c32" cx="665.6" cy="339" r="3.1"/>
<circle class="c38" cx="619.4" cy="352.4" r="3.1"/>
<circle class="c38" cx="604.7" cy="354.3" r="3.1"/>
<circle class="c28" cx="705.1" cy="329.6" r="3.1"/>
<circle class="c36" cx="640.5" cy="348.4" r="3.1"/>
<circle class="c37" cx="625.8" cy="351.4" r="3.1"/>
<circle class="c31" cx="673.1" cy="336.4" r="3.1"/>
<circle class="c37" cx="620.5" cy="352.3" r="3.1"/>
<circle class="c40" cx="568.8" cy="357.2" r="3.1"/>
<circle class="c38" cx="606.6" cy="354.7" r="3.1"/>
<circle class="c39" cx="576.2" cy="356.2" r="3.1"/>
<circle class="c37" cx="624.7" cy="351.6" r="3.1"/>
<circle class="c39" cx="583.1" cy="356.9" r="3.1"/>
<circle class="c39" cx="599.5" cy="355.1" r="3.1"/>
<circle class="c37" cx="621.6" cy="352.1" r="3.1"/>
<circle class="c33" cx="656.7" cy="342.8" r="3.1"/>
<circle class="c34" cx="434.9" cy="345.1" r="3.1"/>
<circle class="c37" cx="623.7" cy="351.8" r="3.1"/>
<circle class="c37" cx="622.6" cy="351.9" r="3.1"/>
<circle class="c29" cx="685.1" cy="333.3" r="3.1"/>
<circle class="c35" cx="647.3" cy="346.4" r="3.1"/>
<circle class="c28" cx="707.8" cy="329.4" r="3.1"/>
<circle class="c36" cx="635.7" cy="349.6" r="3.1"/>
<circle class="c32" cx="667" cy="338.8" r="3.1"/>
<circle class="c34" cx="653.6" cy="344.1" r="3.1"/>
<circle class="c31" cx="674.6" cy="336.2" r="3.1"/>
<circle class="c34" cx="650.4" cy="345.3" r="3.1"/>
<circle class="c40" cx="559.4" cy="359.1" r="3.1"/>
<circle class="c39" cx="601.6" cy="355.4" r="3.1"/>
<circle class="c29" cx="687" cy="333.2" r="3.1"/>
<circle class="c38" cx="610" cy="353.8" r="3.1"/>
<circle class="c43" cx="498.7" cy="364.9" r="3.1"/>
<circle class="c38" cx="608.4" cy="354.4" r="3.1"/>
<circle class="c28" cx="710.6" cy="329.2" r="3.1"/>
<circle class="c32" cx="662.4" cy="340.8" r="3.1"/>
<circle class="c35" cx="643.4" cy="347.8" r="3.1"/>
<circle class="c36" cx="639.5" cy="348.9" r="3.1"/>
<circle class="c32" cx="668.3" cy="338.6" r="3.1"/>
<circle class="c30" cx="676.2" cy="336.1" r="3.1"/>
<circle class="c29" cx="689" cy="333.1" r="3.1"/>
<circle class="c40" cx="565.3" cy="357.8" r="3.1"/>
<circle class="c36" cx="634.7" cy="350" r="3.1"/>
<circle class="c27" cx="713.5" cy="329" r="3.1"/>
<circle class="c39" cx="587.5" cy="356.2" r="3.1"/>
<circle class="c39" cx="574" cy="356.6" r="3.1"/>
<circle class="c43" cx="510.9" cy="366.1" r="3.1"/>
<circle class="c38" cx="611.3" cy="353.6" r="3.1"/>
<circle class="c42" cx="544" cy="363.1" r="3.1"/>
<circle class="c29" cx="691.1" cy="333" r="3.1"/>
<circle class="c30" cx="677.8" cy="335.9" r="3.1"/>
<circle class="c32" cx="663.7" cy="340.6" r="3.1"/>
<circle class="c31" cx="669.8" cy="338.5" r="3.1"/>
<circle class="c27" cx="716.6" cy="328.8" r="3.1"/>
<circle class="c39" cx="582.2" cy="356.9" r="3.1"/>
<circle class="c33" cx="659.1" cy="342.4" r="3.1"/>
<circle class="c35" cx="646.4" cy="347.1" r="3.1"/>
<circle class="c38" cx="600.6" cy="354.9" r="3.1"/>
<circle class="c36" cx="633.6" cy="350.3" r="3.1"/>
<circle class="c36" cx="638.4" cy="349.3" r="3.1"/>
<circle class="c29" cx="693.2" cy="332.9" r="3.1"/>
<circle class="c40" cx="563.1" cy="358.3" r="3.1"/>
<circle class="c30" cx="679.5" cy="335.8" r="3.1"/>
<circle class="c27" cx="719.8" cy="328.6" r="3.1"/>
<circle class="c33" cx="655.9" cy="343.8" r="3.1"/>
<circle class="c34" cx="649.5" cy="346.1" r="3.1"/>
<circle class="c40" cx="562.9" cy="358.6" r="3.1"/>
<circle class="c38" cx="605.9" cy="354.7" r="3.1"/>
<circle class="c43" cx="521.3" cy="366.6" r="3.1"/>
<circle class="c35" cx="642.3" cy="348.4" r="3.1"/>
<circle class="c38" cx="612.5" cy="353.5" r="3.1"/>
<circle class="c31" cx="671.2" cy="338.3" r="3.1"/>
<circle class="c32" cx="665" cy="340.4" r="3.1"/>
<circle class="c42" cx="541.4" cy="364.5" r="3.1"/>
<circle class="c34" cx="652.7" cy="345" r="3.1"/>
<circle class="c42" cx="488.1" cy="365.1" r="3.1"/>
<circle class="c33" cx="434.8" cy="341.9" r="3.1"/>
<circle class="c38" cx="585.3" cy="355.8" r="3.1"/>
<circle class="c39" cx="579.6" cy="356.5" r="3.1"/>
<circle class="c37" cx="608" cy="352.9" r="3.1"/>
<circle class="c29" cx="695.5" cy="332.8" r="3.1"/>
<circle class="c36" cx="632.5" cy="350.6" r="3.1"/>
<circle class="c41" cx="447.5" cy="363" r="3.1"/>
<circle class="c22" cx="602" cy="316" r="3.1"/>
<circle class="c27" cx="723.2" cy="328.4" r="3.1"/>
<circle class="c39" cx="594.3" cy="356.3" r="3.1"/>
<circle class="c30" cx="681.2" cy="335.6" r="3.1"/>
<circle class="c40" cx="558" cy="359.9" r="3.1"/>
<circle class="c38" cx="606.5" cy="354.3" r="3.1"/>
<circle class="c31" cx="672.7" cy="338.1" r="3.1"/>
<circle class="c37" cx="613.8" cy="353.4" r="3.1"/>
<circle class="c21" cx="625.8" cy="313.9" r="3.1"/>
<circle class="c32" cx="666.3" cy="340.3" r="3.1"/>
<circle class="c36" cx="637.3" cy="349.7" r="3.1"/>
<circle class="c38" cx="597.3" cy="355.4" r="3.1"/>
<circle class="c29" cx="697.9" cy="332.7" r="3.1"/>
<circle class="c38" cx="594" cy="355.5" r="3.1"/>
<circle class="c36" cx="631.4" cy="350.9" r="3.1"/>
<circle class="c27" cx="726.9" cy="328.2" r="3.1"/>
<circle class="c35" cx="645.4" cy="347.7" r="3.1"/>
<circle class="c43" cx="512.3" cy="366.8" r="3.1"/>
<circle class="c33" cx="661.6" cy="342.1" r="3.1"/>
<circle class="c30" cx="683" cy="335.5" r="3.1"/>
<circle class="c21" cx="637.3" cy="315.1" r="3.1"/>
<circle class="c21" cx="643.6" cy="314.5" r="3.1"/>
<circle class="c38" cx="602.8" cy="354.9" r="3.1"/>
<circle class="c13" cx="646.7" cy="294.9" r="3.1"/>
<circle class="c35" cx="641.3" cy="348.9" r="3.1"/>
<circle class="c37" cx="615" cy="353.2" r="3.1"/>
<circle class="c31" cx="674.2" cy="338" r="3.1"/>
<circle class="c28" cx="700.3" cy="332.6" r="3.1"/>
<circle class="c37" cx="608.6" cy="354" r="3.1"/>
<circle class="c36" cx="630.2" cy="351.1" r="3.1"/>
<circle class="c32" cx="667.7" cy="340.1" r="3.1"/>
<circle class="c27" cx="730.7" cy="328.1" r="3.1"/>
<circle class="c30" cx="684.9" cy="335.5" r="3.1"/>
<circle class="c34" cx="648.5" cy="346.9" r="3.1"/>
<circle class="c33" cx="658.3" cy="343.5" r="3.1"/>
<circle class="c36" cx="636.2" cy="350.1" r="3.1"/>
<circle class="c39" cx="571.4" cy="357.5" r="3.1"/>
<circle class="c37" cx="616.3" cy="353.1" r="3.1"/>
<circle class="c32" cx="662.9" cy="341.9" r="3.1"/>
<circle class="c38" cx="576.7" cy="356.6" r="3.1"/>
<circle class="c28" cx="702.8" cy="332.5" r="3.1"/>
<circle class="c38" cx="588" cy="356.2" r="3.1"/>
<circle class="c36" cx="629" cy="351.4" r="3.1"/>
<circle class="c34" cx="651.7" cy="345.9" r="3.1"/>
<circle class="c13" cx="646.8" cy="297.1" r="3.1"/>
<circle class="c43" cx="536.9" cy="366.8" r="3.1"/>
<circle class="c33" cx="655" cy="344.8" r="3.1"/>
<circle class="c31" cx="675.8" cy="337.9" r="3.1"/>
<circle class="c21" cx="627" cy="314.9" r="3.1"/>
<circle class="c21" cx="661.1" cy="315.6" r="3.1"/>
<circle class="c38" cx="592.5" cy="355.1" r="3.1"/>
<circle class="c26" cx="734.9" cy="327.9" r="3.1"/>
<circle class="c29" cx="686.8" cy="335.4" r="3.1"/>
<circle class="c14" cx="643.7" cy="297.7" r="3.1"/>
<circle class="c37" cx="617.6" cy="353" r="3.1"/>
<circle class="c31" cx="669.1" cy="340" r="3.1"/>
<circle class="c38" cx="596.6" cy="355" r="3.1"/>
<circle class="c39" cx="570.6" cy="357.9" r="3.1"/>
<circle class="c39" cx="568.4" cy="357.8" r="3.1"/>
<circle class="c36" cx="627.8" cy="351.6" r="3.1"/>
<circle class="c22" cx="619.9" cy="316.5" r="3.1"/>
<circle class="c37" cx="610" cy="353.9" r="3.1"/>
<circle class="c35" cx="644.2" cy="348.3" r="3.1"/>
<circle class="c40" cx="554.1" cy="361.5" r="3.1"/>
<circle class="c38" cx="583.4" cy="356" r="3.1"/>
<circle class="c35" cx="640.1" cy="349.3" r="3.1"/>
<circle class="c21" cx="631.5" cy="314.9" r="3.1"/>
<circle class="c28" cx="705.4" cy="332.5" r="3.1"/>
<circle class="c20" cx="612" cy="314" r="3.1"/>
<circle class="c37" cx="618.9" cy="352.8" r="3.1"/>
<circle class="c40" cx="437" cy="360" r="3.1"/>
<circle class="c36" cx="635" cy="350.4" r="3.1"/>
<circle class="c13" cx="652.6" cy="296.9" r="3.1"/>
<circle class="c36" cx="626.6" cy="351.8" r="3.1"/>
<circle class="c39" cx="565.6" cy="358.1" r="3.1"/>
<circle class="c20" cx="647.4" cy="312.8" r="3.1"/>
<circle class="c32" cx="664.2" cy="341.8" r="3.1"/>
<circle class="c30" cx="677.4" cy="337.8" r="3.1"/>
<circle class="c20" cx="643.6" cy="313.3" r="3.1"/>
<circle class="c26" cx="739.4" cy="327.8" r="3.1"/>
<circle class="c37" cx="620.2" cy="352.7" r="3.1"/>
<circle class="c29" cx="688.8" cy="335.4" r="3.1"/>
<circle class="c36" cx="625.3" cy="352" r="3.1"/>
<circle class="c24" cx="644" cy="321.7" r="3.1"/>
<circle class="c37" cx="621.5" cy="352.5" r="3.1"/>
<circle class="c36" cx="624" cy="352.2" r="3.1"/>
<circle class="c36" cx="622.7" cy="352.3" r="3.1"/>
<circle class="c31" cx="670.6" cy="339.9" r="3.1"/>
<circle class="c28" cx="708.1" cy="332.4" r="3.1"/>
<circle class="c42" cx="477.5" cy="365.9" r="3.1"/>
<circle class="c37" cx="611.4" cy="353.7" r="3.1"/>
<circle class="c22" cx="638.1" cy="318.4" r="3.1"/>
<circle class="c34" cx="647.4" cy="347.6" r="3.1"/>
<circle class="c22" cx="622.9" cy="317.1" r="3.1"/>
<circle class="c40" cx="555.9" cy="360.6" r="3.1"/>
<circle class="c36" cx="633.7" cy="350.7" r="3.1"/>
<circle class="c30" cx="679.1" cy="337.7" r="3.1"/>
<circle class="c26" cx="744.3" cy="327.7" r="3.1"/>
<circle class="c24" cx="652" cy="323.2" r="3.1"/>
<circle class="c38" cx="603.2" cy="355.1" r="3.1"/>
<circle class="c22" cx="626.4" cy="318.3" r="3.1"/>
<circle class="c24" cx="650.5" cy="321.8" r="3.1"/>
<circle class="c38" cx="587.5" cy="355.9" r="3.1"/>
<circle class="c29" cx="690.9" cy="335.3" r="3.1"/>
<circle class="c33" cx="660.7" cy="343.3" r="3.1"/>
<circle class="c32" cx="665.5" cy="341.7" r="3.1"/>
<circle class="c23" cx="650.4" cy="321.2" r="3.1"/>
<circle class="c35" cx="638.9" cy="349.8" r="3.1"/>
<circle class="c23" cx="643" cy="320.4" r="3.1"/>
<circle class="c37" cx="591.2" cy="354.7" r="3.1"/>
<circle class="c43" cx="508" cy="367.9" r="3.1"/>
<circle class="c21" cx="594" cy="316" r="3.1"/>
<circle class="c37" cx="600.5" cy="354.9" r="3.1"/>
<circle class="c28" cx="711" cy="332.3" r="3.1"/>
<circle class="c31" cx="672" cy="339.8" r="3.1"/>
<circle class="c35" cx="643.1" cy="348.8" r="3.1"/>
<circle class="c34" cx="650.6" cy="346.7" r="3.1"/>
<circle class="c22" cx="654.1" cy="317.3" r="3.1"/>
<circle class="c25" cx="638.9" cy="324.3" r="3.1"/>
<circle class="c33" cx="657.3" cy="344.6" r="3.1"/>
<circle class="c37" cx="612.8" cy="353.6" r="3.1"/>
<circle class="c26" cx="749.7" cy="327.7" r="3.1"/>
<circle class="c21" cx="625.5" cy="314.9" r="3.1"/>
<circle class="c33" cx="653.9" cy="345.7" r="3.1"/>
<circle class="c38" cx="575.2" cy="357.3" r="3.1"/>
<circle class="c30" cx="680.8" cy="337.6" r="3.1"/>
<circle class="c36" cx="632.5" cy="351" r="3.1"/>
<circle class="c38" cx="597" cy="356" r="3.1"/>
<circle class="c29" cx="693.1" cy="335.3" r="3.1"/>
<circle class="c14" cx="645" cy="299.6" r="3.1"/>
<circle class="c25" cx="646.2" cy="324.5" r="3.1"/>
<circle class="c21" cx="641.3" cy="316.5" r="3.1"/>
<circle class="c37" cx="597.8" cy="354.9" r="3.1"/>
<circle class="c21" cx="647.9" cy="317.2" r="3.1"/>
<circle class="c32" cx="666.9" cy="341.6" r="3.1"/>
<circle class="c15" cx="652.8" cy="301.3" r="3.1"/>
<circle class="c13" cx="647.5" cy="296.8" r="3.1"/>
<circle class="c32" cx="662" cy="343.2" r="3.1"/>
<circle class="c21" cx="629.3" cy="317.2" r="3.1"/>
<circle class="c28" cx="713.9" cy="332.2" r="3.1"/>
<circle class="c38" cx="572.3" cy="357.2" r="3.1"/>
<circle class="c37" cx="607.2" cy="354.2" r="3.1"/>
<circle class="c31" cx="673.5" cy="339.7" r="3.1"/>
<circle class="c35" cx="637.6" cy="350.2" r="3.1"/>
<circle class="c39" cx="561.5" cy="359.9" r="3.1"/>
<circle class="c20" cx="645.2" cy="314.2" r="3.1"/>
<circle class="c37" cx="614.2" cy="353.4" r="3.1"/>
<circle class="c36" cx="631.2" cy="351.3" r="3.1"/>
<circle class="c26" cx="755.6" cy="327.7" r="3.1"/>
<circle class="c14" cx="647.4" cy="299.8" r="3.1"/>
<circle class="c14" cx="646.5" cy="299.4" r="3.1"/>
<circle class="c29" cx="695.4" cy="335.3" r="3.1"/>
<circle class="c30" cx="682.6" cy="337.6" r="3.1"/>
<circle class="c15" cx="642.7" cy="301.6" r="3.1"/>
<circle class="c21" cx="644.1" cy="317.3" r="3.1"/>
<circle class="c34" cx="646.1" cy="348.2" r="3.1"/>
<circle class="c23" cx="624.7" cy="320.9" r="3.1"/>
<circle class="c16" cx="639.9" cy="304.1" r="3.1"/>
<circle class="c24" cx="627.7" cy="322.8" r="3.1"/>
<circle class="c38" cx="436.8" cy="356.6" r="3.1"/>
<circle class="c21" cx="634.6" cy="317" r="3.1"/>
<circle class="c35" cx="641.8" cy="349.4" r="3.1"/>
<circle class="c28" cx="717.1" cy="332.1" r="3.1"/>
<circle class="c39" cx="563.5" cy="359.6" r="3.1"/>
<circle class="c19" cx="640.4" cy="311.3" r="3.1"/>
<circle class="c39" cx="566.8" cy="359" r="3.1"/>
<circle class="c31" cx="668.3" cy="341.5" r="3.1"/>
<circle class="c36" cx="629.8" cy="351.6" r="3.1"/>
<circle class="c36" cx="615.6" cy="353.3" r="3.1"/>
<circle class="c32" cx="663.3" cy="343.1" r="3.1"/>
<circle class="c31" cx="675.1" cy="339.6" r="3.1"/>
<circle class="c19" cx="644.9" cy="311.2" r="3.1"/>
<circle class="c26" cx="762.1" cy="327.7" r="3.1"/>
<circle class="c29" cx="697.8" cy="335.3" r="3.1"/>
<circle class="c16" cx="638.9" cy="304.3" r="3.1"/>
<circle class="c30" cx="684.5" cy="337.6" r="3.1"/>
<circle class="c37" cx="608.7" cy="354" r="3.1"/>
<circle class="c35" cx="636.3" cy="350.6" r="3.1"/>
<circle class="c34" cx="649.4" cy="347.5" r="3.1"/>
<circle class="c36" cx="628.5" cy="351.8" r="3.1"/>
<circle class="c36" cx="617.1" cy="353.2" r="3.1"/>
<circle class="c24" cx="636.6" cy="323" r="3.1"/>
<circle class="c18" cx="653.3" cy="310" r="3.1"/>
<circle class="c37" cx="593.4" cy="354.5" r="3.1"/>
<circle class="c18" cx="660.3" cy="310.2" r="3.1"/>
<circle class="c27" cx="720.3" cy="332" r="3.1"/>
<circle class="c22" cx="656.7" cy="320.3" r="3.1"/>
<circle class="c33" cx="659.7" cy="344.4" r="3.1"/>
<circle class="c37" cx="599.9" cy="354.7" r="3.1"/>
<circle class="c36" cx="627.1" cy="352" r="3.1"/>
<circle class="c31" cx="669.7" cy="341.4" r="3.1"/>
<circle class="c36" cx="618.5" cy="353" r="3.1"/>
<circle class="c22" cx="618" cy="320" r="3.1"/>
<circle class="c37" cx="584.2" cy="356.2" r="3.1"/>
<circle class="c33" cx="652.7" cy="346.6" r="3.1"/>
<circle class="c31" cx="676.7" cy="339.6" r="3.1"/>
<circle class="c20" cx="656.5" cy="313.9" r="3.1"/>
<circle class="c21" cx="659.2" cy="317.4" r="3.1"/>
<circle class="c29" cx="700.2" cy="335.3" r="3.1"/>
<circle class="c33" cx="656.2" cy="345.6" r="3.1"/>
<circle class="c18" cx="658.6" cy="308.8" r="3.1"/>
<circle class="c32" cx="664.6" cy="343" r="3.1"/>
<circle class="c30" cx="686.4" cy="337.6" r="3.1"/>
<circle class="c26" cx="769.1" cy="327.8" r="3.1"/>
<circle class="c36" cx="625.7" cy="352.2" r="3.1"/>
<circle class="c36" cx="619.9" cy="352.9" r="3.1"/>
<circle class="c23" cx="656" cy="321.8" r="3.1"/>
<circle class="c37" cx="601.6" cy="355.2" r="3.1"/>
<circle class="c24" cx="634.9" cy="323.5" r="3.1"/>
<circle class="c38" cx="579.1" cy="356.7" r="3.1"/>
<circle class="c35" cx="640.5" cy="349.8" r="3.1"/>
<circle class="c43" cx="499.9" cy="368.8" r="3.1"/>
<circle class="c21" cx="647.1" cy="316.1" r="3.1"/>
<circle class="c34" cx="644.9" cy="348.8" r="3.1"/>
<circle class="c36" cx="624.2" cy="352.4" r="3.1"/>
<circle class="c36" cx="621.4" cy="352.7" r="3.1"/>
<circle class="c35" cx="634.9" cy="350.9" r="3.1"/>
<circle class="c36" cx="622.8" cy="352.6" r="3.1"/>
<circle class="c43" cx="497.3" cy="368.6" r="3.1"/>
<circle class="c36" cx="610.3" cy="353.9" r="3.1"/>
<circle class="c38" cx="579.2" cy="357.1" r="3.1"/>
<circle class="c15" cx="643.3" cy="302.2" r="3.1"/>
<circle class="c38" cx="578.8" cy="356.5" r="3.1"/>
<circle class="c18" cx="653.7" cy="308.8" r="3.1"/>
<circle class="c27" cx="723.8" cy="331.9" r="3.1"/>
<circle class="c14" cx="653.1" cy="301.5" r="3.1"/>
<circle class="c37" cx="603.6" cy="354.6" r="3.1"/>
<circle class="c38" cx="569.9" cy="357.9" r="3.1"/>
<circle class="c37" cx="595.7" cy="354.9" r="3.1"/>
<circle class="c29" cx="702.8" cy="335.3" r="3.1"/>
<circle class="c32" cx="660.9" cy="344.4" r="3.1"/>
<circle class="c31" cx="671.2" cy="341.4" r="3.1"/>
<circle class="c30" cx="678.4" cy="339.6" r="3.1"/>
<circle class="c30" cx="688.4" cy="337.6" r="3.1"/>
<circle class="c38" cx="569.4" cy="358.1" r="3.1"/>
<circle class="c15" cx="652.6" cy="304" r="3.1"/>
<circle class="c38" cx="572" cy="358.2" r="3.1"/>
<circle class="c16" cx="651" cy="306.4" r="3.1"/>
<circle class="c32" cx="665.9" cy="343" r="3.1"/>
<circle class="c21" cx="651.9" cy="317.7" r="3.1"/>
<circle class="c23" cx="606" cy="322" r="3.1"/>
<circle class="c16" cx="659.8" cy="304.6" r="3.1"/>
<circle class="c42" cx="538.8" cy="368.1" r="3.1"/>
<circle class="c35" cx="633.5" cy="351.2" r="3.1"/>
<circle class="c36" cx="611.8" cy="353.8" r="3.1"/>
<circle class="c34" cx="648.1" cy="348.2" r="3.1"/>
<circle class="c36" cx="599" cy="354.2" r="3.1"/>
<circle class="c36" cx="436.7" cy="353.3" r="3.1"/>
<circle class="c22" cx="620.9" cy="320.7" r="3.1"/>
<circle class="c27" cx="727.4" cy="331.8" r="3.1"/>
<circle class="c20" cx="618.7" cy="316.3" r="3.1"/>
<circle class="c42" cx="469.1" cy="367.3" r="3.1"/>
<circle class="c42" cx="463.5" cy="367" r="3.1"/>
<circle class="c35" cx="639.1" cy="350.3" r="3.1"/>
<circle class="c22" cx="638.8" cy="320.3" r="3.1"/>
<circle class="c19" cx="650.6" cy="312.6" r="3.1"/>
<circle class="c43" cx="514.3" cy="369.7" r="3.1"/>
<circle class="c37" cx="601.7" cy="354.6" r="3.1"/>
<circle class="c36" cx="605.8" cy="354.3" r="3.1"/>
<circle class="c28" cx="705.4" cy="335.4" r="3.1"/>
<circle class="c13" cx="639.4" cy="298.5" r="3.1"/>
<circle class="c37" cx="592" cy="356.4" r="3.1"/>
<circle class="c19" cx="658.1" cy="312.8" r="3.1"/>
<circle class="c18" cx="652.8" cy="310.2" r="3.1"/>
<circle class="c30" cx="680.1" cy="339.6" r="3.1"/>
<circle class="c23" cx="630.9" cy="322.6" r="3.1"/>
<circle class="c29" cx="690.5" cy="337.7" r="3.1"/>
<circle class="c21" cx="657.5" cy="318.4" r="3.1"/>
<circle class="c31" cx="672.7" cy="341.4" r="3.1"/>
<circle class="c16" cx="645.3" cy="306.2" r="3.1"/>
<circle class="c22" cx="656.6" cy="320.2" r="3.1"/>
<circle class="c17" cx="651.6" cy="307" r="3.1"/>
<circle class="c37" cx="577.3" cy="356.9" r="3.1"/>
<circle class="c34" cx="643.5" cy="349.4" r="3.1"/>
<circle class="c32" cx="662.2" cy="344.3" r="3.1"/>
<circle class="c18" cx="649.2" cy="310.4" r="3.1"/>
<circle class="c35" cx="632.1" cy="351.5" r="3.1"/>
<circle class="c33" cx="651.4" cy="347.5" r="3.1"/>
<circle class="c36" cx="613.4" cy="353.6" r="3.1"/>
<circle class="c32" cx="667.3" cy="342.9" r="3.1"/>
<circle class="c43" cx="530.8" cy="370" r="3.1"/>
<circle class="c23" cx="622.7" cy="321.7" r="3.1"/>
<circle class="c23" cx="649.1" cy="323" r="3.1"/>
<circle class="c33" cx="658.5" cy="345.5" r="3.1"/>
<circle class="c27" cx="731.2" cy="331.7" r="3.1"/>
<circle class="c33" cx="654.9" cy="346.6" r="3.1"/>
<circle class="c40" cx="555.2" cy="363.4" r="3.1"/>
<circle class="c22" cx="661.9" cy="319.8" r="3.1"/>
<circle class="c24" cx="636" cy="324.4" r="3.1"/>
<circle class="c28" cx="708.2" cy="335.4" r="3.1"/>
<circle class="c37" cx="588.1" cy="356" r="3.1"/>
<circle class="c15" cx="645" cy="304.8" r="3.1"/>
<circle class="c38" cx="567.3" cy="358.9" r="3.1"/>
<circle class="c35" cx="630.6" cy="351.8" r="3.1"/>
<circle class="c29" cx="692.7" cy="337.7" r="3.1"/>
<circle class="c30" cx="681.9" cy="339.6" r="3.1"/>
<circle class="c21" cx="635.1" cy="319.1" r="3.1"/>
<circle class="c35" cx="637.6" cy="350.7" r="3.1"/>
<circle class="c36" cx="615" cy="353.5" r="3.1"/>
<circle class="c31" cx="674.2" cy="341.3" r="3.1"/>
<circle class="c13" cx="646.8" cy="299.4" r="3.1"/>
<circle class="c17" cx="652.4" cy="308.2" r="3.1"/>
<circle class="c42" cx="444.2" cy="367.1" r="3.1"/>
<circle class="c36" cx="607.5" cy="354.2" r="3.1"/>
<circle class="c18" cx="661.9" cy="312.1" r="3.1"/>
<circle class="c16" cx="645" cy="306.4" r="3.1"/>
<circle class="c32" cx="663.4" cy="344.3" r="3.1"/>
<circle class="c43" cx="533.1" cy="370.1" r="3.1"/>
<circle class="c13" cx="649.2" cy="299.7" r="3.1"/>
<circle class="c19" cx="659.8" cy="313.3" r="3.1"/>
<circle class="c34" cx="646.7" cy="348.9" r="3.1"/>
<circle class="c38" cx="565.9" cy="359.4" r="3.1"/>
<circle class="c35" cx="629.1" cy="352" r="3.1"/>
<circle class="c31" cx="668.7" cy="342.9" r="3.1"/>
<circle class="c36" cx="616.5" cy="353.4" r="3.1"/>
<circle class="c34" cx="642" cy="349.9" r="3.1"/>
<circle class="c27" cx="735.3" cy="331.6" r="3.1"/>
<circle class="c28" cx="711.1" cy="335.4" r="3.1"/>
<circle class="c15" cx="648" cy="304.4" r="3.1"/>
<circle class="c37" cx="581.6" cy="356.5" r="3.1"/>
<circle class="c29" cx="695" cy="337.8" r="3.1"/>
<circle class="c32" cx="659.7" cy="345.5" r="3.1"/>
<circle class="c14" cx="640.2" cy="301.1" r="3.1"/>
<circle class="c30" cx="683.7" cy="339.7" r="3.1"/>
<circle class="c35" cx="627.6" cy="352.3" r="3.1"/>
<circle class="c17" cx="652.3" cy="309.3" r="3.1"/>
<circle class="c36" cx="618.1" cy="353.3" r="3.1"/>
<circle class="c36" cx="603" cy="354.6" r="3.1"/>
<circle class="c14" cx="654.1" cy="300.8" r="3.1"/>
<circle class="c31" cx="675.8" cy="341.4" r="3.1"/>
<circle class="c35" cx="636.1" cy="351.1" r="3.1"/>
<circle class="c36" cx="593.9" cy="355.1" r="3.1"/>
<circle class="c41" cx="544" cy="366.7" r="3.1"/>
<circle class="c35" cx="626" cy="352.5" r="3.1"/>
<circle class="c17" cx="651.5" cy="309.8" r="3.1"/>
<circle class="c36" cx="619.7" cy="353.1" r="3.1"/>
<circle class="c14" cx="648.2" cy="301.3" r="3.1"/>
<circle class="c36" cx="609.2" cy="354.1" r="3.1"/>
<circle class="c34" cx="436.6" cy="350.1" r="3.1"/>
<circle class="c33" cx="650" cy="348.2" r="3.1"/>
<circle class="c19" cx="570.8" cy="312.8" r="3.1"/>
<circle class="c35" cx="624.5" cy="352.7" r="3.1"/>
<circle class="c35" cx="621.3" cy="353" r="3.1"/>
<circle class="c32" cx="664.7" cy="344.3" r="3.1"/>
<circle class="c35" cx="622.9" cy="352.8" r="3.1"/>
<circle class="c15" cx="647.6" cy="304.7" r="3.1"/>
<circle class="c31" cx="670.1" cy="342.9" r="3.1"/>
<circle class="c18" cx="656.1" cy="310.5" r="3.1"/>
<circle class="c14" cx="637.8" cy="303" r="3.1"/>
<circle class="c15" cx="648.7" cy="305.4" r="3.1"/>
<circle class="c26" cx="739.8" cy="331.6" r="3.1"/>
<circle class="c28" cx="714.1" cy="335.4" r="3.1"/>
<circle class="c15" cx="659.5" cy="305.2" r="3.1"/>
<circle class="c29" cx="697.4" cy="337.9" r="3.1"/>
<circle class="c42" cx="485.9" cy="369.3" r="3.1"/>
<circle class="c36" cx="589.7" cy="354.5" r="3.1"/>
<circle class="c14" cx="654" cy="301.8" r="3.1"/>
<circle class="c30" cx="685.7" cy="339.7" r="3.1"/>
<circle class="c42" cx="492.4" cy="369.7" r="3.1"/>
<circle class="c37" cx="570.5" cy="357.7" r="3.1"/>
<circle class="c15" cx="652.7" cy="303.9" r="3.1"/>
<circle class="c33" cx="653.5" cy="347.5" r="3.1"/>
<circle class="c15" cx="641.7" cy="303.5" r="3.1"/>
<circle class="c35" cx="634.6" cy="351.4" r="3.1"/>
<circle class="c32" cx="660.9" cy="345.5" r="3.1"/>
<circle class="c34" cx="640.5" cy="350.4" r="3.1"/>
<circle class="c30" cx="677.4" cy="341.4" r="3.1"/>
<circle class="c34" cx="645.2" cy="349.5" r="3.1"/>
<circle class="c33" cx="657.2" cy="346.6" r="3.1"/>
<circle class="c36" cx="610.9" cy="354" r="3.1"/>
<circle class="c43" cx="509.2" cy="370.9" r="3.1"/>
<circle class="c36" cx="604.4" cy="354.5" r="3.1"/>
<circle class="c18" cx="655.3" cy="312.3" r="3.1"/>
<circle class="c32" cx="666.1" cy="344.3" r="3.1"/>
<circle class="c31" cx="671.6" cy="342.9" r="3.1"/>
<circle class="c29" cx="699.9" cy="338" r="3.1"/>
<circle class="c28" cx="717.3" cy="335.4" r="3.1"/>
<circle class="c26" cx="744.6" cy="331.6" r="3.1"/>
<circle class="c30" cx="687.7" cy="339.8" r="3.1"/>
<circle class="c35" cx="633" cy="351.7" r="3.1"/>
<circle class="c37" cx="578.2" cy="357.7" r="3.1"/>
<circle class="c36" cx="587.6" cy="355.9" r="3.1"/>
<circle class="c37" cx="571.3" cy="358.2" r="3.1"/>
<circle class="c30" cx="679.2" cy="341.5" r="3.1"/>
<circle class="c35" cx="612.6" cy="353.9" r="3.1"/>
<circle class="c32" cx="662.1" cy="345.5" r="3.1"/>
<circle class="c36" cx="584.1" cy="355.7" r="3.1"/>
<circle class="c34" cx="639" cy="350.9" r="3.1"/>
<circle class="c33" cx="648.5" cy="349" r="3.1"/>
<circle class="c22" cx="588" cy="321" r="3.1"/>
<circle class="c32" cx="658.3" cy="346.6" r="3.1"/>
<circle class="c35" cx="631.4" cy="352" r="3.1"/>
<circle class="c37" cx="570.3" cy="358.4" r="3.1"/>
<circle class="c31" cx="673.1" cy="343" r="3.1"/>
<circle class="c29" cx="702.5" cy="338.2" r="3.1"/>
<circle class="c43" cx="508.3" cy="371.2" r="3.1"/>
<circle class="c31" cx="667.4" cy="344.3" r="3.1"/>
<circle class="c36" cx="606.2" cy="354.4" r="3.1"/>
<circle class="c34" cx="643.6" cy="350.1" r="3.1"/>
<circle class="c28" cx="720.6" cy="335.4" r="3.1"/>
<circle class="c30" cx="689.8" cy="340" r="3.1"/>
<circle class="c35" cx="614.3" cy="353.7" r="3.1"/>
<circle class="c36" cx="598.2" cy="354.2" r="3.1"/>
<circle class="c36" cx="588.8" cy="354.9" r="3.1"/>
<circle class="c26" cx="749.9" cy="331.6" r="3.1"/>
<circle class="c36" cx="585.1" cy="356.3" r="3.1"/>
<circle class="c39" cx="559.8" cy="361.9" r="3.1"/>
<circle class="c32" cx="436.5" cy="346.8" r="3.1"/>
<circle class="c36" cx="594.7" cy="355.3" r="3.1"/>
<circle class="c30" cx="680.9" cy="341.6" r="3.1"/>
<circle class="c35" cx="629.8" cy="352.3" r="3.1"/>
<circle class="c33" cx="652" cy="348.3" r="3.1"/>
<circle class="c37" cx="578.3" cy="357.6" r="3.1"/>
<circle class="c35" cx="616" cy="353.6" r="3.1"/>
<circle class="c32" cx="663.4" cy="345.6" r="3.1"/>
<circle class="c34" cx="637.3" cy="351.3" r="3.1"/>
<circle class="c37" cx="578.5" cy="357.4" r="3.1"/>
<circle class="c36" cx="597.9" cy="355.7" r="3.1"/>
<circle class="c35" cx="628.1" cy="352.5" r="3.1"/>
<circle class="c33" cx="655.7" cy="347.5" r="3.1"/>
<circle class="c37" cx="575.7" cy="357.1" r="3.1"/>
<circle class="c29" cx="705.2" cy="338.3" r="3.1"/>
<circle class="c32" cx="659.5" cy="346.6" r="3.1"/>
<circle class="c31" cx="674.7" cy="343.1" r="3.1"/>
<circle class="c35" cx="617.8" cy="353.5" r="3.1"/>
<circle class="c29" cx="692" cy="340.1" r="3.1"/>
<circle class="c31" cx="668.8" cy="344.4" r="3.1"/>
<circle class="c27" cx="724.1" cy="335.4" r="3.1"/>
<circle class="c37" cx="582.8" cy="357.1" r="3.1"/>
<circle class="c35" cx="608.1" cy="354.3" r="3.1"/>
<circle class="c35" cx="626.4" cy="352.7" r="3.1"/>
<circle class="c36" cx="591.1" cy="355.6" r="3.1"/>
<circle class="c42" cx="500.4" cy="371.4" r="3.1"/>
<circle class="c35" cx="619.5" cy="353.4" r="3.1"/>
<circle class="c26" cx="755.6" cy="331.7" r="3.1"/>
<circle class="c30" cx="682.8" cy="341.7" r="3.1"/>
<circle class="c33" cx="646.9" cy="349.6" r="3.1"/>
<circle class="c35" cx="624.7" cy="352.9" r="3.1"/>
<circle class="c42" cx="473" cy="370.2" r="3.1"/>
<circle class="c34" cx="642" cy="350.6" r="3.1"/>
<circle class="c35" cx="621.2" cy="353.3" r="3.1"/>
<circle class="c35" cx="623" cy="353.1" r="3.1"/>
<circle class="c34" cx="635.7" cy="351.7" r="3.1"/>
<circle class="c37" cx="567.8" cy="359.3" r="3.1"/>
<circle class="c32" cx="664.7" cy="345.6" r="3.1"/>
<circle class="c40" cx="553.5" cy="364.8" r="3.1"/>
<circle class="c29" cx="708" cy="338.4" r="3.1"/>
<circle class="c29" cx="694.3" cy="340.3" r="3.1"/>
<circle class="c42" cx="535.9" cy="371.1" r="3.1"/>
<circle class="c31" cx="676.3" cy="343.2" r="3.1"/>
<circle class="c35" cx="603" cy="354.6" r="3.1"/>
<circle class="c35" cx="609.9" cy="354.2" r="3.1"/>
<circle class="c32" cx="656.8" cy="347.6" r="3.1"/>
<circle class="c39" cx="556.4" cy="363.7" r="3.1"/>
<circle class="c32" cx="660.7" cy="346.7" r="3.1"/>
<circle class="c27" cx="727.7" cy="335.4" r="3.1"/>
<circle class="c31" cx="670.3" cy="344.5" r="3.1"/>
<circle class="c33" cx="650.4" cy="349.1" r="3.1"/>
<circle class="c30" cx="684.7" cy="341.8" r="3.1"/>
<circle class="c34" cx="633.9" cy="352" r="3.1"/>
<circle class="c37" cx="573.5" cy="357.9" r="3.1"/>
<circle class="c26" cx="761.9" cy="331.9" r="3.1"/>
<circle class="c40" cx="550.6" cy="366.6" r="3.1"/>
<circle class="c39" cx="439.3" cy="364.8" r="3.1"/>
<circle class="c13" cx="636.2" cy="301.3" r="3.1"/>
<circle class="c34" cx="640.3" cy="351.1" r="3.1"/>
<circle class="c14" cx="627.8" cy="303" r="3.1"/>
<circle class="c35" cx="611.8" cy="354.1" r="3.1"/>
<circle class="c31" cx="666" cy="345.7" r="3.1"/>
<circle class="c42" cx="495" cy="371.8" r="3.1"/>
<circle class="c33" cx="645.3" cy="350.2" r="3.1"/>
<circle class="c8" cx="639.2" cy="290.7" r="3.1"/>
<circle class="c28" cx="711" cy="338.6" r="3.1"/>
<circle class="c29" cx="696.7" cy="340.5" r="3.1"/>
<circle class="c33" cx="654.1" cy="348.4" r="3.1"/>
<circle class="c35" cx="593" cy="355.4" r="3.1"/>
<circle class="c30" cx="678" cy="343.3" r="3.1"/>
<circle class="c36" cx="579.9" cy="356.9" r="3.1"/>
<circle class="c11" cx="631.8" cy="298" r="3.1"/>
<circle class="c34" cx="632.2" cy="352.3" r="3.1"/>
<circle class="c14" cx="626.6" cy="303.4" r="3.1"/>
<circle class="c31" cx="671.8" cy="344.6" r="3.1"/>
<circle class="c27" cx="731.6" cy="335.5" r="3.1"/>
<circle class="c32" cx="661.9" cy="346.7" r="3.1"/>
<circle class="c35" cx="605" cy="354.6" r="3.1"/>
<circle class="c14" cx="622.8" cy="304.2" r="3.1"/>
<circle class="c32" cx="657.9" cy="347.7" r="3.1"/>
<circle class="c30" cx="686.7" cy="342" r="3.1"/>
<circle class="c14" cx="621.5" cy="304.1" r="3.1"/>
<circle class="c35" cx="613.6" cy="354" r="3.1"/>
<circle class="c10" cx="636.6" cy="294.2" r="3.1"/>
<circle class="c42" cx="535" cy="372.3" r="3.1"/>
<circle class="c37" cx="565.5" cy="360.5" r="3.1"/>
<circle class="c11" cx="629" cy="297.5" r="3.1"/>
<circle class="c35" cx="599.4" cy="354.9" r="3.1"/>
<circle class="c11" cx="630.5" cy="298.1" r="3.1"/>
<circle class="c26" cx="768.7" cy="332" r="3.1"/>
<circle class="c34" cx="630.4" cy="352.6" r="3.1"/>
<circle class="c37" cx="572.2" cy="358.2" r="3.1"/>
<circle class="c34" cx="638.6" cy="351.5" r="3.1"/>
<circle class="c36" cx="599.5" cy="356.2" r="3.1"/>
<circle class="c36" cx="585.4" cy="355.9" r="3.1"/>
<circle class="c29" cx="699.3" cy="340.8" r="3.1"/>
<circle class="c28" cx="714.1" cy="338.7" r="3.1"/>
<circle class="c31" cx="667.4" cy="345.8" r="3.1"/>
<circle class="c35" cx="615.5" cy="353.9" r="3.1"/>
<circle class="c30" cx="679.7" cy="343.4" r="3.1"/>
<circle class="c33" cx="648.7" cy="349.8" r="3.1"/>
<circle class="c35" cx="588.4" cy="356" r="3.1"/>
<circle class="c43" cx="518.8" cy="373.5" r="3.1"/>
<circle class="c15" cx="630.8" cy="307.4" r="3.1"/>
<circle class="c14" cx="619.1" cy="305.6" r="3.1"/>
<circle class="c34" cx="628.6" cy="352.8" r="3.1"/>
<circle class="c32" cx="655.1" cy="348.5" r="3.1"/>
<circle class="c31" cx="673.3" cy="344.7" r="3.1"/>
<circle class="c33" cx="643.5" cy="350.8" r="3.1"/>
<circle class="c30" cx="688.8" cy="342.3" r="3.1"/>
<circle class="c36" cx="584.5" cy="356.5" r="3.1"/>
<circle class="c35" cx="606.9" cy="354.5" r="3.1"/>
<circle class="c27" cx="735.7" cy="335.5" r="3.1"/>
<circle class="c35" cx="617.4" cy="353.8" r="3.1"/>
<circle class="c32" cx="663.1" cy="346.8" r="3.1"/>
<circle class="c32" cx="659.1" cy="347.7" r="3.1"/>
<circle class="c34" cx="626.8" cy="353.1" r="3.1"/>
<circle class="c15" cx="629" cy="308" r="3.1"/>
<circle class="c13" cx="619.8" cy="302.6" r="3.1"/>
<circle class="c11" cx="631" cy="297.1" r="3.1"/>
<circle class="c15" cx="621.9" cy="307.7" r="3.1"/>
<circle class="c34" cx="619.3" cy="353.7" r="3.1"/>
<circle class="c34" cx="624.9" cy="353.3" r="3.1"/>
<circle class="c34" cx="636.7" cy="351.9" r="3.1"/>
<circle class="c11" cx="625.7" cy="298.6" r="3.1"/>
<circle class="c16" cx="634.7" cy="310" r="3.1"/>
<circle class="c10" cx="646.3" cy="294.3" r="3.1"/>
<circle class="c43" cx="512.9" cy="373.4" r="3.1"/>
<circle class="c34" cx="621.2" cy="353.6" r="3.1"/>
<circle class="c34" cx="623" cy="353.4" r="3.1"/>
<circle class="c13" cx="625" cy="302.9" r="3.1"/>
<circle class="c35" cx="595.6" cy="355.3" r="3.1"/>
<circle class="c33" cx="652.4" cy="349.3" r="3.1"/>
<circle class="c10" cx="636" cy="294.2" r="3.1"/>
<circle class="c38" cx="439.2" cy="361.5" r="3.1"/>
<circle class="c29" cx="701.9" cy="341" r="3.1"/>
<circle class="c28" cx="717.3" cy="338.9" r="3.1"/>
<circle class="c30" cx="681.5" cy="343.6" r="3.1"/>
<circle class="c31" cx="668.8" cy="345.9" r="3.1"/>
<circle class="c35" cx="601.6" cy="354.9" r="3.1"/>
<circle class="c42" cx="462" cy="371.5" r="3.1"/>
<circle class="c35" cx="608.9" cy="354.4" r="3.1"/>
<circle class="c36" cx="578" cy="357.7" r="3.1"/>
<circle class="c31" cx="674.9" cy="344.8" r="3.1"/>
<circle class="c30" cx="691" cy="342.5" r="3.1"/>
<circle class="c12" cx="628.8" cy="300" r="3.1"/>
<circle class="c14" cx="628.6" cy="305.6" r="3.1"/>
<circle class="c32" cx="656.2" cy="348.6" r="3.1"/>
<circle class="c27" cx="740.1" cy="335.6" r="3.1"/>
<circle class="c31" cx="664.4" cy="347" r="3.1"/>
<circle class="c34" cx="634.9" cy="352.3" r="3.1"/>
<circle class="c33" cx="641.7" cy="351.3" r="3.1"/>
<circle class="c42" cx="480.5" cy="372.2" r="3.1"/>
<circle class="c35" cx="588" cy="356.2" r="3.1"/>
<circle class="c33" cx="646.9" cy="350.5" r="3.1"/>
<circle class="c9" cx="637.4" cy="292.2" r="3.1"/>
<circle class="c37" cx="571.5" cy="359.1" r="3.1"/>
<circle class="c32" cx="660.2" cy="347.9" r="3.1"/>
<circle class="c35" cx="587" cy="355.5" r="3.1"/>
<circle class="c10" cx="638.9" cy="296.6" r="3.1"/>
<circle class="c14" cx="619.9" cy="305.2" r="3.1"/>
<circle class="c16" cx="622.3" cy="309.3" r="3.1"/>
<circle class="c35" cx="597.5" cy="354.9" r="3.1"/>
<circle class="c11" cx="641.6" cy="297.5" r="3.1"/>
<circle class="c29" cx="704.7" cy="341.3" r="3.1"/>
<circle class="c34" cx="610.9" cy="354.4" r="3.1"/>
<circle class="c38" cx="559.3" cy="364.1" r="3.1"/>
<circle class="c30" cx="683.5" cy="343.9" r="3.1"/>
<circle class="c28" cx="720.7" cy="339" r="3.1"/>
<circle class="c32" cx="653.4" cy="349.4" r="3.1"/>
<circle class="c35" cx="591.9" cy="355.9" r="3.1"/>
<circle class="c31" cx="670.2" cy="346" r="3.1"/>
<circle class="c42" cx="491.4" cy="373.1" r="3.1"/>
<circle class="c12" cx="621.7" cy="301.5" r="3.1"/>
<circle class="c12" cx="638.5" cy="300.9" r="3.1"/>
<circle class="c12" cx="630.5" cy="301.2" r="3.1"/>
<circle class="c34" cx="633" cy="352.6" r="3.1"/>
<circle class="c9" cx="637.3" cy="293.7" r="3.1"/>
<circle class="c42" cx="507" cy="373.8" r="3.1"/>
<circle class="c35" cx="603.7" cy="354.8" r="3.1"/>
<circle class="c30" cx="693.4" cy="342.8" r="3.1"/>
<circle class="c30" cx="676.5" cy="345" r="3.1"/>
<circle class="c35" cx="590.7" cy="355.5" r="3.1"/>
<circle class="c13" cx="628.8" cy="303.3" r="3.1"/>
<circle class="c43" cx="525.7" cy="374.3" r="3.1"/>
<circle class="c32" cx="657.3" cy="348.8" r="3.1"/>
<circle class="c33" cx="650.6" cy="350.1" r="3.1"/>
<circle class="c33" cx="639.8" cy="351.8" r="3.1"/>
<circle class="c31" cx="665.7" cy="347.1" r="3.1"/>
<circle class="c34" cx="613" cy="354.3" r="3.1"/>
<circle class="c14" cx="636.4" cy="305.3" r="3.1"/>
<circle class="c26" cx="744.9" cy="335.7" r="3.1"/>
<circle class="c37" cx="568.1" cy="359.8" r="3.1"/>
<circle class="c32" cx="661.4" cy="348" r="3.1"/>
<circle class="c34" cx="631.1" cy="352.9" r="3.1"/>
<circle class="c36" cx="576.9" cy="358.2" r="3.1"/>
<circle class="c33" cx="645" cy="351.1" r="3.1"/>
<circle class="c13" cx="634.9" cy="302.9" r="3.1"/>
<circle class="c29" cx="707.6" cy="341.6" r="3.1"/>
<circle class="c13" cx="625.1" cy="303.3" r="3.1"/>
<circle class="c16" cx="623.3" cy="309.7" r="3.1"/>
<circle class="c30" cx="685.5" cy="344.1" r="3.1"/>
<circle class="c35" cx="586.3" cy="356.6" r="3.1"/>
<circle class="c13" cx="622.1" cy="302.6" r="3.1"/>
<circle class="c36" cx="439.1" cy="358.2" r="3.1"/>
<circle class="c34" cx="615" cy="354.2" r="3.1"/>
<circle class="c35" cx="582.3" cy="356.9" r="3.1"/>
<circle class="c35" cx="590.7" cy="355.5" r="3.1"/>
<circle class="c38" cx="560.2" cy="363.5" r="3.1"/>
<circle class="c13" cx="632.5" cy="303.5" r="3.1"/>
<circle class="c28" cx="724.2" cy="339.2" r="3.1"/>
<circle class="c31" cx="671.7" cy="346.2" r="3.1"/>
<circle class="c34" cx="629.1" cy="353.2" r="3.1"/>
<circle class="c9" cx="641.8" cy="293" r="3.1"/>
<circle class="c12" cx="635.4" cy="301.1" r="3.1"/>
<circle class="c29" cx="695.8" cy="343.1" r="3.1"/>
<circle class="c32" cx="654.4" cy="349.5" r="3.1"/>
<circle class="c34" cx="605.8" cy="354.7" r="3.1"/>
<circle class="c30" cx="678.3" cy="345.3" r="3.1"/>
<circle class="c12" cx="631" cy="300.1" r="3.1"/>
<circle class="c9" cx="635.8" cy="294.5" r="3.1"/>
<circle class="c10" cx="642.4" cy="297.7" r="3.1"/>
<circle class="c34" cx="617" cy="354.2" r="3.1"/>
<circle class="c34" cx="627.1" cy="353.4" r="3.1"/>
<circle class="c33" cx="637.9" cy="352.3" r="3.1"/>
<circle class="c39" cx="556.2" cy="366.3" r="3.1"/>
<circle class="c41" cx="541.1" cy="371.9" r="3.1"/>
<circle class="c36" cx="576.1" cy="358.4" r="3.1"/>
<circle class="c12" cx="622.2" cy="302.6" r="3.1"/>
<circle class="c31" cx="667.1" cy="347.3" r="3.1"/>
<circle class="c34" cx="619" cy="354.1" r="3.1"/>
<circle class="c32" cx="658.4" cy="348.9" r="3.1"/>
<circle class="c9" cx="643.3" cy="294.8" r="3.1"/>
<circle class="c34" cx="625.1" cy="353.6" r="3.1"/>
<circle class="c32" cx="651.5" cy="350.2" r="3.1"/>
<circle class="c34" cx="621.1" cy="354" r="3.1"/>
<circle class="c34" cx="623.1" cy="353.8" r="3.1"/>
<circle class="c31" cx="662.7" cy="348.2" r="3.1"/>
<circle class="c26" cx="750" cy="335.8" r="3.1"/>
<circle class="c11" cx="635.2" cy="299.1" r="3.1"/>
<circle class="c34" cx="600.1" cy="355.2" r="3.1"/>
<circle class="c14" cx="623" cy="306.8" r="3.1"/>
<circle class="c42" cx="477.1" cy="373.3" r="3.1"/>
<circle class="c15" cx="632.7" cy="309.1" r="3.1"/>
<circle class="c16" cx="628.4" cy="310.4" r="3.1"/>
<circle class="c13" cx="638.8" cy="303.4" r="3.1"/>
<circle class="c42" cx="453.2" cy="372.8" r="3.1"/>
<circle class="c35" cx="580.1" cy="357.6" r="3.1"/>
<circle class="c29" cx="710.6" cy="341.9" r="3.1"/>
<circle class="c35" cx="585.6" cy="356.4" r="3.1"/>
<circle class="c30" cx="687.6" cy="344.5" r="3.1"/>
<circle class="c32" cx="648.6" cy="350.8" r="3.1"/>
<circle class="c34" cx="608" cy="354.7" r="3.1"/>
<circle class="c33" cx="643.1" cy="351.7" r="3.1"/>
<circle class="c36" cx="574.4" cy="358.6" r="3.1"/>
<circle class="c31" cx="673.3" cy="346.4" r="3.1"/>
<circle class="c15" cx="604.7" cy="308.5" r="3.1"/>
<circle class="c28" cx="727.9" cy="339.3" r="3.1"/>
<circle class="c12" cx="628.7" cy="302.2" r="3.1"/>
<circle class="c29" cx="698.4" cy="343.5" r="3.1"/>
<circle class="c33" cx="635.9" cy="352.7" r="3.1"/>
<circle class="c30" cx="680.1" cy="345.5" r="3.1"/>
<circle class="c14" cx="620.7" cy="306.4" r="3.1"/>
<circle class="c32" cx="655.4" cy="349.7" r="3.1"/>
<circle class="c11" cx="630.5" cy="299.7" r="3.1"/>
<circle class="c31" cx="668.5" cy="347.5" r="3.1"/>
<circle class="c34" cx="595.9" cy="355.4" r="3.1"/>
<circle class="c32" cx="659.6" cy="349.1" r="3.1"/>
<circle class="c14" cx="616.5" cy="307.3" r="3.1"/>
<circle class="c11" cx="627" cy="299" r="3.1"/>
<circle class="c42" cx="499.9" cy="374.5" r="3.1"/>
<circle class="c12" cx="632.1" cy="302.8" r="3.1"/>
<circle class="c14" cx="608.5" cy="306.2" r="3.1"/>
<circle class="c34" cx="610.1" cy="354.7" r="3.1"/>
<circle class="c31" cx="663.9" cy="348.4" r="3.1"/>
<circle class="c36" cx="574.7" cy="359" r="3.1"/>
<circle class="c32" cx="652.5" cy="350.4" r="3.1"/>
<circle class="c33" cx="633.8" cy="353" r="3.1"/>
<circle class="c35" cx="592.8" cy="356.4" r="3.1"/>
<circle class="c34" cx="602.4" cy="355.1" r="3.1"/>
<circle class="c30" cx="689.8" cy="344.8" r="3.1"/>
<circle class="c29" cx="713.8" cy="342.2" r="3.1"/>
<circle class="c26" cx="755.6" cy="336" r="3.1"/>
<circle class="c34" cx="438.9" cy="354.9" r="3.1"/>
<circle class="c14" cx="637.8" cy="306.4" r="3.1"/>
<circle class="c40" cx="552.7" cy="368.7" r="3.1"/>
<circle class="c31" cx="674.9" cy="346.7" r="3.1"/>
<circle class="c33" cx="641.1" cy="352.2" r="3.1"/>
<circle class="c29" cx="701.1" cy="343.9" r="3.1"/>
<circle class="c32" cx="649.5" cy="351" r="3.1"/>
<circle class="c15" cx="629.8" cy="310.2" r="3.1"/>
<circle class="c30" cx="681.9" cy="345.8" r="3.1"/>
<circle class="c27" cx="731.8" cy="339.4" r="3.1"/>
<circle class="c42" cx="537.8" cy="373.9" r="3.1"/>
<circle class="c32" cx="646.6" cy="351.5" r="3.1"/>
<circle class="c34" cx="612.3" cy="354.7" r="3.1"/>
<circle class="c11" cx="627.2" cy="299.3" r="3.1"/>
<circle class="c33" cx="631.7" cy="353.4" r="3.1"/>
<circle class="c34" cx="592.9" cy="356.2" r="3.1"/>
<circle class="c32" cx="656.5" cy="349.9" r="3.1"/>
<circle class="c37" cx="564.4" cy="362.3" r="3.1"/>
<circle class="c37" cx="562" cy="363.2" r="3.1"/>
<circle class="c7" cx="601.9" cy="290.9" r="3.1"/>
<circle class="c8" cx="633.8" cy="292.8" r="3.1"/>
<circle class="c34" cx="588.6" cy="355.8" r="3.1"/>
<circle class="c7" cx="591.9" cy="291.5" r="3.1"/>
<circle class="c10" cx="610.3" cy="298" r="3.1"/>
<circle class="c7" cx="597.6" cy="289.7" r="3.1"/>
<circle class="c34" cx="588" cy="356.5" r="3.1"/>
<circle class="c31" cx="670" cy="347.7" r="3.1"/>
<circle class="c9" cx="609.8" cy="296.4" r="3.1"/>
<circle class="c14" cx="617.7" cy="307.3" r="3.1"/>
<circle class="c12" cx="614.5" cy="302.5" r="3.1"/>
<circle class="c8" cx="623.2" cy="293.6" r="3.1"/>
<circle class="c9" cx="603.7" cy="295.4" r="3.1"/>
<circle class="c42" cx="513.9" cy="375.7" r="3.1"/>
<circle class="c31" cx="660.8" cy="349.3" r="3.1"/>
<circle class="c34" cx="614.4" cy="354.6" r="3.1"/>
<circle class="c8" cx="603.9" cy="292.9" r="3.1"/>
<circle class="c31" cx="665.2" cy="348.6" r="3.1"/>
<circle class="c33" cx="629.6" cy="353.6" r="3.1"/>
<circle class="c42" cx="536.1" cy="374.8" r="3.1"/>
<circle class="c34" cx="604.7" cy="355.1" r="3.1"/>
<circle class="c40" cx="547.1" cy="370.8" r="3.1"/>
<circle class="c8" cx="609.4" cy="293.2" r="3.1"/>
<circle class="c43" cx="521.3" cy="376.2" r="3.1"/>
<circle class="c30" cx="692.1" cy="345.2" r="3.1"/>
<circle class="c7" cx="600.1" cy="290.9" r="3.1"/>
<circle class="c10" cx="599.9" cy="297.2" r="3.1"/>
<circle class="c29" cx="717.1" cy="342.5" r="3.1"/>
<circle class="c32" cx="653.4" cy="350.6" r="3.1"/>
<circle class="c33" cx="639" cy="352.7" r="3.1"/>
<circle class="c35" cx="583.9" cy="357.2" r="3.1"/>
<circle class="c10" cx="605.4" cy="297.9" r="3.1"/>
<circle class="c12" cx="619.1" cy="303.9" r="3.1"/>
<circle class="c30" cx="676.6" cy="347" r="3.1"/>
<circle class="c2" cx="616.8" cy="278" r="3.1"/>
<circle class="c11" cx="622.3" cy="301.1" r="3.1"/>
<circle class="c10" cx="627.2" cy="298.3" r="3.1"/>
<circle class="c8" cx="595.2" cy="293.7" r="3.1"/>
<circle class="c34" cx="616.6" cy="354.6" r="3.1"/>
<circle class="c33" cx="627.5" cy="353.9" r="3.1"/>
<circle class="c29" cx="703.9" cy="344.3" r="3.1"/>
<circle class="c26" cx="761.7" cy="336.2" r="3.1"/>
<circle class="c30" cx="683.9" cy="346.2" r="3.1"/>
<circle class="c10" cx="618.6" cy="297.8" r="3.1"/>
<circle class="c6" cx="614.1" cy="287.8" r="3.1"/>
<circle class="c13" cx="610.2" cy="306.4" r="3.1"/>
<circle class="c9" cx="613.3" cy="296.6" r="3.1"/>
<circle class="c32" cx="650.4" cy="351.2" r="3.1"/>
<circle class="c8" cx="610.6" cy="292.3" r="3.1"/>
<circle class="c10" cx="628" cy="299.1" r="3.1"/>
<circle class="c34" cx="598.6" cy="355.5" r="3.1"/>
<circle class="c33" cx="618.8" cy="354.5" r="3.1"/>
<circle class="c27" cx="735.9" cy="339.6" r="3.1"/>
<circle class="c33" cx="625.3" cy="354.1" r="3.1"/>
<circle class="c9" cx="613" cy="294.7" r="3.1"/>
<circle class="c13" cx="607" cy="304.9" r="3.1"/>
<circle class="c3" cx="615.5" cy="282.5" r="3.1"/>
<circle class="c11" cx="618.9" cy="299.7" r="3.1"/>
<circle class="c33" cx="621" cy="354.4" r="3.1"/>
<circle class="c33" cx="623.2" cy="354.3" r="3.1"/>
<circle class="c14" cx="611.1" cy="306.9" r="3.1"/>
<circle class="c35" cx="576.5" cy="358.4" r="3.1"/>
<circle class="c32" cx="644.5" cy="352.1" r="3.1"/>
<circle class="c32" cx="647.4" cy="351.7" r="3.1"/>
<circle class="c10" cx="614.2" cy="298.3" r="3.1"/>
<circle class="c32" cx="657.6" cy="350.1" r="3.1"/>
<circle class="c10" cx="616.6" cy="299" r="3.1"/>
<circle class="c8" cx="631.3" cy="294.5" r="3.1"/>
<circle class="c11" cx="620.2" cy="300" r="3.1"/>
<circle class="c42" cx="533.7" cy="375.6" r="3.1"/>
<circle class="c31" cx="671.5" cy="348" r="3.1"/>
<circle class="c14" cx="604.6" cy="307.9" r="3.1"/>
<circle class="c8" cx="618.4" cy="293" r="3.1"/>
<circle class="c11" cx="621.5" cy="300" r="3.1"/>
<circle class="c7" cx="611.9" cy="291.8" r="3.1"/>
<circle class="c34" cx="606.9" cy="355.1" r="3.1"/>
<circle class="c9" cx="610.7" cy="296.6" r="3.1"/>
<circle class="c43" cx="520" cy="376.5" r="3.1"/>
<circle class="c7" cx="616.4" cy="291.6" r="3.1"/>
<circle class="c9" cx="599.8" cy="295.1" r="3.1"/>
<circle class="c9" cx="608.6" cy="295" r="3.1"/>
<circle class="c34" cx="594.7" cy="356.1" r="3.1"/>
<circle class="c33" cx="636.9" cy="353.1" r="3.1"/>
<circle class="c32" cx="438.8" cy="351.7" r="3.1"/>
<circle class="c8" cx="598.3" cy="294.7" r="3.1"/>
<circle class="c8" cx="623.1" cy="292.7" r="3.1"/>
<circle class="c11" cx="615.6" cy="300.1" r="3.1"/>
<circle class="c9" cx="622.5" cy="295.5" r="3.1"/>
<circle class="c31" cx="662" cy="349.6" r="3.1"/>
<circle class="c0" cx="621.7" cy="274.5" r="3.1"/>
<circle class="c10" cx="610.1" cy="298.1" r="3.1"/>
<circle class="c36" cx="570.6" cy="360.4" r="3.1"/>
<circle class="c31" cx="666.6" cy="348.8" r="3.1"/>
<circle class="c4" cx="614.1" cy="283" r="3.1"/>
<circle class="c30" cx="694.6" cy="345.7" r="3.1"/>
<circle class="c9" cx="626.2" cy="296.7" r="3.1"/>
<circle class="c7" cx="598.8" cy="292.2" r="3.1"/>
<circle class="c35" cx="577" cy="358.9" r="3.1"/>
<circle class="c34" cx="587.7" cy="357" r="3.1"/>
<circle class="c10" cx="622.5" cy="298.5" r="3.1"/>
<circle class="c34" cx="591.6" cy="356.7" r="3.1"/>
<circle class="c28" cx="720.5" cy="342.8" r="3.1"/>
<circle class="c13" cx="609.7" cy="305.4" r="3.1"/>
<circle class="c30" cx="678.3" cy="347.3" r="3.1"/>
<circle class="c4" cx="620.9" cy="283.1" r="3.1"/>
<circle class="c32" cx="654.4" cy="350.8" r="3.1"/>
<circle class="c8" cx="625.4" cy="294.7" r="3.1"/>
<circle class="c3" cx="621.8" cy="281" r="3.1"/>
<circle class="c10" cx="616.5" cy="299.4" r="3.1"/>
<circle class="c11" cx="609.7" cy="300.1" r="3.1"/>
<circle class="c13" cx="617.2" cy="305" r="3.1"/>
<circle class="c30" cx="686" cy="346.6" r="3.1"/>
<circle class="c29" cx="706.9" cy="344.8" r="3.1"/>
<circle class="c9" cx="623.1" cy="296.2" r="3.1"/>
<circle class="c34" cx="594.7" cy="355.9" r="3.1"/>
<circle class="c14" cx="604.2" cy="308.6" r="3.1"/>
<circle class="c9" cx="600.5" cy="297" r="3.1"/>
<circle class="c8" cx="623.5" cy="294.3" r="3.1"/>
<circle class="c33" cx="609.2" cy="355.1" r="3.1"/>
<circle class="c7" cx="603.3" cy="292.6" r="3.1"/>
<circle class="c33" cx="634.7" cy="353.5" r="3.1"/>
<circle class="c4" cx="621.9" cy="283.6" r="3.1"/>
<circle class="c34" cx="601" cy="355.5" r="3.1"/>
<circle class="c13" cx="611.4" cy="305.8" r="3.1"/>
<circle class="c32" cx="651.3" cy="351.4" r="3.1"/>
<circle class="c1" cx="620.3" cy="277.8" r="3.1"/>
<circle class="c26" cx="768.3" cy="336.5" r="3.1"/>
<circle class="c3" cx="613.1" cy="281.4" r="3.1"/>
<circle class="c27" cx="740.3" cy="339.8" r="3.1"/>
<circle class="c32" cx="642.4" cy="352.6" r="3.1"/>
<circle class="c38" cx="557.8" cy="365.7" r="3.1"/>
<circle class="c34" cx="597.8" cy="355.8" r="3.1"/>
<circle class="c31" cx="658.7" cy="350.4" r="3.1"/>
<circle class="c31" cx="673" cy="348.3" r="3.1"/>
<circle class="c2" cx="625.3" cy="278.9" r="3.1"/>
<circle class="c32" cx="648.3" cy="351.9" r="3.1"/>
<circle class="c2" cx="617.4" cy="280" r="3.1"/>
<circle class="c32" cx="645.3" cy="352.3" r="3.1"/>
<circle class="c1" cx="624.4" cy="278.4" r="3.1"/>
<circle class="c8" cx="605.4" cy="293.9" r="3.1"/>
<circle class="c2" cx="611.4" cy="280.1" r="3.1"/>
<circle class="c42" cx="473" cy="375.4" r="3.1"/>
<circle class="c12" cx="596.1" cy="303.1" r="3.1"/>
<circle class="c8" cx="594.7" cy="293.8" r="3.1"/>
<circle class="c35" cx="575.6" cy="359.3" r="3.1"/>
<circle class="c34" cx="590.7" cy="356.4" r="3.1"/>
<circle class="c31" cx="663.2" cy="349.8" r="3.1"/>
<circle class="c31" cx="668" cy="349.1" r="3.1"/>
<circle class="c5" cx="612.6" cy="286.8" r="3.1"/>
<circle class="c30" cx="697.2" cy="346.2" r="3.1"/>
<circle class="c4" cx="611.2" cy="285.3" r="3.1"/>
<circle class="c33" cx="611.6" cy="355.1" r="3.1"/>
<circle class="c9" cx="632.6" cy="296.1" r="3.1"/>
<circle class="c33" cx="632.4" cy="353.9" r="3.1"/>
<circle class="c12" cx="587.9" cy="303.1" r="3.1"/>
<circle class="c9" cx="612.3" cy="295.7" r="3.1"/>
<circle class="c8" cx="620.3" cy="294.7" r="3.1"/>
<circle class="c14" cx="611.2" cy="308.4" r="3.1"/>
<circle class="c30" cx="680.2" cy="347.7" r="3.1"/>
<circle class="c7" cx="595.5" cy="290.8" r="3.1"/>
<circle class="c7" cx="624.6" cy="292.5" r="3.1"/>
<circle class="c5" cx="621.8" cy="287.5" r="3.1"/>
<circle class="c7" cx="613.3" cy="291.4" r="3.1"/>
<circle class="c4" cx="613.4" cy="283.7" r="3.1"/>
<circle class="c28" cx="724.1" cy="343.1" r="3.1"/>
<circle class="c36" cx="567" cy="362.2" r="3.1"/>
<circle class="c7" cx="625.1" cy="291.9" r="3.1"/>
<circle class="c30" cx="688.2" cy="347.1" r="3.1"/>
<circle class="c41" cx="542.3" cy="373.5" r="3.1"/>
<circle class="c32" cx="655.5" cy="351.1" r="3.1"/>
<circle class="c39" cx="556.1" cy="367.7" r="3.1"/>
<circle class="c10" cx="617.4" cy="298.8" r="3.1"/>
<circle class="c34" cx="590.3" cy="357" r="3.1"/>
<circle class="c29" cx="710" cy="345.3" r="3.1"/>
<circle class="c7" cx="597.3" cy="293.2" r="3.1"/>
<circle class="c2" cx="614.3" cy="280.4" r="3.1"/>
<circle class="c5" cx="621.5" cy="288.1" r="3.1"/>
<circle class="c6" cx="629.9" cy="290.7" r="3.1"/>
<circle class="c8" cx="634.8" cy="295.5" r="3.1"/>
<circle class="c2" cx="617.6" cy="279" r="3.1"/>
<circle class="c10" cx="613.8" cy="300.5" r="3.1"/>
<circle class="c10" cx="599.9" cy="300.4" r="3.1"/>
<circle class="c8" cx="608.9" cy="295" r="3.1"/>
<circle class="c39" cx="442.4" cy="369.5" r="3.1"/>
<circle class="c10" cx="614.8" cy="298.3" r="3.1"/>
<circle class="c33" cx="603.5" cy="355.5" r="3.1"/>
<circle class="c33" cx="613.9" cy="355.1" r="3.1"/>
<circle class="c9" cx="615.9" cy="297.8" r="3.1"/>
<circle class="c33" cx="630.2" cy="354.2" r="3.1"/>
<circle class="c12" cx="614.7" cy="303.2" r="3.1"/>
<circle class="c12" cx="598.8" cy="304.8" r="3.1"/>
<circle class="c32" cx="640.2" cy="353.2" r="3.1"/>
<circle class="c35" cx="581" cy="358.5" r="3.1"/>
<circle class="c7" cx="626.9" cy="292.4" r="3.1"/>
<circle class="c8" cx="601.6" cy="295.5" r="3.1"/>
<circle class="c7" cx="604.1" cy="292" r="3.1"/>
<circle class="c6" cx="602.7" cy="289.7" r="3.1"/>
<circle class="c3" cx="627.2" cy="282.6" r="3.1"/>
<circle class="c42" cx="529.7" cy="377" r="3.1"/>
<circle class="c13" cx="613.4" cy="305.6" r="3.1"/>
<circle class="c32" cx="652.3" cy="351.7" r="3.1"/>
<circle class="c30" cx="674.7" cy="348.6" r="3.1"/>
<circle class="c7" cx="621.6" cy="292.2" r="3.1"/>
<circle class="c9" cx="630.9" cy="297.3" r="3.1"/>
<circle class="c8" cx="635.6" cy="294.5" r="3.1"/>
<circle class="c33" cx="600.3" cy="355.8" r="3.1"/>
<circle class="c31" cx="659.9" cy="350.7" r="3.1"/>
<circle class="c8" cx="607.8" cy="294.7" r="3.1"/>
<circle class="c32" cx="643.1" cy="352.9" r="3.1"/>
<circle class="c9" cx="611.4" cy="297.2" r="3.1"/>
<circle class="c27" cx="744.9" cy="339.9" r="3.1"/>
<circle class="c33" cx="616.2" cy="355.1" r="3.1"/>
<circle class="c34" cx="593.2" cy="356.4" r="3.1"/>
<circle class="c33" cx="627.9" cy="354.5" r="3.1"/>
<circle class="c7" cx="629" cy="293.5" r="3.1"/>
<circle class="c42" cx="463.5" cy="375.9" r="3.1"/>
<circle class="c34" cx="597" cy="356.1" r="3.1"/>
<circle class="c8" cx="600.1" cy="295.2" r="3.1"/>
<circle class="c32" cx="649.1" cy="352.2" r="3.1"/>
<circle class="c6" cx="609" cy="290" r="3.1"/>
<circle class="c32" cx="646.1" cy="352.6" r="3.1"/>
<circle class="c4" cx="618.2" cy="285.3" r="3.1"/>
<circle class="c8" cx="634.8" cy="295.7" r="3.1"/>
<circle class="c9" cx="606.1" cy="297.8" r="3.1"/>
<circle class="c11" cx="606.4" cy="302" r="3.1"/>
<circle class="c6" cx="634.2" cy="288.9" r="3.1"/>
<circle class="c11" cx="600.2" cy="301.7" r="3.1"/>
<circle class="c12" cx="623.1" cy="303.5" r="3.1"/>
<circle class="c4" cx="623.9" cy="284.9" r="3.1"/>
<circle class="c14" cx="608.4" cy="308.7" r="3.1"/>
<circle class="c9" cx="611.4" cy="296.3" r="3.1"/>
<circle class="c31" cx="669.5" cy="349.4" r="3.1"/>
<circle class="c34" cx="593.7" cy="356.2" r="3.1"/>
<circle class="c31" cx="664.5" cy="350.1" r="3.1"/>
<circle class="c41" cx="539.2" cy="375" r="3.1"/>
<circle class="c33" cx="618.6" cy="355.1" r="3.1"/>
<circle class="c30" cx="700" cy="346.8" r="3.1"/>
<circle class="c33" cx="625.6" cy="354.7" r="3.1"/>
<circle class="c4" cx="637.5" cy="286.5" r="3.1"/>
<circle class="c36" cx="565.9" cy="362" r="3.1"/>
<circle class="c35" cx="573.3" cy="360.1" r="3.1"/>
<circle class="c12" cx="621.3" cy="305.1" r="3.1"/>
<circle class="c33" cx="620.9" cy="355" r="3.1"/>
<circle class="c33" cx="623.3" cy="354.9" r="3.1"/>
<circle class="c5" cx="627.9" cy="288.5" r="3.1"/>
<circle class="c1" cx="618.7" cy="278.2" r="3.1"/>
<circle class="c7" cx="623.5" cy="293.8" r="3.1"/>
<circle class="c35" cx="573.9" cy="360" r="3.1"/>
<circle class="c42" cx="510.7" cy="377.4" r="3.1"/>
<circle class="c30" cx="682.1" cy="348.2" r="3.1"/>
<circle class="c1" cx="620.3" cy="277" r="3.1"/>
<circle class="c35" cx="580.7" cy="358.7" r="3.1"/>
<circle class="c9" cx="595.4" cy="298.6" r="3.1"/>
<circle class="c33" cx="605.9" cy="355.6" r="3.1"/>
<circle class="c30" cx="690.6" cy="347.6" r="3.1"/>
<circle class="c5" cx="632.9" cy="287.9" r="3.1"/>
<circle class="c32" cx="637.9" cy="353.6" r="3.1"/>
<circle class="c12" cx="596.3" cy="305.3" r="3.1"/>
<circle class="c34" cx="583.7" cy="357.8" r="3.1"/>
<circle class="c13" cx="607.5" cy="307" r="3.1"/>
<circle class="c31" cx="656.5" cy="351.4" r="3.1"/>
<circle class="c28" cx="727.9" cy="343.3" r="3.1"/>
<circle class="c3" cx="618.4" cy="282.6" r="3.1"/>
<circle class="c29" cx="713.3" cy="345.8" r="3.1"/>
<circle class="c34" cx="588.6" cy="357.1" r="3.1"/>
<circle class="c4" cx="618" cy="284.5" r="3.1"/>
<circle class="c9" cx="597.7" cy="297.2" r="3.1"/>
<circle class="c42" cx="488.3" cy="376.8" r="3.1"/>
<circle class="c11" cx="622" cy="301.4" r="3.1"/>
<circle class="c7" cx="621.8" cy="292.6" r="3.1"/>
<circle class="c5" cx="629.2" cy="287.8" r="3.1"/>
<circle class="c7" cx="627.6" cy="293.2" r="3.1"/>
<circle class="c14" cx="606.8" cy="308.8" r="3.1"/>
<circle class="c2" cx="617.7" cy="281.2" r="3.1"/>
<circle class="c33" cx="602.8" cy="355.8" r="3.1"/>
<circle class="c32" cx="640.8" cy="353.5" r="3.1"/>
<circle class="c9" cx="592" cy="298.5" r="3.1"/>
<circle class="c13" cx="618.6" cy="308.1" r="3.1"/>
<circle class="c13" cx="613.4" cy="308.5" r="3.1"/>
<circle class="c30" cx="676.4" cy="349.1" r="3.1"/>
<circle class="c32" cx="653.2" cy="352" r="3.1"/>
<circle class="c11" cx="596.1" cy="303.7" r="3.1"/>
<circle class="c31" cx="661.1" cy="351" r="3.1"/>
<circle class="c4" cx="613.1" cy="286.2" r="3.1"/>
<circle class="c11" cx="616.4" cy="303" r="3.1"/>
<circle class="c34" cx="584.4" cy="358" r="3.1"/>
<circle class="c33" cx="599.6" cy="356.1" r="3.1"/>
<circle class="c32" cx="643.7" cy="353.2" r="3.1"/>
<circle class="c33" cx="608.3" cy="355.7" r="3.1"/>
<circle class="c32" cx="635.5" cy="354.1" r="3.1"/>
<circle class="c32" cx="650" cy="352.5" r="3.1"/>
<circle class="c27" cx="750" cy="340.2" r="3.1"/>
<circle class="c31" cx="671" cy="349.8" r="3.1"/>
<circle class="c2" cx="623.6" cy="280.4" r="3.1"/>
<circle class="c32" cx="646.8" cy="352.9" r="3.1"/>
<circle class="c3" cx="618.8" cy="283.9" r="3.1"/>
<circle class="c31" cx="665.9" cy="350.5" r="3.1"/>
<circle class="c33" cx="596.2" cy="356.4" r="3.1"/>
<circle class="c11" cx="600.3" cy="302.9" r="3.1"/>
<circle class="c30" cx="702.9" cy="347.5" r="3.1"/>
<circle class="c10" cx="603.1" cy="300" r="3.1"/>
<circle class="c33" cx="592.9" cy="356.6" r="3.1"/>
<circle class="c11" cx="602.4" cy="304" r="3.1"/>
<circle class="c11" cx="608.6" cy="303.8" r="3.1"/>
<circle class="c4" cx="632.6" cy="286.1" r="3.1"/>
<circle class="c37" cx="442.2" cy="366.2" r="3.1"/>
<circle class="c30" cx="684.2" cy="348.7" r="3.1"/>
<circle class="c6" cx="634.5" cy="292.1" r="3.1"/>
<circle class="c9" cx="600.8" cy="297.5" r="3.1"/>
<circle class="c30" cx="693.1" cy="348.3" r="3.1"/>
<circle class="c42" cx="482.7" cy="377.2" r="3.1"/>
<circle class="c9" cx="592.2" cy="298.2" r="3.1"/>
<circle class="c11" cx="588.5" cy="301.8" r="3.1"/>
<circle class="c3" cx="620.2" cy="284.9" r="3.1"/>
<circle class="c31" cx="657.6" cy="351.7" r="3.1"/>
<circle class="c10" cx="621.9" cy="300.8" r="3.1"/>
<circle class="c32" cx="638.4" cy="354" r="3.1"/>
<circle class="c33" cx="605.4" cy="355.9" r="3.1"/>
<circle class="c29" cx="716.7" cy="346.2" r="3.1"/>
<circle class="c32" cx="633.2" cy="354.5" r="3.1"/>
<circle class="c28" cx="731.8" cy="343.6" r="3.1"/>
<circle class="c33" cx="610.8" cy="355.7" r="3.1"/>
<circle class="c7" cx="634.1" cy="292.6" r="3.1"/>
<circle class="c4" cx="626.7" cy="286.9" r="3.1"/>
<circle class="c11" cx="619.2" cy="301.9" r="3.1"/>
<circle class="c2" cx="618.1" cy="282.6" r="3.1"/>
<circle class="c6" cx="632.2" cy="291.8" r="3.1"/>
<circle class="c42" cx="450.2" cy="376.9" r="3.1"/>
<circle class="c40" cx="548.3" cy="372.7" r="3.1"/>
<circle class="c30" cx="678.2" cy="349.5" r="3.1"/>
<circle class="c3" cx="590.6" cy="283.6" r="3.1"/>
<circle class="c1" cx="614" cy="278.2" r="3.1"/>
<circle class="c6" cx="634" cy="291.2" r="3.1"/>
<circle class="c31" cx="654.2" cy="352.3" r="3.1"/>
<circle class="c32" cx="641.4" cy="353.8" r="3.1"/>
<circle class="c11" cx="598.5" cy="302.8" r="3.1"/>
<circle class="c9" cx="592.3" cy="297.9" r="3.1"/>
<circle class="c31" cx="662.3" cy="351.4" r="3.1"/>
<circle class="c33" cx="602.2" cy="356.1" r="3.1"/>
<circle class="c37" cx="562.1" cy="365.1" r="3.1"/>
<circle class="c2" cx="613.6" cy="282.6" r="3.1"/>
<circle class="c2" cx="604.4" cy="281.9" r="3.1"/>
<circle class="c32" cx="630.8" cy="354.9" r="3.1"/>
<circle class="c33" cx="613.3" cy="355.8" r="3.1"/>
<circle class="c2" cx="616.7" cy="282" r="3.1"/>
<circle class="c3" cx="628.8" cy="284.2" r="3.1"/>
<circle class="c2" cx="600.8" cy="282.9" r="3.1"/>
<circle class="c7" cx="635" cy="292.6" r="3.1"/>
<circle class="c34" cx="588.2" cy="357.8" r="3.1"/>
<circle class="c42" cx="523.5" cy="378.7" r="3.1"/>
<circle class="c4" cx="602.9" cy="285.5" r="3.1"/>
<circle class="c4" cx="599.2" cy="286.2" r="3.1"/>
<circle class="c30" cx="672.6" cy="350.2" r="3.1"/>
<circle class="c1" cx="625.4" cy="278.9" r="3.1"/>
<circle class="c1" cx="625.2" cy="278.3" r="3.1"/>
<circle class="c31" cx="667.3" cy="350.9" r="3.1"/>
<circle class="c32" cx="644.5" cy="353.5" r="3.1"/>
<circle class="c32" cx="650.9" cy="352.8" r="3.1"/>
<circle class="c3" cx="598.4" cy="283.8" r="3.1"/>
<circle class="c33" cx="598.9" cy="356.4" r="3.1"/>
<circle class="c3" cx="617.3" cy="283.7" r="3.1"/>
<circle class="c32" cx="636" cy="354.4" r="3.1"/>
<circle class="c34" cx="587.8" cy="358" r="3.1"/>
<circle class="c30" cx="706" cy="348.1" r="3.1"/>
<circle class="c33" cx="607.9" cy="356" r="3.1"/>
<circle class="c32" cx="647.6" cy="353.2" r="3.1"/>
<circle class="c35" cx="577.7" cy="360" r="3.1"/>
<circle class="c2" cx="610.8" cy="282.2" r="3.1"/>
<circle class="c9" cx="600.5" cy="299.6" r="3.1"/>
<circle class="c30" cx="686.4" cy="349.3" r="3.1"/>
<circle class="c33" cx="595.3" cy="356.8" r="3.1"/>
<circle class="c6" cx="629.1" cy="290.8" r="3.1"/>
<circle class="c3" cx="615.9" cy="285.2" r="3.1"/>
<circle class="c32" cx="628.3" cy="355.2" r="3.1"/>
<circle class="c33" cx="615.8" cy="355.8" r="3.1"/>
<circle class="c26" cx="755.4" cy="340.4" r="3.1"/>
<circle class="c6" cx="633.5" cy="292.1" r="3.1"/>
<circle class="c3" cx="591.4" cy="283.9" r="3.1"/>
<circle class="c3" cx="631.4" cy="284.5" r="3.1"/>
<circle class="c30" cx="695.7" cy="349" r="3.1"/>
<circle class="c4" cx="639.3" cy="287" r="3.1"/>
<circle class="c11" cx="597.5" cy="304.8" r="3.1"/>
<circle class="c6" cx="634.3" cy="292.4" r="3.1"/>
<circle class="c33" cx="625.8" cy="355.4" r="3.1"/>
<circle class="c31" cx="658.8" cy="352.1" r="3.1"/>
<circle class="c33" cx="618.3" cy="355.8" r="3.1"/>
<circle class="c4" cx="603.2" cy="286.2" r="3.1"/>
<circle class="c9" cx="598.1" cy="298.6" r="3.1"/>
<circle class="c4" cx="603.3" cy="286.6" r="3.1"/>
<circle class="c9" cx="596.8" cy="298.3" r="3.1"/>
<circle class="c33" cx="623.3" cy="355.6" r="3.1"/>
<circle class="c33" cx="620.8" cy="355.8" r="3.1"/>
<circle class="c5" cx="637.7" cy="289.8" r="3.1"/>
<circle class="c10" cx="602.7" cy="302" r="3.1"/>
<circle class="c29" cx="720.2" cy="346.7" r="3.1"/>
<circle class="c32" cx="638.9" cy="354.3" r="3.1"/>
<circle class="c33" cx="604.8" cy="356.2" r="3.1"/>
<circle class="c34" cx="582.4" cy="359.2" r="3.1"/>
<circle class="c28" cx="735.9" cy="343.9" r="3.1"/>
<circle class="c3" cx="601.8" cy="285" r="3.1"/>
<circle class="c32" cx="633.5" cy="354.9" r="3.1"/>
<circle class="c9" cx="598.6" cy="299.8" r="3.1"/>
<circle class="c33" cx="610.4" cy="356.1" r="3.1"/>
<circle class="c4" cx="631.6" cy="286.8" r="3.1"/>
<circle class="c1" cx="610.6" cy="279.6" r="3.1"/>
<circle class="c3" cx="609.6" cy="284.5" r="3.1"/>
<circle class="c4" cx="638.1" cy="286" r="3.1"/>
<circle class="c30" cx="680.1" cy="350" r="3.1"/>
<circle class="c36" cx="442.1" cy="362.9" r="3.1"/>
<circle class="c3" cx="608.6" cy="284.4" r="3.1"/>
<circle class="c2" cx="603.2" cy="281.2" r="3.1"/>
<circle class="c8" cx="596.6" cy="296.4" r="3.1"/>
<circle class="c0" cx="601.7" cy="277.5" r="3.1"/>
<circle class="c37" cx="558.6" cy="367.3" r="3.1"/>
<circle class="c31" cx="663.6" cy="351.8" r="3.1"/>
<circle class="c31" cx="655.3" cy="352.7" r="3.1"/>
<circle class="c3" cx="590.5" cy="284.4" r="3.1"/>
<circle class="c4" cx="631.4" cy="286.6" r="3.1"/>
<circle class="c2" cx="612.8" cy="281.4" r="3.1"/>
<circle class="c42" cx="522.8" cy="379.3" r="3.1"/>
<circle class="c35" cx="570" cy="362.5" r="3.1"/>
<circle class="c32" cx="642" cy="354.1" r="3.1"/>
<circle class="c4" cx="605" cy="287.7" r="3.1"/>
<circle class="c5" cx="610.9" cy="290" r="3.1"/>
<circle class="c4" cx="634" cy="288" r="3.1"/>
<circle class="c2" cx="601.2" cy="283.2" r="3.1"/>
<circle class="c33" cx="601.5" cy="356.5" r="3.1"/>
<circle class="c9" cx="601.7" cy="298.6" r="3.1"/>
<circle class="c30" cx="674.2" cy="350.7" r="3.1"/>
<circle class="c2" cx="589.9" cy="283.1" r="3.1"/>
<circle class="c31" cx="668.7" cy="351.3" r="3.1"/>
<circle class="c5" cx="600.5" cy="289.2" r="3.1"/>
<circle class="c32" cx="631" cy="355.2" r="3.1"/>
<circle class="c2" cx="598.6" cy="283.2" r="3.1"/>
<circle class="c33" cx="613" cy="356.2" r="3.1"/>
<circle class="c31" cx="651.8" cy="353.2" r="3.1"/>
<circle class="c3" cx="627.1" cy="284.1" r="3.1"/>
<circle class="c32" cx="645.2" cy="353.9" r="3.1"/>
<circle class="c2" cx="593.6" cy="283.2" r="3.1"/>
<circle class="c42" cx="515.8" cy="379.3" r="3.1"/>
<circle class="c30" cx="709.2" cy="348.8" r="3.1"/>
<circle class="c30" cx="688.7" cy="350" r="3.1"/>
<circle class="c32" cx="648.5" cy="353.6" r="3.1"/>
<circle class="c33" cx="598.1" cy="356.9" r="3.1"/>
<circle class="c41" cx="546.3" cy="375.1" r="3.1"/>
<circle class="c32" cx="636.5" cy="354.8" r="3.1"/>
<circle class="c33" cx="607.4" cy="356.4" r="3.1"/>
<circle class="c5" cx="601.1" cy="290.2" r="3.1"/>
<circle class="c33" cx="594.4" cy="357.3" r="3.1"/>
<circle class="c5" cx="630.5" cy="290" r="3.1"/>
<circle class="c30" cx="698.6" cy="349.8" r="3.1"/>
<circle class="c8" cx="591.3" cy="298.1" r="3.1"/>
<circle class="c32" cx="628.5" cy="355.6" r="3.1"/>
<circle class="c9" cx="593.1" cy="298.8" r="3.1"/>
<circle class="c33" cx="615.6" cy="356.3" r="3.1"/>
<circle class="c3" cx="600.9" cy="284.4" r="3.1"/>
<circle class="c31" cx="660" cy="352.5" r="3.1"/>
<circle class="c2" cx="614.5" cy="283.4" r="3.1"/>
<circle class="c26" cx="761.3" cy="340.8" r="3.1"/>
<circle class="c4" cx="630.9" cy="287" r="3.1"/>
<circle class="c36" cx="565.6" cy="364" r="3.1"/>
<circle class="c32" cx="626" cy="355.9" r="3.1"/>
<circle class="c33" cx="618.2" cy="356.3" r="3.1"/>
<circle class="c42" cx="531.9" cy="378.7" r="3.1"/>
<circle class="c29" cx="723.8" cy="347.1" r="3.1"/>
<circle class="c32" cx="639.5" cy="354.7" r="3.1"/>
<circle class="c32" cx="623.4" cy="356.1" r="3.1"/>
<circle class="c32" cx="620.8" cy="356.2" r="3.1"/>
<circle class="c33" cx="589.5" cy="358.2" r="3.1"/>
<circle class="c30" cx="682.1" cy="350.7" r="3.1"/>
<circle class="c33" cx="604.2" cy="356.6" r="3.1"/>
<circle class="c32" cx="633.9" cy="355.3" r="3.1"/>
<circle class="c27" cx="740.2" cy="344.1" r="3.1"/>
<circle class="c33" cx="610" cy="356.5" r="3.1"/>
<circle class="c5" cx="596" cy="289.7" r="3.1"/>
<circle class="c4" cx="639" cy="286.8" r="3.1"/>
<circle class="c31" cx="664.9" cy="352.2" r="3.1"/>
<circle class="c31" cx="656.3" cy="353.1" r="3.1"/>
<circle class="c3" cx="609.1" cy="286.6" r="3.1"/>
<circle class="c30" cx="676" cy="351.3" r="3.1"/>
<circle class="c32" cx="642.7" cy="354.5" r="3.1"/>
<circle class="c31" cx="670.3" cy="351.8" r="3.1"/>
<circle class="c5" cx="598.8" cy="290.9" r="3.1"/>
<circle class="c33" cx="600.9" cy="356.9" r="3.1"/>
<circle class="c3" cx="600.9" cy="284.6" r="3.1"/>
<circle class="c42" cx="512.7" cy="379.9" r="3.1"/>
<circle class="c31" cx="652.8" cy="353.6" r="3.1"/>
<circle class="c32" cx="631.4" cy="355.7" r="3.1"/>
<circle class="c32" cx="645.9" cy="354.3" r="3.1"/>
<circle class="c30" cx="691.2" cy="350.8" r="3.1"/>
<circle class="c33" cx="612.7" cy="356.7" r="3.1"/>
<circle class="c2" cx="601.6" cy="283.9" r="3.1"/>
<circle class="c34" cx="442" cy="359.7" r="3.1"/>
<circle class="c31" cx="649.3" cy="354" r="3.1"/>
<circle class="c30" cx="712.6" cy="349.5" r="3.1"/>
<circle class="c33" cx="589.2" cy="358.5" r="3.1"/>
<circle class="c3" cx="599.9" cy="286.4" r="3.1"/>
<circle class="c33" cx="597.3" cy="357.3" r="3.1"/>
<circle class="c32" cx="636.9" cy="355.2" r="3.1"/>
<circle class="c3" cx="615.8" cy="286.1" r="3.1"/>
<circle class="c33" cx="606.9" cy="356.8" r="3.1"/>
<circle class="c33" cx="593.5" cy="357.9" r="3.1"/>
<circle class="c30" cx="701.6" cy="350.6" r="3.1"/>
<circle class="c42" cx="478.8" cy="379.3" r="3.1"/>
<circle class="c31" cx="661.2" cy="353" r="3.1"/>
<circle class="c32" cx="628.7" cy="356.1" r="3.1"/>
<circle class="c34" cx="579.5" cy="360.6" r="3.1"/>
<circle class="c32" cx="615.4" cy="356.8" r="3.1"/>
<circle class="c4" cx="602.3" cy="289.1" r="3.1"/>
<circle class="c3" cx="600.9" cy="285.2" r="3.1"/>
<circle class="c5" cx="600.4" cy="290.4" r="3.1"/>
<circle class="c5" cx="609.8" cy="290.5" r="3.1"/>
<circle class="c32" cx="626.1" cy="356.4" r="3.1"/>
<circle class="c32" cx="618" cy="356.8" r="3.1"/>
<circle class="c30" cx="684.3" cy="351.4" r="3.1"/>
<circle class="c32" cx="640.1" cy="355.1" r="3.1"/>
<circle class="c29" cx="727.6" cy="347.6" r="3.1"/>
<circle class="c35" cx="573" cy="362.6" r="3.1"/>
<circle class="c3" cx="596.1" cy="286.2" r="3.1"/>
<circle class="c32" cx="623.4" cy="356.6" r="3.1"/>
<circle class="c32" cx="620.7" cy="356.7" r="3.1"/>
<circle class="c32" cx="603.6" cy="357.1" r="3.1"/>
<circle class="c26" cx="767.7" cy="341.1" r="3.1"/>
<circle class="c31" cx="666.4" cy="352.7" r="3.1"/>
<circle class="c32" cx="634.3" cy="355.7" r="3.1"/>
<circle class="c34" cx="578.9" cy="361.7" r="3.1"/>
<circle class="c2" cx="596.3" cy="283.1" r="3.1"/>
<circle class="c31" cx="657.5" cy="353.6" r="3.1"/>
<circle class="c42" cx="497.7" cy="379.8" r="3.1"/>
<circle class="c1" cx="608.9" cy="282.4" r="3.1"/>
<circle class="c32" cx="609.6" cy="357" r="3.1"/>
<circle class="c34" cx="577.9" cy="361.2" r="3.1"/>
<circle class="c39" cx="552.3" cy="372.6" r="3.1"/>
<circle class="c4" cx="603.6" cy="287.4" r="3.1"/>
<circle class="c2" cx="591.9" cy="282.9" r="3.1"/>
<circle class="c42" cx="524.6" cy="380.2" r="3.1"/>
<circle class="c27" cx="744.8" cy="344.4" r="3.1"/>
<circle class="c30" cx="677.8" cy="351.9" r="3.1"/>
<circle class="c4" cx="612.2" cy="288.7" r="3.1"/>
<circle class="c30" cx="671.9" cy="352.3" r="3.1"/>
<circle class="c42" cx="473.6" cy="379.6" r="3.1"/>
<circle class="c32" cx="643.3" cy="355" r="3.1"/>
<circle class="c5" cx="599.9" cy="290.8" r="3.1"/>
<circle class="c4" cx="598.2" cy="289.2" r="3.1"/>
<circle class="c2" cx="605.9" cy="282.9" r="3.1"/>
<circle class="c42" cx="495" cy="379.8" r="3.1"/>
<circle class="c31" cx="653.8" cy="354.1" r="3.1"/>
<circle class="c33" cx="600.1" cy="357.4" r="3.1"/>
<circle class="c35" cx="572.8" cy="363.7" r="3.1"/>
<circle class="c4" cx="587.6" cy="287.7" r="3.1"/>
<circle class="c31" cx="646.7" cy="354.8" r="3.1"/>
<circle class="c30" cx="694" cy="351.7" r="3.1"/>
<circle class="c3" cx="610.6" cy="287.5" r="3.1"/>
<circle class="c31" cx="650.2" cy="354.5" r="3.1"/>
<circle class="c32" cx="631.7" cy="356.2" r="3.1"/>
<circle class="c4" cx="612.7" cy="287.9" r="3.1"/>
<circle class="c32" cx="612.4" cy="357.2" r="3.1"/>
<circle class="c29" cx="716.1" cy="350.2" r="3.1"/>
<circle class="c4" cx="600.8" cy="288.9" r="3.1"/>
<circle class="c33" cx="596.4" cy="358" r="3.1"/>
<circle class="c32" cx="637.4" cy="355.7" r="3.1"/>
</g>
<g fill-opacity="0.79" stroke-opacity="0.79">
<circle class="c3" cx="600.6" cy="286.9" r="3.1"/>
<circle class="c2" cx="600.1" cy="283.3" r="3.1"/>
<circle class="c34" cx="583.5" cy="360.3" r="3.1"/>
<circle class="c31" cx="662.5" cy="353.5" r="3.1"/>
<circle class="c32" cx="606.4" cy="357.3" r="3.1"/>
<circle class="c30" cx="704.8" cy="351.5" r="3.1"/>
<circle class="c33" cx="592.4" cy="358.6" r="3.1"/>
<circle class="c40" cx="548.9" cy="374.8" r="3.1"/>
<circle class="c33" cx="588" cy="359.8" r="3.1"/>
<circle class="c32" cx="629" cy="356.6" r="3.1"/>
<circle class="c32" cx="441.9" cy="356.5" r="3.1"/>
<circle class="c32" cx="615.1" cy="357.3" r="3.1"/>
<circle class="c42" cx="490.3" cy="380.1" r="3.1"/>
<circle class="c3" cx="601.2" cy="286.6" r="3.1"/>
<circle class="c30" cx="686.6" cy="352.2" r="3.1"/>
<circle class="c32" cx="626.2" cy="356.9" r="3.1"/>
<circle class="c32" cx="640.7" cy="355.6" r="3.1"/>
<circle class="c32" cx="617.9" cy="357.4" r="3.1"/>
<circle class="c31" cx="667.8" cy="353.3" r="3.1"/>
<circle class="c42" cx="526.6" cy="380.7" r="3.1"/>
<circle class="c31" cx="658.6" cy="354.2" r="3.1"/>
<circle class="c32" cx="623.5" cy="357.2" r="3.1"/>
<circle class="c28" cx="731.5" cy="347.9" r="3.1"/>
<circle class="c32" cx="603" cy="357.6" r="3.1"/>
<circle class="c32" cx="634.7" cy="356.2" r="3.1"/>
<circle class="c32" cx="620.7" cy="357.4" r="3.1"/>
<circle class="c32" cx="609.2" cy="357.6" r="3.1"/>
<circle class="c30" cx="679.8" cy="352.6" r="3.1"/>
<circle class="c30" cx="673.6" cy="352.9" r="3.1"/>
<circle class="c31" cx="644" cy="355.5" r="3.1"/>
<circle class="c31" cx="654.8" cy="354.7" r="3.1"/>
<circle class="c27" cx="749.6" cy="344.7" r="3.1"/>
<circle class="c32" cx="599.4" cy="358.1" r="3.1"/>
<circle class="c31" cx="647.5" cy="355.3" r="3.1"/>
<circle class="c31" cx="651.1" cy="355" r="3.1"/>
<circle class="c30" cx="696.9" cy="352.7" r="3.1"/>
<circle class="c32" cx="632" cy="356.7" r="3.1"/>
<circle class="c32" cx="612" cy="357.8" r="3.1"/>
<circle class="c42" cx="467" cy="380.7" r="3.1"/>
<circle class="c32" cx="637.9" cy="356.2" r="3.1"/>
<circle class="c31" cx="663.8" cy="354.1" r="3.1"/>
<circle class="c33" cx="595.5" cy="358.7" r="3.1"/>
<circle class="c37" cx="559.9" cy="369.6" r="3.1"/>
<circle class="c32" cx="605.9" cy="357.9" r="3.1"/>
<circle class="c30" cx="708.2" cy="352.5" r="3.1"/>
<circle class="c33" cx="591.3" cy="359.6" r="3.1"/>
<circle class="c36" cx="565.6" cy="368" r="3.1"/>
<circle class="c32" cx="629.2" cy="357.2" r="3.1"/>
<circle class="c39" cx="446" cy="374.1" r="3.1"/>
<circle class="c35" cx="574.6" cy="363.9" r="3.1"/>
<circle class="c32" cx="614.9" cy="358" r="3.1"/>
<circle class="c30" cx="689.1" cy="353.2" r="3.1"/>
<circle class="c31" cx="669.4" cy="353.9" r="3.1"/>
<circle class="c31" cx="641.3" cy="356.1" r="3.1"/>
<circle class="c32" cx="626.4" cy="357.6" r="3.1"/>
<circle class="c31" cx="659.9" cy="354.8" r="3.1"/>
<circle class="c32" cx="617.7" cy="358.1" r="3.1"/>
<circle class="c42" cx="508.9" cy="381.6" r="3.1"/>
<circle class="c42" cx="522.9" cy="381.8" r="3.1"/>
<circle class="c32" cx="635.2" cy="356.8" r="3.1"/>
<circle class="c32" cx="602.3" cy="358.3" r="3.1"/>
<circle class="c32" cx="623.5" cy="357.9" r="3.1"/>
<circle class="c30" cx="681.9" cy="353.4" r="3.1"/>
<circle class="c32" cx="620.6" cy="358.1" r="3.1"/>
<circle class="c30" cx="675.3" cy="353.6" r="3.1"/>
<circle class="c28" cx="735.6" cy="348.3" r="3.1"/>
<circle class="c32" cx="608.7" cy="358.3" r="3.1"/>
<circle class="c31" cx="644.8" cy="356" r="3.1"/>
<circle class="c31" cx="655.9" cy="355.3" r="3.1"/>
<circle class="c31" cx="648.4" cy="355.9" r="3.1"/>
<circle class="c31" cx="652.1" cy="355.7" r="3.1"/>
<circle class="c32" cx="598.6" cy="358.8" r="3.1"/>
<circle class="c30" cx="700" cy="353.8" r="3.1"/>
<circle class="c32" cx="632.3" cy="357.4" r="3.1"/>
<circle class="c27" cx="754.9" cy="345" r="3.1"/>
<circle class="c31" cx="665.2" cy="354.8" r="3.1"/>
<circle class="c32" cx="638.5" cy="356.8" r="3.1"/>
<circle class="c32" cx="611.7" cy="358.6" r="3.1"/>
<circle class="c33" cx="594.5" cy="359.7" r="3.1"/>
<circle class="c32" cx="605.3" cy="358.6" r="3.1"/>
<circle class="c34" cx="579.4" cy="364.1" r="3.1"/>
<circle class="c30" cx="711.7" cy="353.5" r="3.1"/>
<circle class="c33" cx="590.1" cy="360.8" r="3.1"/>
<circle class="c32" cx="629.4" cy="357.9" r="3.1"/>
<circle class="c36" cx="567.3" cy="367.1" r="3.1"/>
<circle class="c32" cx="614.6" cy="358.8" r="3.1"/>
<circle class="c30" cx="671" cy="354.6" r="3.1"/>
<circle class="c30" cx="691.9" cy="354.3" r="3.1"/>
<circle class="c31" cx="641.9" cy="356.7" r="3.1"/>
<circle class="c31" cx="661.1" cy="355.5" r="3.1"/>
<circle class="c42" cx="519.2" cy="382.6" r="3.1"/>
<circle class="c32" cx="626.5" cy="358.3" r="3.1"/>
<circle class="c32" cx="617.6" cy="358.9" r="3.1"/>
<circle class="c37" cx="445.9" cy="370.8" r="3.1"/>
<circle class="c30" cx="677.3" cy="354.4" r="3.1"/>
<circle class="c32" cx="635.6" cy="357.4" r="3.1"/>
<circle class="c37" cx="564.3" cy="371.3" r="3.1"/>
<circle class="c30" cx="684.2" cy="354.3" r="3.1"/>
<circle class="c32" cx="601.6" cy="359.1" r="3.1"/>
<circle class="c32" cx="623.6" cy="358.7" r="3.1"/>
<circle class="c32" cx="620.6" cy="358.9" r="3.1"/>
<circle class="c32" cx="608.3" cy="359.1" r="3.1"/>
<circle class="c31" cx="645.5" cy="356.7" r="3.1"/>
<circle class="c31" cx="657.1" cy="356" r="3.1"/>
<circle class="c28" cx="739.9" cy="348.7" r="3.1"/>
<circle class="c31" cx="649.3" cy="356.6" r="3.1"/>
<circle class="c31" cx="653.1" cy="356.4" r="3.1"/>
<circle class="c32" cx="597.7" cy="359.8" r="3.1"/>
<circle class="c31" cx="666.7" cy="355.5" r="3.1"/>
<circle class="c32" cx="632.7" cy="358.1" r="3.1"/>
<circle class="c42" cx="531.8" cy="381.9" r="3.1"/>
<circle class="c30" cx="703.4" cy="355.1" r="3.1"/>
<circle class="c31" cx="639" cy="357.4" r="3.1"/>
<circle class="c32" cx="611.3" cy="359.5" r="3.1"/>
<circle class="c33" cx="593.4" cy="360.9" r="3.1"/>
<circle class="c26" cx="760.7" cy="345.5" r="3.1"/>
<circle class="c29" cx="727.2" cy="352" r="3.1"/>
<circle class="c32" cx="604.7" cy="359.5" r="3.1"/>
<circle class="c42" cx="501.2" cy="383" r="3.1"/>
<circle class="c32" cx="629.7" cy="358.7" r="3.1"/>
<circle class="c33" cx="588.7" cy="362.3" r="3.1"/>
<circle class="c30" cx="672.7" cy="355.5" r="3.1"/>
<circle class="c32" cx="614.3" cy="359.8" r="3.1"/>
<circle class="c31" cx="642.6" cy="357.4" r="3.1"/>
<circle class="c31" cx="662.5" cy="356.3" r="3.1"/>
<circle class="c30" cx="694.9" cy="355.6" r="3.1"/>
<circle class="c42" cx="462.5" cy="382.8" r="3.1"/>
<circle class="c42" cx="529.1" cy="382.8" r="3.1"/>
<circle class="c32" cx="626.7" cy="359.2" r="3.1"/>
<circle class="c30" cx="679.3" cy="355.4" r="3.1"/>
<circle class="c32" cx="636.1" cy="358.2" r="3.1"/>
<circle class="c30" cx="686.7" cy="355.5" r="3.1"/>
<circle class="c32" cx="617.4" cy="359.9" r="3.1"/>
<circle class="c32" cx="600.9" cy="360.1" r="3.1"/>
<circle class="c32" cx="623.6" cy="359.6" r="3.1"/>
<circle class="c31" cx="646.3" cy="357.4" r="3.1"/>
<circle class="c32" cx="620.5" cy="359.9" r="3.1"/>
<circle class="c31" cx="658.3" cy="356.8" r="3.1"/>
<circle class="c32" cx="607.7" cy="360.1" r="3.1"/>
<circle class="c35" cx="445.8" cy="367.5" r="3.1"/>
<circle class="c31" cx="650.2" cy="357.3" r="3.1"/>
<circle class="c31" cx="654.2" cy="357.2" r="3.1"/>
<circle class="c36" cx="569.1" cy="369.3" r="3.1"/>
<circle class="c28" cx="744.3" cy="349" r="3.1"/>
<circle class="c31" cx="668.3" cy="356.4" r="3.1"/>
<circle class="c33" cx="596.7" cy="361.1" r="3.1"/>
<circle class="c32" cx="633.1" cy="358.9" r="3.1"/>
<circle class="c31" cx="639.6" cy="358.2" r="3.1"/>
<circle class="c31" cx="706.9" cy="356.3" r="3.1"/>
<circle class="c32" cx="610.8" cy="360.6" r="3.1"/>
<circle class="c32" cx="604" cy="360.7" r="3.1"/>
<circle class="c33" cx="592.1" cy="362.6" r="3.1"/>
<circle class="c29" cx="731" cy="352.5" r="3.1"/>
<circle class="c30" cx="674.6" cy="356.4" r="3.1"/>
<circle class="c32" cx="630" cy="359.6" r="3.1"/>
<circle class="c42" cx="483.5" cy="383.7" r="3.1"/>
<circle class="c31" cx="664" cy="357.2" r="3.1"/>
<circle class="c31" cx="643.3" cy="358.2" r="3.1"/>
<circle class="c34" cx="587.1" cy="364.3" r="3.1"/>
<circle class="c32" cx="614" cy="361" r="3.1"/>
<circle class="c26" cx="766.9" cy="346" r="3.1"/>
<circle class="c31" cx="698.1" cy="357.1" r="3.1"/>
<circle class="c30" cx="681.5" cy="356.4" r="3.1"/>
<circle class="c31" cx="636.6" cy="359" r="3.1"/>
<circle class="c32" cx="626.9" cy="360.2" r="3.1"/>
<circle class="c31" cx="689.5" cy="356.9" r="3.1"/>
<circle class="c31" cx="647.2" cy="358.3" r="3.1"/>
<circle class="c32" cx="617.2" cy="361.1" r="3.1"/>
<circle class="c31" cx="659.6" cy="357.7" r="3.1"/>
<circle class="c32" cx="600" cy="361.5" r="3.1"/>
<circle class="c32" cx="623.7" cy="360.7" r="3.1"/>
<circle class="c32" cx="620.5" cy="361" r="3.1"/>
<circle class="c32" cx="607.1" cy="361.4" r="3.1"/>
<circle class="c31" cx="651.2" cy="358.2" r="3.1"/>
<circle class="c31" cx="655.4" cy="358.1" r="3.1"/>
<circle class="c34" cx="445.7" cy="364.3" r="3.1"/>
<circle class="c31" cx="670" cy="357.3" r="3.1"/>
<circle class="c38" cx="555.6" cy="375.7" r="3.1"/>
<circle class="c32" cx="633.5" cy="359.8" r="3.1"/>
<circle class="c31" cx="640.2" cy="359" r="3.1"/>
<circle class="c27" cx="749.1" cy="349.4" r="3.1"/>
<circle class="c40" cx="548.4" cy="379.1" r="3.1"/>
<circle class="c42" cx="496.4" cy="384.5" r="3.1"/>
<circle class="c33" cx="595.5" cy="362.9" r="3.1"/>
<circle class="c37" cx="568.4" cy="372.7" r="3.1"/>
<circle class="c40" cx="546.7" cy="380.8" r="3.1"/>
<circle class="c31" cx="710.6" cy="357.6" r="3.1"/>
<circle class="c42" cx="523.8" cy="384.7" r="3.1"/>
<circle class="c32" cx="610.4" cy="362" r="3.1"/>
<circle class="c31" cx="676.6" cy="357.4" r="3.1"/>
<circle class="c42" cx="478.6" cy="384.7" r="3.1"/>
<circle class="c33" cx="603.2" cy="362.2" r="3.1"/>
<circle class="c32" cx="630.3" cy="360.6" r="3.1"/>
<circle class="c31" cx="665.5" cy="358.2" r="3.1"/>
<circle class="c31" cx="644.1" cy="359.1" r="3.1"/>
<circle class="c29" cx="735.1" cy="353" r="3.1"/>
<circle class="c42" cx="492.8" cy="384.8" r="3.1"/>
<circle class="c34" cx="590.5" cy="364.9" r="3.1"/>
<circle class="c42" cx="522.6" cy="385.2" r="3.1"/>
<circle class="c33" cx="613.7" cy="362.5" r="3.1"/>
<circle class="c31" cx="637.1" cy="359.9" r="3.1"/>
<circle class="c41" cx="450.5" cy="381.8" r="3.1"/>
<circle class="c31" cx="684" cy="357.8" r="3.1"/>
<circle class="c32" cx="627" cy="361.4" r="3.1"/>
<circle class="c42" cx="509.8" cy="385.4" r="3.1"/>
<circle class="c31" cx="701.7" cy="358.7" r="3.1"/>
<circle class="c31" cx="648.1" cy="359.3" r="3.1"/>
<circle class="c34" cx="585.2" cy="366.9" r="3.1"/>
<circle class="c31" cx="661" cy="358.8" r="3.1"/>
<circle class="c33" cx="617" cy="362.6" r="3.1"/>
<circle class="c31" cx="692.6" cy="358.5" r="3.1"/>
<circle class="c36" cx="574.3" cy="370.7" r="3.1"/>
<circle class="c32" cx="623.7" cy="362" r="3.1"/>
<circle class="c31" cx="652.3" cy="359.3" r="3.1"/>
<circle class="c31" cx="656.6" cy="359.1" r="3.1"/>
<circle class="c42" cx="468.4" cy="385.1" r="3.1"/>
<circle class="c32" cx="620.4" cy="362.5" r="3.1"/>
<circle class="c33" cx="598.9" cy="363.5" r="3.1"/>
<circle class="c33" cx="606.5" cy="363.2" r="3.1"/>
<circle class="c31" cx="671.8" cy="358.4" r="3.1"/>
<circle class="c32" cx="445.6" cy="361.1" r="3.1"/>
<circle class="c31" cx="640.9" cy="360" r="3.1"/>
<circle class="c32" cx="633.9" cy="360.9" r="3.1"/>
<circle class="c41" cx="542.1" cy="383" r="3.1"/>
<circle class="c27" cx="754.2" cy="349.8" r="3.1"/>
<circle class="c34" cx="594" cy="365.7" r="3.1"/>
<circle class="c33" cx="609.8" cy="363.9" r="3.1"/>
<circle class="c31" cx="678.8" cy="358.6" r="3.1"/>
<circle class="c31" cx="667.2" cy="359.3" r="3.1"/>
<circle class="c31" cx="644.9" cy="360.2" r="3.1"/>
<circle class="c32" cx="630.6" cy="361.9" r="3.1"/>
<circle class="c41" cx="532.8" cy="385" r="3.1"/>
<circle class="c33" cx="602.2" cy="364.5" r="3.1"/>
<circle class="c28" cx="739.2" cy="353.4" r="3.1"/>
<circle class="c32" cx="637.7" cy="361.1" r="3.1"/>
<circle class="c31" cx="649.1" cy="360.4" r="3.1"/>
<circle class="c33" cx="613.3" cy="364.4" r="3.1"/>
<circle class="c31" cx="662.6" cy="360" r="3.1"/>
<circle class="c31" cx="686.8" cy="359.4" r="3.1"/>
<circle class="c32" cx="627.2" cy="362.9" r="3.1"/>
<circle class="c42" cx="486.5" cy="386.1" r="3.1"/>
<circle class="c39" cx="450.4" cy="378.5" r="3.1"/>
<circle class="c34" cx="588.6" cy="368.1" r="3.1"/>
<circle class="c31" cx="653.5" cy="360.5" r="3.1"/>
<circle class="c31" cx="658" cy="360.4" r="3.1"/>
<circle class="c33" cx="616.8" cy="364.5" r="3.1"/>
<circle class="c32" cx="623.8" cy="363.7" r="3.1"/>
<circle class="c31" cx="695.9" cy="360.3" r="3.1"/>
<circle class="c33" cx="620.3" cy="364.2" r="3.1"/>
<circle class="c35" cx="582.9" cy="370.2" r="3.1"/>
<circle class="c31" cx="673.8" cy="359.7" r="3.1"/>
<circle class="c31" cx="641.6" cy="361.2" r="3.1"/>
<circle class="c32" cx="634.4" cy="362.2" r="3.1"/>
<circle class="c33" cx="605.6" cy="365.7" r="3.1"/>
<circle class="c34" cx="597.4" cy="366.8" r="3.1"/>
<circle class="c42" cx="465" cy="386.6" r="3.1"/>
<circle class="c31" cx="681.2" cy="360.2" r="3.1"/>
<circle class="c31" cx="669" cy="360.7" r="3.1"/>
<circle class="c31" cx="645.8" cy="361.6" r="3.1"/>
<circle class="c27" cx="759.9" cy="350.4" r="3.1"/>
<circle class="c32" cx="631" cy="363.5" r="3.1"/>
<circle class="c38" cx="567.6" cy="377.2" r="3.1"/>
<circle class="c33" cx="609.1" cy="366.6" r="3.1"/>
<circle class="c32" cx="638.3" cy="362.4" r="3.1"/>
<circle class="c36" cx="576.6" cy="372.8" r="3.1"/>
<circle class="c28" cx="743.6" cy="353.8" r="3.1"/>
<circle class="c35" cx="592.1" cy="369.6" r="3.1"/>
<circle class="c29" cx="730.2" cy="357.2" r="3.1"/>
<circle class="c31" cx="650.2" cy="361.8" r="3.1"/>
<circle class="c31" cx="664.2" cy="361.4" r="3.1"/>
<circle class="c37" cx="450.3" cy="375.2" r="3.1"/>
<circle class="c32" cx="627.5" cy="364.6" r="3.1"/>
<circle class="c31" cx="690" cy="361.4" r="3.1"/>
<circle class="c34" cx="600.9" cy="368.2" r="3.1"/>
<circle class="c31" cx="654.8" cy="361.9" r="3.1"/>
<circle class="c31" cx="659.5" cy="361.8" r="3.1"/>
<circle class="c33" cx="612.8" cy="367" r="3.1"/>
<circle class="c33" cx="623.9" cy="365.7" r="3.1"/>
<circle class="c31" cx="676" cy="361.2" r="3.1"/>
<circle class="c31" cx="699.5" cy="362.2" r="3.1"/>
<circle class="c33" cx="616.5" cy="366.9" r="3.1"/>
<circle class="c33" cx="620.2" cy="366.5" r="3.1"/>
<circle class="c37" cx="569.8" cy="375.4" r="3.1"/>
<circle class="c35" cx="586.3" cy="372.2" r="3.1"/>
<circle class="c32" cx="642.4" cy="362.8" r="3.1"/>
<circle class="c32" cx="634.9" cy="363.8" r="3.1"/>
<circle class="c42" cx="505.5" cy="388" r="3.1"/>
<circle class="c42" cx="458.8" cy="387.8" r="3.1"/>
<circle class="c39" cx="557.4" cy="380.5" r="3.1"/>
<circle class="c36" cx="580.2" cy="374.2" r="3.1"/>
<circle class="c34" cx="604.5" cy="369.6" r="3.1"/>
<circle class="c31" cx="671" cy="362.2" r="3.1"/>
<circle class="c32" cx="646.8" cy="363.2" r="3.1"/>
<circle class="c42" cx="527.7" cy="388.1" r="3.1"/>
<circle class="c31" cx="684.1" cy="362.2" r="3.1"/>
<circle class="c37" cx="574.1" cy="376.2" r="3.1"/>
<circle class="c35" cx="595.5" cy="371.6" r="3.1"/>
<circle class="c32" cx="631.4" cy="365.3" r="3.1"/>
<circle class="c42" cx="500.5" cy="388.4" r="3.1"/>
<circle class="c26" cx="764.3" cy="350.1" r="3.1"/>
<circle class="c32" cx="639" cy="364.2" r="3.1"/>
<circle class="c35" cx="450.1" cy="372" r="3.1"/>
<circle class="c32" cx="651.4" cy="363.5" r="3.1"/>
<circle class="c29" cx="734.2" cy="357.7" r="3.1"/>
<circle class="c31" cx="666" cy="363" r="3.1"/>
<circle class="c28" cx="748.3" cy="354.3" r="3.1"/>
<circle class="c32" cx="656.2" cy="363.6" r="3.1"/>
<circle class="c34" cx="608.3" cy="370.4" r="3.1"/>
<circle class="c31" cx="661.1" cy="363.5" r="3.1"/>
<circle class="c33" cx="627.7" cy="366.8" r="3.1"/>
<circle class="c31" cx="693.4" cy="363.5" r="3.1"/>
<circle class="c31" cx="712.7" cy="363.1" r="3.1"/>
<circle class="c31" cx="678.5" cy="363.1" r="3.1"/>
<circle class="c36" cx="589.7" cy="374.7" r="3.1"/>
<circle class="c33" cx="624" cy="368.1" r="3.1"/>
<circle class="c32" cx="643.4" cy="364.6" r="3.1"/>
<circle class="c34" cx="612.2" cy="370.6" r="3.1"/>
<circle class="c32" cx="635.5" cy="365.8" r="3.1"/>
<circle class="c34" cx="620.1" cy="369.3" r="3.1"/>
<circle class="c34" cx="616.2" cy="370.1" r="3.1"/>
<circle class="c36" cx="599.1" cy="373.9" r="3.1"/>
<circle class="c37" cx="583.7" cy="376.9" r="3.1"/>
<circle class="c31" cx="673.3" cy="364.1" r="3.1"/>
<circle class="c32" cx="648" cy="365.1" r="3.1"/>
<circle class="c30" cx="725.1" cy="361.3" r="3.1"/>
<circle class="c42" cx="495.3" cy="389.5" r="3.1"/>
<circle class="c33" cx="450" cy="368.7" r="3.1"/>
<circle class="c32" cx="687.3" cy="364.5" r="3.1"/>
<circle class="c33" cx="631.8" cy="367.6" r="3.1"/>
<circle class="c37" cx="577.4" cy="378.5" r="3.1"/>
<circle class="c42" cx="534.7" cy="388.9" r="3.1"/>
<circle class="c32" cx="639.8" cy="366.4" r="3.1"/>
<circle class="c32" cx="652.8" cy="365.5" r="3.1"/>
<circle class="c29" cx="738.3" cy="358.3" r="3.1"/>
<circle class="c32" cx="668" cy="364.9" r="3.1"/>
<circle class="c42" cx="508.8" cy="390.2" r="3.1"/>
<circle class="c27" cx="753.4" cy="354.9" r="3.1"/>
<circle class="c32" cx="657.8" cy="365.6" r="3.1"/>
<circle class="c32" cx="662.9" cy="365.4" r="3.1"/>
<circle class="c36" cx="602.9" cy="375.7" r="3.1"/>
<circle class="c33" cx="628" cy="369.4" r="3.1"/>
<circle class="c40" cx="455.4" cy="386" r="3.1"/>
<circle class="c41" cx="545.5" cy="386.7" r="3.1"/>
<circle class="c31" cx="716.3" cy="364.2" r="3.1"/>
<circle class="c32" cx="697" cy="365.7" r="3.1"/>
<circle class="c37" cx="593.1" cy="377.8" r="3.1"/>
<circle class="c42" cx="471.3" cy="390.1" r="3.1"/>
<circle class="c38" cx="570.5" cy="380.7" r="3.1"/>
<circle class="c32" cx="681.4" cy="365.4" r="3.1"/>
<circle class="c32" cx="644.4" cy="366.9" r="3.1"/>
<circle class="c33" cx="636.2" cy="368.3" r="3.1"/>
<circle class="c34" cx="624.1" cy="371.2" r="3.1"/>
<circle class="c36" cx="607.1" cy="376.1" r="3.1"/>
<circle class="c39" cx="562.4" cy="383" r="3.1"/>
<circle class="c32" cx="449.9" cy="365.6" r="3.1"/>
<circle class="c35" cx="620" cy="372.8" r="3.1"/>
<circle class="c36" cx="611.4" cy="375.4" r="3.1"/>
<circle class="c30" cx="728.9" cy="361.9" r="3.1"/>
<circle class="c37" cx="587.1" cy="380" r="3.1"/>
<circle class="c35" cx="615.8" cy="374.2" r="3.1"/>
<circle class="c32" cx="649.2" cy="367.4" r="3.1"/>
<circle class="c41" cx="543.6" cy="388.7" r="3.1"/>
<circle class="c32" cx="675.8" cy="366.3" r="3.1"/>
<circle class="c40" cx="552.8" cy="387.2" r="3.1"/>
<circle class="c32" cx="690.7" cy="366.9" r="3.1"/>
<circle class="c33" cx="632.4" cy="370.5" r="3.1"/>
<circle class="c29" cx="742.6" cy="358.8" r="3.1"/>
<circle class="c32" cx="654.3" cy="367.8" r="3.1"/>
<circle class="c38" cx="581" cy="381.4" r="3.1"/>
<circle class="c33" cx="640.7" cy="369" r="3.1"/>
<circle class="c32" cx="670.3" cy="367.1" r="3.1"/>
<circle class="c38" cx="455.3" cy="382.7" r="3.1"/>
<circle class="c32" cx="659.5" cy="367.8" r="3.1"/>
<circle class="c38" cx="596.8" cy="381.1" r="3.1"/>
<circle class="c32" cx="664.9" cy="367.6" r="3.1"/>
<circle class="c27" cx="758.8" cy="355.5" r="3.1"/>
<circle class="c38" cx="574.4" cy="382.7" r="3.1"/>
<circle class="c31" cx="719.7" cy="365" r="3.1"/>
<circle class="c41" cx="548.6" cy="389.2" r="3.1"/>
<circle class="c34" cx="628.4" cy="372.7" r="3.1"/>
<circle class="c42" cx="466.2" cy="391.7" r="3.1"/>
<circle class="c32" cx="684.6" cy="368" r="3.1"/>
<circle class="c33" cx="645.6" cy="369.6" r="3.1"/>
<circle class="c40" cx="559.2" cy="386.3" r="3.1"/>
<circle class="c33" cx="636.9" cy="371.3" r="3.1"/>
<circle class="c35" cx="624.2" cy="374.9" r="3.1"/>
<circle class="c30" cx="732.7" cy="362.5" r="3.1"/>
<circle class="c41" cx="538.8" cy="391" r="3.1"/>
<circle class="c38" cx="590.8" cy="383.5" r="3.1"/>
<circle class="c38" cx="601" cy="383.1" r="3.1"/>
<circle class="c33" cx="650.7" cy="370.1" r="3.1"/>
<circle class="c32" cx="678.6" cy="368.9" r="3.1"/>
<circle class="c37" cx="455.2" cy="379.4" r="3.1"/>
<circle class="c36" cx="619.8" cy="377" r="3.1"/>
<circle class="c26" cx="760.8" cy="354" r="3.1"/>
<circle class="c39" cx="567.6" cy="385.2" r="3.1"/>
<circle class="c28" cx="747.1" cy="359.4" r="3.1"/>
<circle class="c32" cx="694.2" cy="369.2" r="3.1"/>
<circle class="c38" cx="605.7" cy="382.6" r="3.1"/>
<circle class="c39" cx="584.7" cy="384.7" r="3.1"/>
<circle class="c33" cx="656" cy="370.4" r="3.1"/>
<circle class="c36" cx="615.3" cy="379.1" r="3.1"/>
<circle class="c32" cx="672.8" cy="369.7" r="3.1"/>
<circle class="c34" cx="633" cy="373.8" r="3.1"/>
<circle class="c37" cx="610.6" cy="381.1" r="3.1"/>
<circle class="c33" cx="641.8" cy="372.1" r="3.1"/>
<circle class="c31" cx="723.3" cy="365.8" r="3.1"/>
<circle class="c33" cx="661.4" cy="370.4" r="3.1"/>
<circle class="c33" cx="667.1" cy="370.2" r="3.1"/>
<circle class="c39" cx="578.3" cy="385.6" r="3.1"/>
<circle class="c32" cx="713.9" cy="368.3" r="3.1"/>
<circle class="c42" cx="525.2" cy="393.3" r="3.1"/>
<circle class="c39" cx="571.5" cy="386.7" r="3.1"/>
<circle class="c39" cx="594.9" cy="386.4" r="3.1"/>
<circle class="c33" cx="687.9" cy="370.5" r="3.1"/>
<circle class="c35" cx="628.8" cy="376.4" r="3.1"/>
<circle class="c33" cx="646.9" cy="372.7" r="3.1"/>
<circle class="c35" cx="455.1" cy="376.2" r="3.1"/>
<circle class="c42" cx="486.9" cy="393.6" r="3.1"/>
<circle class="c29" cx="736.7" cy="363.2" r="3.1"/>
<circle class="c34" cx="637.8" cy="374.8" r="3.1"/>
<circle class="c42" cx="477.2" cy="393.9" r="3.1"/>
<circle class="c41" cx="554.8" cy="391.4" r="3.1"/>
<circle class="c36" cx="624.3" cy="379" r="3.1"/>
<circle class="c33" cx="652.2" cy="373.1" r="3.1"/>
<circle class="c33" cx="681.7" cy="371.7" r="3.1"/>
<circle class="c39" cx="588.8" cy="387.8" r="3.1"/>
<circle class="c28" cx="752" cy="360" r="3.1"/>
<circle class="c40" cx="564.1" cy="388.7" r="3.1"/>
<circle class="c33" cx="697.6" cy="371.3" r="3.1"/>
<circle class="c31" cx="726.8" cy="366.5" r="3.1"/>
<circle class="c39" cx="599.5" cy="387.9" r="3.1"/>
<circle class="c42" cx="534.9" cy="393.9" r="3.1"/>
<circle class="c33" cx="657.8" cy="373.3" r="3.1"/>
<circle class="c33" cx="675.5" cy="372.6" r="3.1"/>
<circle class="c37" cx="619.7" cy="381.5" r="3.1"/>
<circle class="c33" cx="663.5" cy="373.3" r="3.1"/>
<circle class="c34" cx="643" cy="375.5" r="3.1"/>
<circle class="c33" cx="669.5" cy="373.1" r="3.1"/>
<circle class="c35" cx="633.6" cy="377.6" r="3.1"/>
<circle class="c39" cx="582.5" cy="388.6" r="3.1"/>
<circle class="c33" cx="455" cy="373" r="3.1"/>
<circle class="c32" cx="717.2" cy="369.3" r="3.1"/>
<circle class="c38" cx="614.8" cy="383.9" r="3.1"/>
<circle class="c39" cx="604.6" cy="387.7" r="3.1"/>
<circle class="c38" cx="609.7" cy="386.1" r="3.1"/>
<circle class="c42" cx="521.9" cy="395.3" r="3.1"/>
<circle class="c41" cx="543.7" cy="393.6" r="3.1"/>
<circle class="c40" cx="575.8" cy="389.4" r="3.1"/>
<circle class="c40" cx="460.9" cy="390" r="3.1"/>
<circle class="c33" cx="691.1" cy="372.9" r="3.1"/>
<circle class="c29" cx="740.9" cy="363.8" r="3.1"/>
<circle class="c40" cx="568.6" cy="390.3" r="3.1"/>
<circle class="c34" cx="648.3" cy="376" r="3.1"/>
<circle class="c42" cx="530.7" cy="395.4" r="3.1"/>
<circle class="c40" cx="593.3" cy="390.2" r="3.1"/>
<circle class="c36" cx="629.2" cy="380.4" r="3.1"/>
<circle class="c35" cx="638.8" cy="378.5" r="3.1"/>
<circle class="c42" cx="470.7" cy="395.8" r="3.1"/>
<circle class="c31" cx="454.9" cy="369.9" r="3.1"/>
<circle class="c33" cx="684.7" cy="374.3" r="3.1"/>
<circle class="c34" cx="653.9" cy="376.2" r="3.1"/>
<circle class="c30" cx="730.5" cy="367.2" r="3.1"/>
<circle class="c33" cx="700.8" cy="373" r="3.1"/>
<circle class="c37" cx="624.5" cy="383.1" r="3.1"/>
<circle class="c40" cx="587" cy="391.3" r="3.1"/>
<circle class="c38" cx="460.8" cy="386.7" r="3.1"/>
<circle class="c34" cx="659.7" cy="376.3" r="3.1"/>
<circle class="c31" cx="720.6" cy="370.1" r="3.1"/>
<circle class="c40" cx="598.3" cy="391.4" r="3.1"/>
<circle class="c33" cx="678.4" cy="375.5" r="3.1"/>
<circle class="c34" cx="665.8" cy="376.2" r="3.1"/>
<circle class="c34" cx="672" cy="376" r="3.1"/>
<circle class="c41" cx="558.1" cy="394" r="3.1"/>
<circle class="c35" cx="644.2" cy="379.1" r="3.1"/>
<circle class="c38" cx="619.5" cy="385.8" r="3.1"/>
<circle class="c41" cx="545.8" cy="395.2" r="3.1"/>
<circle class="c40" cx="580.3" cy="392.1" r="3.1"/>
<circle class="c36" cx="634.3" cy="381.5" r="3.1"/>
<circle class="c42" cx="542.5" cy="396.2" r="3.1"/>
<circle class="c26" cx="756.9" cy="357.8" r="3.1"/>
<circle class="c42" cx="487.2" cy="396.9" r="3.1"/>
<circle class="c29" cx="745.3" cy="364.4" r="3.1"/>
<circle class="c40" cx="603.6" cy="391.3" r="3.1"/>
<circle class="c33" cx="694.2" cy="374.9" r="3.1"/>
<circle class="c38" cx="614.3" cy="388.2" r="3.1"/>
<circle class="c40" cx="573.3" cy="392.8" r="3.1"/>
<circle class="c39" cx="609" cy="390.1" r="3.1"/>
<circle class="c41" cx="565.8" cy="393.7" r="3.1"/>
<circle class="c35" cx="649.8" cy="379.3" r="3.1"/>
<circle class="c40" cx="591.9" cy="393.3" r="3.1"/>
<circle class="c36" cx="460.7" cy="383.5" r="3.1"/>
<circle class="c37" cx="629.6" cy="384.3" r="3.1"/>
<circle class="c30" cx="734.4" cy="367.9" r="3.1"/>
<circle class="c33" cx="704" cy="374.5" r="3.1"/>
<circle class="c33" cx="687.7" cy="376.6" r="3.1"/>
<circle class="c36" cx="639.8" cy="382.2" r="3.1"/>
<circle class="c34" cx="655.6" cy="379.3" r="3.1"/>
<circle class="c42" cx="518.1" cy="398.2" r="3.1"/>
<circle class="c31" cx="724.1" cy="370.9" r="3.1"/>
<circle class="c32" cx="714" cy="373.2" r="3.1"/>
</g>
<g fill-opacity="0.86" stroke-opacity="0.86">
<circle class="c41" cx="585.2" cy="394.5" r="3.1"/>
<circle class="c34" cx="661.7" cy="379.3" r="3.1"/>
<circle class="c37" cx="624.6" cy="387" r="3.1"/>
<circle class="c34" cx="681.2" cy="378.1" r="3.1"/>
<circle class="c40" cx="597.1" cy="394.4" r="3.1"/>
<circle class="c34" cx="668" cy="379.2" r="3.1"/>
<circle class="c42" cx="501.4" cy="398.8" r="3.1"/>
<circle class="c34" cx="674.6" cy="378.9" r="3.1"/>
<circle class="c35" cx="460.6" cy="380.3" r="3.1"/>
<circle class="c28" cx="750" cy="365.1" r="3.1"/>
<circle class="c35" cx="645.4" cy="382.5" r="3.1"/>
<circle class="c33" cx="697.2" cy="376.6" r="3.1"/>
<circle class="c42" cx="515.6" cy="399.1" r="3.1"/>
<circle class="c41" cx="578.2" cy="395.3" r="3.1"/>
<circle class="c38" cx="619.4" cy="389.5" r="3.1"/>
<circle class="c42" cx="546.2" cy="398" r="3.1"/>
<circle class="c36" cx="635" cy="385.2" r="3.1"/>
<circle class="c41" cx="555.1" cy="397.2" r="3.1"/>
<circle class="c40" cx="602.7" cy="394.4" r="3.1"/>
<circle class="c42" cx="536" cy="398.7" r="3.1"/>
<circle class="c39" cx="613.9" cy="391.8" r="3.1"/>
<circle class="c40" cx="608.3" cy="393.4" r="3.1"/>
<circle class="c41" cx="570.8" cy="396" r="3.1"/>
<circle class="c30" cx="738.4" cy="368.6" r="3.1"/>
<circle class="c35" cx="651.3" cy="382.5" r="3.1"/>
<circle class="c32" cx="707.1" cy="375.8" r="3.1"/>
<circle class="c41" cx="563" cy="396.8" r="3.1"/>
<circle class="c41" cx="590.4" cy="396.2" r="3.1"/>
<circle class="c31" cx="727.6" cy="371.7" r="3.1"/>
<circle class="c37" cx="630" cy="387.9" r="3.1"/>
<circle class="c32" cx="717.3" cy="374.2" r="3.1"/>
<circle class="c33" cx="460.5" cy="377.1" r="3.1"/>
<circle class="c35" cx="657.3" cy="382.3" r="3.1"/>
<circle class="c36" cx="640.7" cy="385.6" r="3.1"/>
<circle class="c40" cx="467" cy="393.8" r="3.1"/>
<circle class="c27" cx="752.4" cy="364.1" r="3.1"/>
<circle class="c34" cx="683.9" cy="380.3" r="3.1"/>
<circle class="c35" cx="663.7" cy="382.1" r="3.1"/>
<circle class="c41" cx="583.4" cy="397.4" r="3.1"/>
<circle class="c41" cx="596" cy="397.1" r="3.1"/>
<circle class="c38" cx="624.7" cy="390.5" r="3.1"/>
<circle class="c35" cx="670.3" cy="381.9" r="3.1"/>
<circle class="c34" cx="677.1" cy="381.4" r="3.1"/>
<circle class="c33" cx="700.1" cy="378.1" r="3.1"/>
<circle class="c36" cx="646.6" cy="385.6" r="3.1"/>
<circle class="c41" cx="576.1" cy="398.3" r="3.1"/>
<circle class="c39" cx="619.2" cy="392.8" r="3.1"/>
<circle class="c31" cx="460.4" cy="374" r="3.1"/>
<circle class="c37" cx="635.7" cy="388.5" r="3.1"/>
<circle class="c41" cx="601.8" cy="397.2" r="3.1"/>
<circle class="c26" cx="752.5" cy="361.5" r="3.1"/>
<circle class="c42" cx="483.6" cy="400.9" r="3.1"/>
<circle class="c29" cx="742.7" cy="369.3" r="3.1"/>
<circle class="c32" cx="710.2" cy="377" r="3.1"/>
<circle class="c38" cx="466.8" cy="390.6" r="3.1"/>
<circle class="c42" cx="535" cy="401.3" r="3.1"/>
<circle class="c40" cx="613.5" cy="394.9" r="3.1"/>
<circle class="c40" cx="607.7" cy="396.4" r="3.1"/>
<circle class="c41" cx="568.3" cy="399.1" r="3.1"/>
<circle class="c42" cx="508.5" cy="401.7" r="3.1"/>
<circle class="c36" cx="652.7" cy="385.4" r="3.1"/>
<circle class="c30" cx="731.3" cy="372.4" r="3.1"/>
<circle class="c31" cx="720.6" cy="375.1" r="3.1"/>
<circle class="c41" cx="589" cy="398.9" r="3.1"/>
<circle class="c42" cx="478.3" cy="401.4" r="3.1"/>
<circle class="c41" cx="560.1" cy="399.9" r="3.1"/>
<circle class="c38" cx="630.4" cy="391.1" r="3.1"/>
<circle class="c35" cx="659" cy="385" r="3.1"/>
<circle class="c42" cx="517.9" cy="402.4" r="3.1"/>
<circle class="c37" cx="641.7" cy="388.6" r="3.1"/>
<circle class="c34" cx="686.4" cy="382" r="3.1"/>
<circle class="c35" cx="665.6" cy="384.7" r="3.1"/>
<circle class="c33" cx="703" cy="379.4" r="3.1"/>
<circle class="c36" cx="466.7" cy="387.3" r="3.1"/>
<circle class="c41" cx="581.7" cy="400.1" r="3.1"/>
<circle class="c34" cx="679.5" cy="383.4" r="3.1"/>
<circle class="c41" cx="594.8" cy="399.7" r="3.1"/>
<circle class="c35" cx="672.5" cy="384.2" r="3.1"/>
<circle class="c39" cx="624.9" cy="393.5" r="3.1"/>
<circle class="c42" cx="550.3" cy="401.6" r="3.1"/>
<circle class="c36" cx="647.8" cy="388.4" r="3.1"/>
<circle class="c32" cx="713.3" cy="378" r="3.1"/>
<circle class="c42" cx="528.2" cy="403.3" r="3.1"/>
<circle class="c41" cx="574" cy="401.1" r="3.1"/>
<circle class="c41" cx="600.9" cy="399.7" r="3.1"/>
<circle class="c39" cx="619.1" cy="395.8" r="3.1"/>
<circle class="c29" cx="747.2" cy="370.1" r="3.1"/>
<circle class="c37" cx="636.4" cy="391.4" r="3.1"/>
<circle class="c42" cx="505" cy="403.5" r="3.1"/>
<circle class="c42" cx="493.7" cy="403.3" r="3.1"/>
<circle class="c31" cx="724" cy="375.9" r="3.1"/>
<circle class="c30" cx="735.2" cy="373.2" r="3.1"/>
<circle class="c40" cx="613.1" cy="397.7" r="3.1"/>
<circle class="c40" cx="607" cy="399" r="3.1"/>
<circle class="c42" cx="535.7" cy="403.4" r="3.1"/>
<circle class="c34" cx="466.6" cy="384.1" r="3.1"/>
<circle class="c36" cx="654.1" cy="388" r="3.1"/>
<circle class="c42" cx="565.8" cy="401.9" r="3.1"/>
<circle class="c41" cx="587.5" cy="401.4" r="3.1"/>
<circle class="c42" cx="557.2" cy="402.7" r="3.1"/>
<circle class="c34" cx="688.8" cy="383.6" r="3.1"/>
<circle class="c38" cx="630.8" cy="393.9" r="3.1"/>
<circle class="c35" cx="660.7" cy="387.5" r="3.1"/>
<circle class="c27" cx="747.7" cy="367.8" r="3.1"/>
<circle class="c37" cx="642.5" cy="391.3" r="3.1"/>
<circle class="c33" cx="705.9" cy="380.6" r="3.1"/>
<circle class="c35" cx="667.5" cy="387" r="3.1"/>
<circle class="c34" cx="681.7" cy="385.1" r="3.1"/>
<circle class="c35" cx="674.6" cy="386.2" r="3.1"/>
<circle class="c42" cx="579.9" cy="402.7" r="3.1"/>
<circle class="c41" cx="593.7" cy="402.1" r="3.1"/>
<circle class="c39" cx="473.5" cy="397.4" r="3.1"/>
<circle class="c33" cx="466.5" cy="381" r="3.1"/>
<circle class="c39" cx="625" cy="396.3" r="3.1"/>
<circle class="c32" cx="716.5" cy="379" r="3.1"/>
<circle class="c37" cx="648.9" cy="390.9" r="3.1"/>
<circle class="c26" cx="747.7" cy="365.1" r="3.1"/>
<circle class="c33" cx="698.5" cy="382.9" r="3.1"/>
<circle class="c31" cx="727.5" cy="376.7" r="3.1"/>
<circle class="c41" cx="600" cy="402.2" r="3.1"/>
<circle class="c39" cx="619" cy="398.4" r="3.1"/>
<circle class="c38" cx="637" cy="394" r="3.1"/>
<circle class="c29" cx="739.3" cy="374" r="3.1"/>
<circle class="c42" cx="571.8" cy="403.8" r="3.1"/>
<circle class="c42" cx="514.7" cy="405.7" r="3.1"/>
<circle class="c40" cx="612.7" cy="400.2" r="3.1"/>
<circle class="c41" cx="606.4" cy="401.5" r="3.1"/>
<circle class="c36" cx="655.5" cy="390.4" r="3.1"/>
<circle class="c42" cx="499.2" cy="405.8" r="3.1"/>
<circle class="c38" cx="473.4" cy="394.2" r="3.1"/>
<circle class="c31" cx="466.4" cy="377.9" r="3.1"/>
<circle class="c42" cx="586.1" cy="403.9" r="3.1"/>
<circle class="c42" cx="563.3" cy="404.7" r="3.1"/>
<circle class="c32" cx="708.8" cy="381.7" r="3.1"/>
<circle class="c36" cx="662.3" cy="389.7" r="3.1"/>
<circle class="c42" cx="509.8" cy="406.5" r="3.1"/>
<circle class="c42" cx="554.3" cy="405.5" r="3.1"/>
<circle class="c38" cx="631.2" cy="396.5" r="3.1"/>
<circle class="c37" cx="643.4" cy="393.7" r="3.1"/>
<circle class="c34" cx="683.9" cy="386.7" r="3.1"/>
<circle class="c42" cx="482" cy="406.2" r="3.1"/>
<circle class="c35" cx="669.4" cy="389" r="3.1"/>
<circle class="c35" cx="676.6" cy="388" r="3.1"/>
<circle class="c41" cx="592.5" cy="404.5" r="3.1"/>
<circle class="c31" cx="719.7" cy="379.9" r="3.1"/>
<circle class="c42" cx="578.1" cy="405.3" r="3.1"/>
<circle class="c39" cx="625.1" cy="398.8" r="3.1"/>
<circle class="c36" cx="473.3" cy="390.9" r="3.1"/>
<circle class="c29" cx="742.5" cy="373.9" r="3.1"/>
<circle class="c33" cx="701.2" cy="384" r="3.1"/>
<circle class="c37" cx="650.1" cy="393.2" r="3.1"/>
<circle class="c30" cx="731.3" cy="377.6" r="3.1"/>
<circle class="c42" cx="494.2" cy="407.3" r="3.1"/>
<circle class="c41" cx="599.1" cy="404.5" r="3.1"/>
<circle class="c38" cx="637.6" cy="396.4" r="3.1"/>
<circle class="c40" cx="618.8" cy="400.9" r="3.1"/>
<circle class="c42" cx="569.7" cy="406.4" r="3.1"/>
<circle class="c41" cx="605.7" cy="403.8" r="3.1"/>
<circle class="c40" cx="612.3" cy="402.6" r="3.1"/>
<circle class="c36" cx="656.9" cy="392.5" r="3.1"/>
<circle class="c41" cx="480.6" cy="404" r="3.1"/>
<circle class="c27" cx="742.5" cy="371.3" r="3.1"/>
<circle class="c32" cx="711.8" cy="382.7" r="3.1"/>
<circle class="c42" cx="584.6" cy="406.3" r="3.1"/>
<circle class="c34" cx="473.2" cy="387.8" r="3.1"/>
<circle class="c42" cx="560.7" cy="407.4" r="3.1"/>
<circle class="c36" cx="663.9" cy="391.7" r="3.1"/>
<circle class="c42" cx="532.2" cy="408.5" r="3.1"/>
<circle class="c34" cx="686.1" cy="388" r="3.1"/>
<circle class="c38" cx="631.6" cy="398.9" r="3.1"/>
<circle class="c37" cx="644.3" cy="395.9" r="3.1"/>
<circle class="c35" cx="671.2" cy="390.8" r="3.1"/>
<circle class="c35" cx="678.6" cy="389.6" r="3.1"/>
<circle class="c42" cx="551.3" cy="408.1" r="3.1"/>
<circle class="c31" cx="723.1" cy="380.8" r="3.1"/>
<circle class="c42" cx="506" cy="409.2" r="3.1"/>
<circle class="c39" cx="480.5" cy="400.8" r="3.1"/>
<circle class="c26" cx="742.6" cy="368.7" r="3.1"/>
<circle class="c41" cx="591.3" cy="406.8" r="3.1"/>
<circle class="c33" cx="703.9" cy="385.1" r="3.1"/>
<circle class="c42" cx="576.3" cy="407.8" r="3.1"/>
<circle class="c39" cx="625.2" cy="401.2" r="3.1"/>
<circle class="c32" cx="473.1" cy="384.6" r="3.1"/>
<circle class="c37" cx="651.2" cy="395.3" r="3.1"/>
<circle class="c30" cx="735.2" cy="378.5" r="3.1"/>
<circle class="c38" cx="638.3" cy="398.6" r="3.1"/>
<circle class="c41" cx="598.2" cy="406.7" r="3.1"/>
<circle class="c40" cx="618.7" cy="403.2" r="3.1"/>
<circle class="c42" cx="540.6" cy="409.6" r="3.1"/>
<circle class="c33" cx="696.1" cy="387.4" r="3.1"/>
<circle class="c36" cx="658.2" cy="394.5" r="3.1"/>
<circle class="c41" cx="605.1" cy="406" r="3.1"/>
<circle class="c40" cx="611.9" cy="404.8" r="3.1"/>
<circle class="c43" cx="516.2" cy="410.3" r="3.1"/>
<circle class="c42" cx="567.4" cy="409" r="3.1"/>
<circle class="c32" cx="714.9" cy="383.7" r="3.1"/>
<circle class="c37" cx="480.4" cy="397.5" r="3.1"/>
<circle class="c34" cx="688.3" cy="389.3" r="3.1"/>
<circle class="c36" cx="665.5" cy="393.5" r="3.1"/>
<circle class="c31" cx="473" cy="381.5" r="3.1"/>
<circle class="c42" cx="583.1" cy="408.7" r="3.1"/>
<circle class="c35" cx="673" cy="392.4" r="3.1"/>
<circle class="c34" cx="680.6" cy="391" r="3.1"/>
<circle class="c39" cx="631.9" cy="401.1" r="3.1"/>
<circle class="c42" cx="558.1" cy="410" r="3.1"/>
<circle class="c37" cx="645.2" cy="398" r="3.1"/>
<circle class="c29" cx="736.9" cy="377.4" r="3.1"/>
<circle class="c31" cx="726.7" cy="381.8" r="3.1"/>
<circle class="c42" cx="548.3" cy="410.8" r="3.1"/>
<circle class="c32" cx="706.7" cy="386.2" r="3.1"/>
<circle class="c35" cx="480.4" cy="394.3" r="3.1"/>
<circle class="c41" cx="590.1" cy="409.1" r="3.1"/>
<circle class="c39" cx="625.4" cy="403.3" r="3.1"/>
<circle class="c42" cx="538.2" cy="411.4" r="3.1"/>
<circle class="c37" cx="652.3" cy="397.3" r="3.1"/>
<circle class="c42" cx="574.4" cy="410.2" r="3.1"/>
<circle class="c27" cx="737" cy="374.7" r="3.1"/>
<circle class="c42" cx="498.2" cy="411.9" r="3.1"/>
<circle class="c40" cx="488.1" cy="407.1" r="3.1"/>
<circle class="c38" cx="638.9" cy="400.7" r="3.1"/>
<circle class="c33" cx="698.5" cy="388.5" r="3.1"/>
<circle class="c41" cx="597.3" cy="408.9" r="3.1"/>
<circle class="c40" cx="618.6" cy="405.4" r="3.1"/>
<circle class="c36" cx="659.6" cy="396.3" r="3.1"/>
<circle class="c31" cx="718.1" cy="384.7" r="3.1"/>
<circle class="c40" cx="611.6" cy="407" r="3.1"/>
<circle class="c41" cx="604.4" cy="408.2" r="3.1"/>
<circle class="c34" cx="690.5" cy="390.5" r="3.1"/>
<circle class="c34" cx="480.3" cy="391.2" r="3.1"/>
<circle class="c42" cx="565.2" cy="411.5" r="3.1"/>
<circle class="c35" cx="667.1" cy="395.2" r="3.1"/>
<circle class="c34" cx="682.6" cy="392.4" r="3.1"/>
<circle class="c26" cx="737" cy="372.1" r="3.1"/>
<circle class="c35" cx="674.8" cy="393.9" r="3.1"/>
<circle class="c42" cx="581.6" cy="411" r="3.1"/>
<circle class="c37" cx="646" cy="400" r="3.1"/>
<circle class="c38" cx="632.3" cy="403.2" r="3.1"/>
<circle class="c39" cx="488" cy="403.8" r="3.1"/>
<circle class="c43" cx="522.8" cy="413.3" r="3.1"/>
<circle class="c30" cx="730.4" cy="382.8" r="3.1"/>
<circle class="c42" cx="555.4" cy="412.6" r="3.1"/>
<circle class="c32" cx="709.5" cy="387.3" r="3.1"/>
<circle class="c32" cx="480.2" cy="388" r="3.1"/>
<circle class="c42" cx="545.2" cy="413.4" r="3.1"/>
<circle class="c37" cx="653.4" cy="399.1" r="3.1"/>
<circle class="c39" cx="625.5" cy="405.4" r="3.1"/>
<circle class="c41" cx="588.9" cy="411.3" r="3.1"/>
<circle class="c33" cx="701.1" cy="389.6" r="3.1"/>
<circle class="c42" cx="572.5" cy="412.6" r="3.1"/>
<circle class="c38" cx="639.5" cy="402.6" r="3.1"/>
<circle class="c37" cx="487.9" cy="400.6" r="3.1"/>
<circle class="c40" cx="618.4" cy="407.4" r="3.1"/>
<circle class="c29" cx="731" cy="380.7" r="3.1"/>
<circle class="c36" cx="661" cy="398.1" r="3.1"/>
<circle class="c41" cx="596.3" cy="411.1" r="3.1"/>
<circle class="c31" cx="721.5" cy="385.8" r="3.1"/>
<circle class="c33" cx="692.8" cy="391.7" r="3.1"/>
<circle class="c40" cx="611.2" cy="409.1" r="3.1"/>
<circle class="c41" cx="603.8" cy="410.3" r="3.1"/>
<circle class="c30" cx="480.1" cy="385" r="3.1"/>
<circle class="c35" cx="668.7" cy="396.8" r="3.1"/>
<circle class="c34" cx="684.6" cy="393.6" r="3.1"/>
<circle class="c42" cx="532.4" cy="414.8" r="3.1"/>
<circle class="c35" cx="676.6" cy="395.3" r="3.1"/>
<circle class="c43" cx="506.5" cy="415.1" r="3.1"/>
<circle class="c42" cx="562.8" cy="414" r="3.1"/>
<circle class="c37" cx="646.9" cy="401.9" r="3.1"/>
<circle class="c38" cx="632.7" cy="405.1" r="3.1"/>
<circle class="c27" cx="731.1" cy="378" r="3.1"/>
<circle class="c42" cx="580" cy="413.3" r="3.1"/>
<circle class="c35" cx="487.8" cy="397.4" r="3.1"/>
<circle class="c31" cx="712.5" cy="388.4" r="3.1"/>
<circle class="c40" cx="496" cy="409.9" r="3.1"/>
<circle class="c42" cx="552.6" cy="415.2" r="3.1"/>
<circle class="c36" cx="654.5" cy="400.9" r="3.1"/>
<circle class="c39" cx="625.6" cy="407.4" r="3.1"/>
<circle class="c43" cx="519.8" cy="416.2" r="3.1"/>
<circle class="c41" cx="587.6" cy="413.5" r="3.1"/>
<circle class="c26" cx="731.1" cy="375.4" r="3.1"/>
<circle class="c32" cx="703.7" cy="390.7" r="3.1"/>
<circle class="c42" cx="541.9" cy="416" r="3.1"/>
<circle class="c33" cx="487.8" cy="394.3" r="3.1"/>
<circle class="c38" cx="640.1" cy="404.5" r="3.1"/>
<circle class="c42" cx="570.5" cy="415.1" r="3.1"/>
<circle class="c36" cx="662.3" cy="399.7" r="3.1"/>
<circle class="c40" cx="618.3" cy="409.5" r="3.1"/>
<circle class="c33" cx="695.1" cy="392.8" r="3.1"/>
</g>
<g fill-opacity="0.93" stroke-opacity="0.93">
<circle class="c38" cx="495.9" cy="406.7" r="3.1"/>
<circle class="c41" cx="595.4" cy="413.2" r="3.1"/>
<circle class="c35" cx="670.3" cy="398.3" r="3.1"/>
<circle class="c40" cx="610.8" cy="411.1" r="3.1"/>
<circle class="c33" cx="686.7" cy="394.9" r="3.1"/>
<circle class="c41" cx="603.1" cy="412.4" r="3.1"/>
<circle class="c34" cx="678.4" cy="396.7" r="3.1"/>
<circle class="c37" cx="647.8" cy="403.7" r="3.1"/>
<circle class="c32" cx="487.7" cy="391.2" r="3.1"/>
<circle class="c38" cx="633.1" cy="407.1" r="3.1"/>
<circle class="c29" cx="724.7" cy="383.9" r="3.1"/>
<circle class="c42" cx="560.4" cy="416.6" r="3.1"/>
<circle class="c31" cx="715.7" cy="389.5" r="3.1"/>
<circle class="c42" cx="578.3" cy="415.7" r="3.1"/>
<circle class="c37" cx="495.8" cy="403.5" r="3.1"/>
<circle class="c36" cx="655.7" cy="402.6" r="3.1"/>
<circle class="c39" cx="625.7" cy="409.4" r="3.1"/>
<circle class="c32" cx="706.5" cy="391.8" r="3.1"/>
<circle class="c42" cx="549.7" cy="417.8" r="3.1"/>
<circle class="c27" cx="724.8" cy="381.2" r="3.1"/>
<circle class="c30" cx="487.6" cy="388.2" r="3.1"/>
<circle class="c41" cx="586.3" cy="415.7" r="3.1"/>
<circle class="c37" cx="640.8" cy="406.4" r="3.1"/>
<circle class="c35" cx="663.7" cy="401.3" r="3.1"/>
<circle class="c32" cx="697.5" cy="394" r="3.1"/>
<circle class="c35" cx="495.7" cy="400.3" r="3.1"/>
<circle class="c40" cx="504.2" cy="412.5" r="3.1"/>
<circle class="c42" cx="538.5" cy="418.7" r="3.1"/>
<circle class="c39" cx="618.1" cy="411.4" r="3.1"/>
<circle class="c42" cx="568.4" cy="417.5" r="3.1"/>
<circle class="c35" cx="672" cy="399.8" r="3.1"/>
<circle class="c41" cx="594.4" cy="415.3" r="3.1"/>
<circle class="c33" cx="688.9" cy="396.1" r="3.1"/>
<circle class="c34" cx="680.3" cy="398.1" r="3.1"/>
<circle class="c42" cx="514.8" cy="419.3" r="3.1"/>
<circle class="c40" cx="610.3" cy="413.2" r="3.1"/>
<circle class="c26" cx="724.9" cy="378.6" r="3.1"/>
<circle class="c40" cx="602.4" cy="414.5" r="3.1"/>
<circle class="c42" cx="528.7" cy="419.5" r="3.1"/>
<circle class="c37" cx="648.7" cy="405.4" r="3.1"/>
<circle class="c38" cx="633.5" cy="408.9" r="3.1"/>
<circle class="c33" cx="495.6" cy="397.2" r="3.1"/>
<circle class="c38" cx="504.1" cy="409.2" r="3.1"/>
<circle class="c42" cx="557.9" cy="419.2" r="3.1"/>
<circle class="c42" cx="576.6" cy="418" r="3.1"/>
<circle class="c36" cx="656.8" cy="404.2" r="3.1"/>
<circle class="c42" cx="524.1" cy="420.4" r="3.1"/>
<circle class="c29" cx="718.1" cy="386.9" r="3.1"/>
<circle class="c31" cx="709.5" cy="393.1" r="3.1"/>
<circle class="c39" cx="625.9" cy="411.3" r="3.1"/>
<circle class="c41" cx="512.8" cy="418" r="3.1"/>
<circle class="c32" cx="495.6" cy="394.1" r="3.1"/>
<circle class="c37" cx="641.4" cy="408.2" r="3.1"/>
<circle class="c35" cx="665.2" cy="402.9" r="3.1"/>
<circle class="c36" cx="504.1" cy="406.1" r="3.1"/>
<circle class="c41" cx="584.9" cy="418" r="3.1"/>
<circle class="c32" cx="700.1" cy="395.2" r="3.1"/>
<circle class="c42" cx="546.7" cy="420.5" r="3.1"/>
<circle class="c39" cx="618" cy="413.4" r="3.1"/>
<circle class="c34" cx="673.7" cy="401.3" r="3.1"/>
<circle class="c33" cx="691.1" cy="397.4" r="3.1"/>
<circle class="c27" cx="718.2" cy="384.2" r="3.1"/>
<circle class="c33" cx="682.3" cy="399.5" r="3.1"/>
<circle class="c41" cx="593.3" cy="417.5" r="3.1"/>
<circle class="c42" cx="566.3" cy="420.1" r="3.1"/>
<circle class="c40" cx="609.9" cy="415.2" r="3.1"/>
<circle class="c42" cx="535" cy="421.4" r="3.1"/>
<circle class="c40" cx="601.7" cy="416.6" r="3.1"/>
<circle class="c40" cx="512.8" cy="414.8" r="3.1"/>
<circle class="c30" cx="495.5" cy="391.1" r="3.1"/>
<circle class="c36" cx="649.6" cy="407.1" r="3.1"/>
<circle class="c35" cx="504" cy="402.9" r="3.1"/>
<circle class="c38" cx="633.9" cy="410.8" r="3.1"/>
<circle class="c26" cx="718.2" cy="381.6" r="3.1"/>
<circle class="c30" cx="711.1" cy="392.5" r="3.1"/>
<circle class="c36" cx="658" cy="405.9" r="3.1"/>
<circle class="c41" cx="574.8" cy="420.4" r="3.1"/>
<circle class="c42" cx="555.2" cy="421.8" r="3.1"/>
<circle class="c38" cx="512.7" cy="411.5" r="3.1"/>
<circle class="c38" cx="626" cy="413.3" r="3.1"/>
<circle class="c33" cx="503.9" cy="399.8" r="3.1"/>
<circle class="c29" cx="711.2" cy="389.8" r="3.1"/>
<circle class="c35" cx="666.6" cy="404.5" r="3.1"/>
<circle class="c37" cx="642.1" cy="410" r="3.1"/>
<circle class="c32" cx="702.8" cy="396.6" r="3.1"/>
<circle class="c41" cx="521.7" cy="420" r="3.1"/>
<circle class="c41" cx="583.5" cy="420.3" r="3.1"/>
<circle class="c34" cx="675.4" cy="402.8" r="3.1"/>
<circle class="c32" cx="693.5" cy="398.8" r="3.1"/>
<circle class="c39" cx="617.8" cy="415.4" r="3.1"/>
<circle class="c33" cx="684.4" cy="400.9" r="3.1"/>
<circle class="c42" cx="543.5" cy="423.3" r="3.1"/>
<circle class="c36" cx="512.6" cy="408.4" r="3.1"/>
<circle class="c41" cx="592.3" cy="419.7" r="3.1"/>
<circle class="c27" cx="711.2" cy="387.2" r="3.1"/>
<circle class="c31" cx="503.8" cy="396.8" r="3.1"/>
<circle class="c40" cx="609.5" cy="417.2" r="3.1"/>
<circle class="c40" cx="600.9" cy="418.7" r="3.1"/>
<circle class="c36" cx="650.6" cy="408.9" r="3.1"/>
<circle class="c42" cx="564" cy="422.6" r="3.1"/>
<circle class="c39" cx="521.6" cy="416.8" r="3.1"/>
<circle class="c38" cx="634.3" cy="412.7" r="3.1"/>
<circle class="c42" cx="531.2" cy="424.3" r="3.1"/>
<circle class="c30" cx="703.9" cy="395.3" r="3.1"/>
<circle class="c26" cx="711.3" cy="384.5" r="3.1"/>
<circle class="c34" cx="512.5" cy="405.3" r="3.1"/>
<circle class="c30" cx="503.8" cy="393.8" r="3.1"/>
<circle class="c35" cx="659.3" cy="407.6" r="3.1"/>
<circle class="c41" cx="573" cy="422.9" r="3.1"/>
<circle class="c38" cx="626.1" cy="415.2" r="3.1"/>
<circle class="c37" cx="521.5" cy="413.6" r="3.1"/>
<circle class="c42" cx="552.5" cy="424.6" r="3.1"/>
<circle class="c34" cx="668.2" cy="406.1" r="3.1"/>
<circle class="c29" cx="703.9" cy="392.6" r="3.1"/>
<circle class="c37" cx="642.8" cy="411.8" r="3.1"/>
<circle class="c41" cx="530.7" cy="421.7" r="3.1"/>
<circle class="c33" cx="512.5" cy="402.2" r="3.1"/>
<circle class="c34" cx="677.3" cy="404.4" r="3.1"/>
<circle class="c32" cx="696" cy="400.3" r="3.1"/>
<circle class="c33" cx="686.6" cy="402.5" r="3.1"/>
<circle class="c39" cx="617.7" cy="417.4" r="3.1"/>
<circle class="c41" cx="582" cy="422.7" r="3.1"/>
<circle class="c36" cx="521.5" cy="410.4" r="3.1"/>
<circle class="c27" cx="704" cy="389.9" r="3.1"/>
<circle class="c39" cx="609" cy="419.3" r="3.1"/>
<circle class="c40" cx="591.1" cy="422" r="3.1"/>
<circle class="c36" cx="651.6" cy="410.6" r="3.1"/>
<circle class="c42" cx="540.2" cy="426.2" r="3.1"/>
<circle class="c40" cx="600.1" cy="420.8" r="3.1"/>
<circle class="c39" cx="530.7" cy="418.5" r="3.1"/>
<circle class="c31" cx="512.4" cy="399.2" r="3.1"/>
<circle class="c37" cx="634.7" cy="414.6" r="3.1"/>
<circle class="c42" cx="561.7" cy="425.3" r="3.1"/>
<circle class="c30" cx="696.3" cy="397.9" r="3.1"/>
<circle class="c26" cx="704" cy="387.3" r="3.1"/>
<circle class="c35" cx="660.6" cy="409.3" r="3.1"/>
<circle class="c34" cx="521.4" cy="407.3" r="3.1"/>
<circle class="c40" cx="540" cy="423.1" r="3.1"/>
<circle class="c37" cx="530.6" cy="415.3" r="3.1"/>
<circle class="c29" cx="512.3" cy="396.2" r="3.1"/>
<circle class="c38" cx="626.3" cy="417.2" r="3.1"/>
<circle class="c29" cx="696.3" cy="395.2" r="3.1"/>
<circle class="c34" cx="669.8" cy="407.8" r="3.1"/>
<circle class="c41" cx="571" cy="425.6" r="3.1"/>
<circle class="c36" cx="643.6" cy="413.7" r="3.1"/>
<circle class="c32" cx="521.3" cy="404.3" r="3.1"/>
<circle class="c33" cx="679.3" cy="406.1" r="3.1"/>
<circle class="c38" cx="617.5" cy="419.5" r="3.1"/>
<circle class="c35" cx="530.6" cy="412.2" r="3.1"/>
<circle class="c39" cx="540" cy="420" r="3.1"/>
<circle class="c28" cx="696.4" cy="392.5" r="3.1"/>
<circle class="c41" cx="580.5" cy="425.2" r="3.1"/>
<circle class="c39" cx="608.5" cy="421.5" r="3.1"/>
<circle class="c31" cx="688.4" cy="400.4" r="3.1"/>
<circle class="c35" cx="652.6" cy="412.5" r="3.1"/>
<circle class="c40" cx="590" cy="424.4" r="3.1"/>
<circle class="c40" cx="599.3" cy="423.1" r="3.1"/>
<circle class="c31" cx="521.3" cy="401.3" r="3.1"/>
<circle class="c37" cx="635.2" cy="416.6" r="3.1"/>
<circle class="c40" cx="549.5" cy="424.3" r="3.1"/>
<circle class="c26" cx="696.4" cy="389.8" r="3.1"/>
<circle class="c34" cx="530.5" cy="409.1" r="3.1"/>
<circle class="c37" cx="539.9" cy="416.8" r="3.1"/>
<circle class="c35" cx="662" cy="411.2" r="3.1"/>
<circle class="c29" cx="688.5" cy="397.7" r="3.1"/>
<circle class="c32" cx="680.3" cy="405.5" r="3.1"/>
<circle class="c29" cx="521.2" cy="398.3" r="3.1"/>
<circle class="c38" cx="626.4" cy="419.3" r="3.1"/>
<circle class="c38" cx="549.4" cy="421.1" r="3.1"/>
<circle class="c34" cx="671.6" cy="409.7" r="3.1"/>
<circle class="c32" cx="530.4" cy="406.1" r="3.1"/>
<circle class="c36" cx="644.3" cy="415.7" r="3.1"/>
<circle class="c35" cx="539.9" cy="413.7" r="3.1"/>
<circle class="c28" cx="688.5" cy="395" r="3.1"/>
<circle class="c41" cx="569" cy="428.3" r="3.1"/>
<circle class="c40" cx="559" cy="425.2" r="3.1"/>
<circle class="c31" cx="680.3" cy="402.7" r="3.1"/>
<circle class="c38" cx="617.4" cy="421.7" r="3.1"/>
<circle class="c37" cx="549.4" cy="418" r="3.1"/>
<circle class="c31" cx="530.4" cy="403.1" r="3.1"/>
<circle class="c26" cx="688.5" cy="392.3" r="3.1"/>
<circle class="c40" cx="578.8" cy="427.9" r="3.1"/>
<circle class="c34" cx="539.8" cy="410.7" r="3.1"/>
<circle class="c35" cx="653.7" cy="414.5" r="3.1"/>
<circle class="c32" cx="671.9" cy="407.6" r="3.1"/>
<circle class="c39" cx="608" cy="423.8" r="3.1"/>
<circle class="c29" cx="680.3" cy="399.9" r="3.1"/>
<circle class="c38" cx="559" cy="422" r="3.1"/>
<circle class="c40" cx="588.7" cy="426.9" r="3.1"/>
<circle class="c37" cx="635.6" cy="418.7" r="3.1"/>
<circle class="c39" cx="598.5" cy="425.5" r="3.1"/>
<circle class="c39" cx="568.7" cy="425.8" r="3.1"/>
<circle class="c35" cx="549.3" cy="414.9" r="3.1"/>
<circle class="c29" cx="530.3" cy="400.2" r="3.1"/>
<circle class="c32" cx="539.8" cy="407.7" r="3.1"/>
<circle class="c31" cx="671.9" cy="404.8" r="3.1"/>
<circle class="c28" cx="680.4" cy="397.2" r="3.1"/>
<circle class="c36" cx="558.9" cy="418.9" r="3.1"/>
</g>
<g fill-opacity="1.00" stroke-opacity="1.00">
<circle class="c39" cx="578.4" cy="426.1" r="3.1"/>
<circle class="c38" cx="568.7" cy="422.7" r="3.1"/>
<circle class="c37" cx="626.6" cy="421.6" r="3.1"/>
<circle class="c32" cx="663.2" cy="409.5" r="3.1"/>
<circle class="c36" cx="645.1" cy="417.8" r="3.1"/>
<circle class="c33" cx="549.3" cy="411.9" r="3.1"/>
<circle class="c29" cx="671.9" cy="402" r="3.1"/>
<circle class="c26" cx="680.4" cy="394.5" r="3.1"/>
<circle class="c34" cx="654.3" cy="414.1" r="3.1"/>
<circle class="c30" cx="539.7" cy="404.7" r="3.1"/>
<circle class="c35" cx="558.9" cy="415.9" r="3.1"/>
<circle class="c38" cx="617.2" cy="424.1" r="3.1"/>
<circle class="c31" cx="663.2" cy="406.7" r="3.1"/>
<circle class="c37" cx="578.4" cy="423" r="3.1"/>
<circle class="c36" cx="568.6" cy="419.6" r="3.1"/>
<circle class="c32" cx="549.2" cy="408.9" r="3.1"/>
<circle class="c28" cx="671.9" cy="399.3" r="3.1"/>
<circle class="c33" cx="654.4" cy="411.3" r="3.1"/>
<circle class="c29" cx="539.7" cy="401.7" r="3.1"/>
<circle class="c34" cx="645.3" cy="415.7" r="3.1"/>
<circle class="c37" cx="588.1" cy="423.1" r="3.1"/>
<circle class="c33" cx="558.9" cy="412.9" r="3.1"/>
<circle class="c29" cx="663.3" cy="403.9" r="3.1"/>
<circle class="c36" cx="578.4" cy="420" r="3.1"/>
<circle class="c34" cx="568.6" cy="416.6" r="3.1"/>
<circle class="c26" cx="672" cy="396.6" r="3.1"/>
<circle class="c37" cx="597.9" cy="423" r="3.1"/>
<circle class="c30" cx="549.2" cy="406" r="3.1"/>
<circle class="c36" cx="617.2" cy="421.9" r="3.1"/>
<circle class="c31" cx="654.4" cy="408.4" r="3.1"/>
<circle class="c34" cx="636.1" cy="417" r="3.1"/>
<circle class="c37" cx="607.5" cy="422.6" r="3.1"/>
<circle class="c33" cx="645.3" cy="412.8" r="3.1"/>
<circle class="c36" cx="588.1" cy="420.1" r="3.1"/>
<circle class="c31" cx="558.8" cy="409.9" r="3.1"/>
<circle class="c28" cx="663.3" cy="401.2" r="3.1"/>
<circle class="c35" cx="626.7" cy="418.1" r="3.1"/>
<circle class="c34" cx="578.3" cy="417" r="3.1"/>
<circle class="c33" cx="568.6" cy="413.6" r="3.1"/>
<circle class="c35" cx="597.8" cy="420" r="3.1"/>
<circle class="c28" cx="549.1" cy="403" r="3.1"/>
<circle class="c30" cx="654.4" cy="405.6" r="3.1"/>
<circle class="c35" cx="617.1" cy="419" r="3.1"/>
<circle class="c33" cx="636.1" cy="414.1" r="3.1"/>
<circle class="c35" cx="607.5" cy="419.6" r="3.1"/>
<circle class="c31" cx="645.3" cy="409.9" r="3.1"/>
<circle class="c26" cx="663.3" cy="398.5" r="3.1"/>
<circle class="c34" cx="588.1" cy="417.1" r="3.1"/>
<circle class="c30" cx="558.8" cy="407" r="3.1"/>
<circle class="c33" cx="626.7" cy="415.2" r="3.1"/>
<circle class="c33" cx="578.3" cy="414" r="3.1"/>
<circle class="c31" cx="568.5" cy="410.6" r="3.1"/>
<circle class="c28" cx="654.4" cy="402.9" r="3.1"/>
<circle class="c34" cx="597.8" cy="417" r="3.1"/>
<circle class="c33" cx="617.1" cy="416" r="3.1"/>
<circle class="c31" cx="636.1" cy="411.2" r="3.1"/>
<circle class="c30" cx="645.3" cy="407.1" r="3.1"/>
<circle class="c33" cx="607.5" cy="416.6" r="3.1"/>
<circle class="c28" cx="558.8" cy="404.1" r="3.1"/>
<circle class="c32" cx="588.1" cy="414.2" r="3.1"/>
<circle class="c32" cx="626.7" cy="412.3" r="3.1"/>
<circle class="c30" cx="568.5" cy="407.7" r="3.1"/>
<circle class="c31" cx="578.3" cy="411.1" r="3.1"/>
<circle class="c27" cx="654.4" cy="400.1" r="3.1"/>
<circle class="c32" cx="597.8" cy="414.1" r="3.1"/>
<circle class="c30" cx="636.1" cy="408.4" r="3.1"/>
<circle class="c32" cx="617.1" cy="413.1" r="3.1"/>
<circle class="c28" cx="645.3" cy="404.3" r="3.1"/>
<circle class="c32" cx="607.5" cy="413.7" r="3.1"/>
<circle class="c31" cx="588" cy="411.3" r="3.1"/>
<circle class="c30" cx="626.7" cy="409.4" r="3.1"/>
<circle class="c28" cx="568.5" cy="404.8" r="3.1"/>
<circle class="c29" cx="578.2" cy="408.2" r="3.1"/>
<circle class="c31" cx="597.8" cy="411.2" r="3.1"/>
<circle class="c28" cx="636.1" cy="405.6" r="3.1"/>
<circle class="c30" cx="617.1" cy="410.3" r="3.1"/>
<circle class="c27" cx="645.4" cy="401.6" r="3.1"/>
<circle class="c30" cx="607.5" cy="410.8" r="3.1"/>
<circle class="c29" cx="588" cy="408.4" r="3.1"/>
<circle class="c28" cx="626.7" cy="406.6" r="3.1"/>
<circle class="c28" cx="578.2" cy="405.3" r="3.1"/>
<circle class="c27" cx="636.1" cy="402.9" r="3.1"/>
<circle class="c29" cx="597.8" cy="408.3" r="3.1"/>
<circle class="c29" cx="617.1" cy="407.4" r="3.1"/>
<circle class="c29" cx="607.5" cy="408" r="3.1"/>
<circle class="c28" cx="588" cy="405.5" r="3.1"/>
<circle class="c27" cx="626.7" cy="403.9" r="3.1"/>
<circle class="c27" cx="597.8" cy="405.5" r="3.1"/>
<circle class="c27" cx="617.1" cy="404.7" r="3.1"/>
<circle class="c27" cx="607.5" cy="405.2" r="3.1"/>
</g></g>
<rect class="lg" x="787.5" y="115.5" width="85" height="25" rx="2.8" ry="2.8"/>
<circle cx="806.3" cy="128.2" r="3.1" fill="#1f9c88" stroke="#1f9c88" stroke-width="1.39" fill-opacity=".86" stroke-opacity=".86"/>
<clipPath id="c2"><rect x="286.5" y="669.5" width="132" height="132"/></clipPath>
<path clip-path="url(#c2)" fill="#90ee90" fill-rule="evenodd" d="M332.2 669.2 L358.9 669.2 L362.4 671.0 L366.9 673.3 L369.0 676.4 L368.8 679.9 L366.9 682.4 L363.9 683.3 L367.1 684.2 L369.6 686.7 L372.2 687.9 L376.7 687.9 L381.1 686.8 L384.7 686.1 L388.8 686.8 L392.3 689.0 L393.7 692.5 L398.0 695.2 L402.4 699.5 L406.0 704.4 L409.2 710.7 L411.7 717.8 L413.3 724.9 L414.0 732.0 L413.8 740.0 L412.8 748.9 L410.8 757.8 L407.8 766.7 L403.7 774.1 L398.4 781.2 L392.3 787.3 L385.6 792.4 L378.4 796.9 L371.3 799.9 L366.0 801.3 L321.6 801.3 L315.3 798.7 L308.2 794.6 L301.1 789.4 L294.9 783.9 L289.9 778.2 L286.5 773.8 L286.5 702.7 L288.3 697.9 L291.0 692.9 L294.5 688.8 L298.4 686.3 L302.4 683.6 L304.8 680.4 L307.3 678.3 L311.8 676.9 L317.1 675.3 L323.3 673.0 L327.8 671.0ZM300.4 737.5 L302.0 735.4 L304.7 733.8 L307.3 733.1 L310.0 733.6 L312.0 735.0 L314.4 736.1 L317.1 735.7 L319.1 734.7 L321.0 734.0 L321.4 736.1 L320.8 737.7 L318.0 737.9 L314.8 737.3 L312.3 737.5 L310.2 738.9 L307.7 740.2 L304.8 740.4 L302.4 739.5ZM286.5 740.2 L292.8 740.4 L292.8 740.9 L286.5 741.1Z"/>
<rect class="k" x="286.5" y="669.5" width="132" height="132"/>
<rect class="lg" x="432.5" y="676.5" width="85" height="46" rx="2.8" ry="2.8"/>
<circle cx="451.5" cy="689.5" r="4.85" fill="#90ee90"/>
<circle cx="451.5" cy="710.5" r="4.85" fill="#0000ff"/>
<path fill="#0000ff" d="M677 802V782H695V802ZM695 802V791H714V802ZM714 802V783H733V802ZM733 802V793H752V802ZM752 802V795H771V802ZM771 802V771H791V802ZM791 802V732H810V802ZM810 802V678H829V802ZM829 802V675H848V802ZM848 802V776H867V802Z"/>
<rect class="k" x="676.5" y="669.5" width="404" height="132"/>
<path class="k" d="M303.5 801.5v4.5M352.5 801.5v4.5M401.5 801.5v4.5M286.5 784.5h-4.5M286.5 735.5h-4.5M286.5 686.5h-4.5M676.5 801.5v4.5M726.5 801.5v4.5M777.5 801.5v4.5M827.5 801.5v4.5M878.5 801.5v4.5M928.5 801.5v4.5M979.5 801.5v4.5M1029.5 801.5v4.5M1080.5 801.5v4.5M676.5 801.5h-4.5M676.5 750.5h-4.5M676.5 699.5h-4.5"/>
<rect class="lg" x="977.5" y="676.5" width="96" height="25" rx="2.8" ry="2.8"/>
<rect x="983" y="683" width="28" height="10" fill="#0000ff"/>
<g style="will-change:opacity">
<text x="389.30" y="526.78" font-size="14.38" textLength="36.77" lengthAdjust="spacingAndGlyphs">−600</text>
<text x="432.18" y="540.82" font-size="14.38" textLength="36.43" lengthAdjust="spacingAndGlyphs">−400</text>
<text x="475.34" y="555.09" font-size="14.38" textLength="36.68" lengthAdjust="spacingAndGlyphs">−200</text>
<text x="520.29" y="568.58" font-size="14.38" textLength="7.95" lengthAdjust="spacingAndGlyphs">0</text>
<text x="565.10" y="584.30" font-size="14.38" textLength="25.82" lengthAdjust="spacingAndGlyphs">200</text>
<text x="610.62" y="599.26" font-size="14.38" textLength="24.42" lengthAdjust="spacingAndGlyphs">400</text>
<text x="656.35" y="614.46" font-size="14.38" textLength="25.70" lengthAdjust="spacingAndGlyphs">600</text>
<text transform="translate(507.85,582.14) rotate(-342.0)" y="4.00" font-size="14.38" textLength="45.79" lengthAdjust="spacingAndGlyphs">X (cm)</text>
<text x="722.31" y="604.35" font-size="14.38" textLength="36.49" lengthAdjust="spacingAndGlyphs">−600</text>
<text x="747.34" y="578.45" font-size="14.38" textLength="36.64" lengthAdjust="spacingAndGlyphs">−400</text>
<text x="771.22" y="553.25" font-size="14.38" textLength="36.43" lengthAdjust="spacingAndGlyphs">−200</text>
<text x="796.38" y="528.73" font-size="14.38" textLength="8.11" lengthAdjust="spacingAndGlyphs">0</text>
<text x="818.20" y="504.87" font-size="14.38" textLength="25.69" lengthAdjust="spacingAndGlyphs">200</text>
<text x="840.63" y="481.62" font-size="14.38" textLength="24.55" lengthAdjust="spacingAndGlyphs">400</text>
<text x="862.11" y="458.98" font-size="14.38" textLength="25.71" lengthAdjust="spacingAndGlyphs">600</text>
<text transform="translate(815.77,536.24) rotate(-45.6)" y="4.00" font-size="14.38" textLength="45.67" lengthAdjust="spacingAndGlyphs">Y (cm)</text>
<text x="892.52" y="253.57" font-size="14.38" textLength="8.09" lengthAdjust="spacingAndGlyphs">0</text>
<text x="889.65" y="274.75" font-size="14.38" textLength="23.79" lengthAdjust="spacingAndGlyphs">100</text>
<text x="889.13" y="296.84" font-size="14.38" textLength="25.82" lengthAdjust="spacingAndGlyphs">200</text>
<text x="887.64" y="318.74" font-size="14.38" textLength="24.47" lengthAdjust="spacingAndGlyphs">300</text>
<text x="886.58" y="340.44" font-size="14.38" textLength="24.48" lengthAdjust="spacingAndGlyphs">400</text>
<text x="884.69" y="361.95" font-size="14.38" textLength="24.57" lengthAdjust="spacingAndGlyphs">500</text>
<text x="884.16" y="383.29" font-size="14.38" textLength="25.80" lengthAdjust="spacingAndGlyphs">600</text>
<text x="882.66" y="404.44" font-size="14.38" textLength="24.79" lengthAdjust="spacingAndGlyphs">700</text>
<text x="882.24" y="425.40" font-size="14.38" textLength="25.67" lengthAdjust="spacingAndGlyphs">800</text>
<text transform="translate(917.99,326.42) rotate(-87.3)" y="4.00" font-size="14.38" textLength="46.63" lengthAdjust="spacingAndGlyphs">H (cm)</text>
<text x="614.54" y="99.67" font-size="19.67" textLength="277.07" lengthAdjust="spacingAndGlyphs">LiDAR Point 3D Coordinate Graph</text>
<text x="303.38" y="821.72" font-size="14.38" textLength="36.43" lengthAdjust="spacingAndGlyphs">−500</text>
<text x="353.46" y="821.72" font-size="14.38" textLength="8.09" lengthAdjust="spacingAndGlyphs">0</text>
<text x="400.57" y="821.72" font-size="14.38" textLength="24.54" lengthAdjust="spacingAndGlyphs">500</text>
<text x="352.01" y="840.21" font-size="12.37" textLength="45.86" lengthAdjust="spacingAndGlyphs">X (cm)</text>
<text x="257.21" y="789.61" font-size="14.38" textLength="36.43" lengthAdjust="spacingAndGlyphs">−500</text>
<text x="273.37" y="739.50" font-size="14.38" textLength="8.11" lengthAdjust="spacingAndGlyphs">0</text>
<text x="262.61" y="691.39" font-size="14.38" textLength="24.54" lengthAdjust="spacingAndGlyphs">500</text>
<text transform="translate(223.96,735.22) rotate(-90.0)" y="4.00" font-size="12.32" textLength="44.30" lengthAdjust="spacingAndGlyphs">Y (cm)</text>
<text x="352.71" y="660.67" font-size="19.67" textLength="277.07" lengthAdjust="spacingAndGlyphs">LiDAR Point 2D Coordinate Graph</text>
<text x="676.51" y="821.72" font-size="14.38" textLength="8.30" lengthAdjust="spacingAndGlyphs">0</text>
<text x="726.84" y="821.72" font-size="14.38" textLength="24.50" lengthAdjust="spacingAndGlyphs">100</text>
<text x="777.30" y="821.72" font-size="14.38" textLength="25.34" lengthAdjust="spacingAndGlyphs">200</text>
<text x="826.64" y="821.72" font-size="14.38" textLength="24.45" lengthAdjust="spacingAndGlyphs">300</text>
<text x="877.66" y="821.72" font-size="14.38" textLength="24.38" lengthAdjust="spacingAndGlyphs">400</text>
<text x="927.66" y="821.72" font-size="14.38" textLength="24.54" lengthAdjust="spacingAndGlyphs">500</text>
<text x="979.17" y="821.72" font-size="14.38" textLength="25.73" lengthAdjust="spacingAndGlyphs">600</text>
<text x="1028.62" y="821.72" font-size="14.38" textLength="24.48" lengthAdjust="spacingAndGlyphs">700</text>
<text x="1080.21" y="821.72" font-size="14.38" textLength="25.64" lengthAdjust="spacingAndGlyphs">800</text>
<text x="662.42" y="805.50" font-size="14.38" textLength="8.30" lengthAdjust="spacingAndGlyphs">0</text>
<text x="648.15" y="755.40" font-size="14.38" textLength="33.08" lengthAdjust="spacingAndGlyphs">1000</text>
<text x="648.44" y="704.29" font-size="14.38" textLength="34.58" lengthAdjust="spacingAndGlyphs">2000</text>
<text x="878.00" y="660.67" font-size="19.67" textLength="146.03" lengthAdjust="spacingAndGlyphs">Height Histogram</text>
<text x="848.10" y="130.50" font-size="14.38" textLength="34.16" lengthAdjust="spacingAndGlyphs">point</text>
<text x="493.19" y="692.50" font-size="14.38" textLength="34.01" lengthAdjust="spacingAndGlyphs">point</text>
<text x="490.43" y="713.44" font-size="14.38" textLength="25.88" lengthAdjust="spacingAndGlyphs">wall</text>
<text x="1044.45" y="692.50" font-size="14.38" textLength="45.22" lengthAdjust="spacingAndGlyphs">Height</text>
</g>
</svg></body></html>
